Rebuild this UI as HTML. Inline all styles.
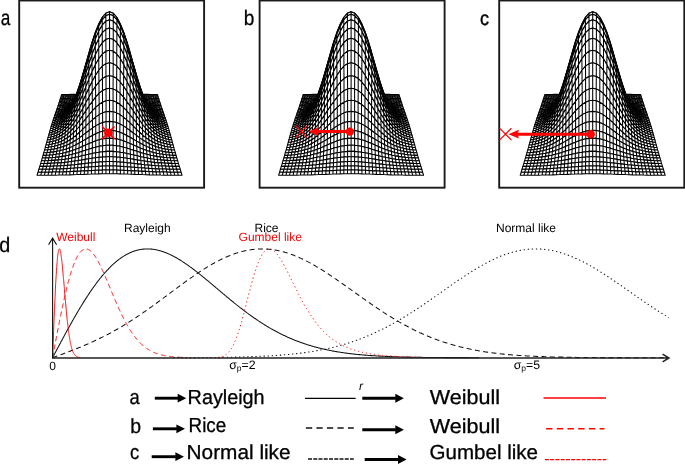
<!DOCTYPE html>
<html><head><meta charset="utf-8"><title>figure</title>
<style>html,body{margin:0;padding:0;background:#fff}svg{display:block;will-change:transform;opacity:0.999}text{font-family:"Liberation Sans",sans-serif;text-rendering:geometricPrecision}</style>
</head><body>
<svg width="685" height="464" viewBox="0 0 685 464">
<rect width="685" height="464" fill="#fff"/>
<defs><g id="m" fill="#fff" stroke="#000" stroke-width="1.05" stroke-linejoin="round">
<path stroke-width="1.3" d="M-12.1 -32.3L-9.7 -32.4L-9.6 -33.2L-12.0 -33.1ZM9.7 -32.4L12.1 -32.3L12.0 -33.1L9.6 -33.2ZM-9.7 -32.4L-7.3 -32.5L-7.2 -33.3L-9.6 -33.2ZM7.3 -32.5L9.7 -32.4L9.6 -33.2L7.2 -33.3ZM-7.3 -32.5L-4.8 -32.6L-4.8 -33.3L-7.2 -33.3ZM4.8 -32.6L7.3 -32.5L7.2 -33.3L4.8 -33.3ZM-4.8 -32.6L-2.4 -32.7L-2.4 -33.4L-4.8 -33.3ZM2.4 -32.7L4.8 -32.6L4.8 -33.3L2.4 -33.4ZM-2.4 -32.7L0.0 -32.7L0.0 -33.4L-2.4 -33.4ZM0.0 -32.7L2.4 -32.7L2.4 -33.4L0.0 -33.4Z"/>
<path d="M-48.3 -30.8L-45.9 -30.9L-45.5 -32.2L-47.9 -32.2ZM45.9 -30.9L48.3 -30.8L47.9 -32.2L45.5 -32.2ZM-45.9 -30.9L-43.5 -30.9L-43.1 -32.2L-45.5 -32.2ZM43.5 -30.9L45.9 -30.9L45.5 -32.2L43.1 -32.2ZM-43.5 -30.9L-41.1 -30.9L-40.7 -32.2L-43.1 -32.2ZM41.1 -30.9L43.5 -30.9L43.1 -32.2L40.7 -32.2ZM-41.1 -30.9L-38.7 -31.0L-38.3 -32.3L-40.7 -32.2ZM38.7 -31.0L41.1 -30.9L40.7 -32.2L38.3 -32.3ZM-38.7 -31.0L-36.2 -31.0L-35.9 -32.3L-38.3 -32.3ZM36.2 -31.0L38.7 -31.0L38.3 -32.3L35.9 -32.3ZM-36.2 -31.0L-33.8 -31.1L-33.5 -32.3L-35.9 -32.3ZM33.8 -31.1L36.2 -31.0L35.9 -32.3L33.5 -32.3ZM-33.8 -31.1L-31.4 -31.2L-31.2 -32.4L-33.5 -32.3ZM31.4 -31.2L33.8 -31.1L33.5 -32.3L31.2 -32.4ZM-31.4 -31.2L-29.0 -31.3L-28.8 -32.5L-31.2 -32.4ZM29.0 -31.3L31.4 -31.2L31.2 -32.4L28.8 -32.5ZM-29.0 -31.3L-26.6 -31.4L-26.4 -32.5L-28.8 -32.5ZM26.6 -31.4L29.0 -31.3L28.8 -32.5L26.4 -32.5ZM-26.6 -31.4L-24.2 -31.5L-24.0 -32.6L-26.4 -32.5ZM24.2 -31.5L26.6 -31.4L26.4 -32.5L24.0 -32.6ZM-24.2 -31.5L-21.8 -31.7L-21.6 -32.7L-24.0 -32.6ZM21.8 -31.7L24.2 -31.5L24.0 -32.6L21.6 -32.7ZM-21.8 -31.7L-19.4 -31.8L-19.2 -32.8L-21.6 -32.7ZM19.4 -31.8L21.8 -31.7L21.6 -32.7L19.2 -32.8ZM-19.4 -31.8L-16.9 -32.0L-16.8 -32.9L-19.2 -32.8ZM16.9 -32.0L19.4 -31.8L19.2 -32.8L16.8 -32.9ZM-16.9 -32.0L-14.5 -32.1L-14.4 -33.0L-16.8 -32.9ZM14.5 -32.1L16.9 -32.0L16.8 -32.9L14.4 -33.0ZM-14.5 -32.1L-12.1 -32.3L-12.0 -33.1L-14.4 -33.0ZM12.1 -32.3L14.5 -32.1L14.4 -33.0L12.0 -33.1Z"/>
<path stroke-width="1.3" d="M-17.1 -31.2L-14.7 -31.4L-14.5 -32.1L-16.9 -32.0ZM14.7 -31.4L17.1 -31.2L16.9 -32.0L14.5 -32.1ZM-14.7 -31.4L-12.2 -31.6L-12.1 -32.3L-14.5 -32.1ZM12.2 -31.6L14.7 -31.4L14.5 -32.1L12.1 -32.3ZM-12.2 -31.6L-9.8 -31.8L-9.7 -32.4L-12.1 -32.3ZM9.8 -31.8L12.2 -31.6L12.1 -32.3L9.7 -32.4ZM-9.8 -31.8L-7.3 -32.0L-7.3 -32.5L-9.7 -32.4ZM7.3 -32.0L9.8 -31.8L9.7 -32.4L7.3 -32.5ZM-7.3 -32.0L-4.9 -32.1L-4.8 -32.6L-7.3 -32.5ZM4.9 -32.1L7.3 -32.0L7.3 -32.5L4.8 -32.6ZM-4.9 -32.1L-2.5 -32.2L-2.4 -32.7L-4.8 -32.6ZM2.5 -32.2L4.9 -32.1L4.8 -32.6L2.4 -32.7ZM-2.5 -32.2L0.0 -32.2L0.0 -32.7L-2.4 -32.7ZM0.0 -32.2L2.5 -32.2L2.4 -32.7L0.0 -32.7Z"/>
<path d="M-48.7 -29.5L-46.3 -29.5L-45.9 -30.9L-48.3 -30.8ZM46.3 -29.5L48.7 -29.5L48.3 -30.8L45.9 -30.9ZM-46.3 -29.5L-43.9 -29.6L-43.5 -30.9L-45.9 -30.9ZM43.9 -29.6L46.3 -29.5L45.9 -30.9L43.5 -30.9ZM-43.9 -29.6L-41.4 -29.6L-41.1 -30.9L-43.5 -30.9ZM41.4 -29.6L43.9 -29.6L43.5 -30.9L41.1 -30.9ZM-41.4 -29.6L-39.0 -29.7L-38.7 -31.0L-41.1 -30.9ZM39.0 -29.7L41.4 -29.6L41.1 -30.9L38.7 -31.0ZM-39.0 -29.7L-36.6 -29.8L-36.2 -31.0L-38.7 -31.0ZM36.6 -29.8L39.0 -29.7L38.7 -31.0L36.2 -31.0ZM-36.6 -29.8L-34.1 -29.9L-33.8 -31.1L-36.2 -31.0ZM34.1 -29.9L36.6 -29.8L36.2 -31.0L33.8 -31.1ZM-34.1 -29.9L-31.7 -30.0L-31.4 -31.2L-33.8 -31.1ZM31.7 -30.0L34.1 -29.9L33.8 -31.1L31.4 -31.2ZM-31.7 -30.0L-29.3 -30.1L-29.0 -31.3L-31.4 -31.2ZM29.3 -30.1L31.7 -30.0L31.4 -31.2L29.0 -31.3ZM-29.3 -30.1L-26.8 -30.3L-26.6 -31.4L-29.0 -31.3ZM26.8 -30.3L29.3 -30.1L29.0 -31.3L26.6 -31.4ZM-26.8 -30.3L-24.4 -30.5L-24.2 -31.5L-26.6 -31.4ZM24.4 -30.5L26.8 -30.3L26.6 -31.4L24.2 -31.5ZM-24.4 -30.5L-22.0 -30.7L-21.8 -31.7L-24.2 -31.5ZM22.0 -30.7L24.4 -30.5L24.2 -31.5L21.8 -31.7ZM-22.0 -30.7L-19.6 -30.9L-19.4 -31.8L-21.8 -31.7ZM19.6 -30.9L22.0 -30.7L21.8 -31.7L19.4 -31.8ZM-19.6 -30.9L-17.1 -31.2L-16.9 -32.0L-19.4 -31.8ZM17.1 -31.2L19.6 -30.9L19.4 -31.8L16.9 -32.0Z"/>
<path stroke-width="1.3" d="M-22.2 -29.9L-19.7 -30.2L-19.6 -30.9L-22.0 -30.7ZM19.7 -30.2L22.2 -29.9L22.0 -30.7L19.6 -30.9ZM-19.7 -30.2L-17.3 -30.5L-17.1 -31.2L-19.6 -30.9ZM17.3 -30.5L19.7 -30.2L19.6 -30.9L17.1 -31.2ZM-17.3 -30.5L-14.8 -30.9L-14.7 -31.4L-17.1 -31.2ZM14.8 -30.9L17.3 -30.5L17.1 -31.2L14.7 -31.4ZM-14.8 -30.9L-12.4 -31.2L-12.2 -31.6L-14.7 -31.4ZM12.4 -31.2L14.8 -30.9L14.7 -31.4L12.2 -31.6ZM-12.4 -31.2L-9.9 -31.5L-9.8 -31.8L-12.2 -31.6ZM9.9 -31.5L12.4 -31.2L12.2 -31.6L9.8 -31.8ZM-9.9 -31.5L-7.4 -31.7L-7.3 -32.0L-9.8 -31.8ZM7.4 -31.7L9.9 -31.5L9.8 -31.8L7.3 -32.0ZM-7.4 -31.7L-5.0 -31.9L-4.9 -32.1L-7.3 -32.0ZM5.0 -31.9L7.4 -31.7L7.3 -32.0L4.9 -32.1ZM-5.0 -31.9L-2.5 -32.1L-2.5 -32.2L-4.9 -32.1ZM2.5 -32.1L5.0 -31.9L4.9 -32.1L2.5 -32.2ZM-2.5 -32.1L0.0 -32.1L0.0 -32.2L-2.5 -32.2ZM0.0 -32.1L2.5 -32.1L2.5 -32.2L0.0 -32.2Z"/>
<path d="M-49.2 -28.1L-46.7 -28.2L-46.3 -29.5L-48.7 -29.5ZM46.7 -28.2L49.2 -28.1L48.7 -29.5L46.3 -29.5ZM-46.7 -28.2L-44.3 -28.2L-43.9 -29.6L-46.3 -29.5ZM44.3 -28.2L46.7 -28.2L46.3 -29.5L43.9 -29.6ZM-44.3 -28.2L-41.8 -28.3L-41.4 -29.6L-43.9 -29.6ZM41.8 -28.3L44.3 -28.2L43.9 -29.6L41.4 -29.6ZM-41.8 -28.3L-39.3 -28.4L-39.0 -29.7L-41.4 -29.6ZM39.3 -28.4L41.8 -28.3L41.4 -29.6L39.0 -29.7ZM-39.3 -28.4L-36.9 -28.5L-36.6 -29.8L-39.0 -29.7ZM36.9 -28.5L39.3 -28.4L39.0 -29.7L36.6 -29.8ZM-36.9 -28.5L-34.4 -28.6L-34.1 -29.9L-36.6 -29.8ZM34.4 -28.6L36.9 -28.5L36.6 -29.8L34.1 -29.9ZM-34.4 -28.6L-32.0 -28.8L-31.7 -30.0L-34.1 -29.9ZM32.0 -28.8L34.4 -28.6L34.1 -29.9L31.7 -30.0ZM-32.0 -28.8L-29.6 -29.0L-29.3 -30.1L-31.7 -30.0ZM29.6 -29.0L32.0 -28.8L31.7 -30.0L29.3 -30.1ZM-29.6 -29.0L-27.1 -29.3L-26.8 -30.3L-29.3 -30.1ZM27.1 -29.3L29.6 -29.0L29.3 -30.1L26.8 -30.3ZM-27.1 -29.3L-24.7 -29.6L-24.4 -30.5L-26.8 -30.3ZM24.7 -29.6L27.1 -29.3L26.8 -30.3L24.4 -30.5ZM-24.7 -29.6L-22.2 -29.9L-22.0 -30.7L-24.4 -30.5ZM22.2 -29.9L24.7 -29.6L24.4 -30.5L22.0 -30.7Z"/>
<path stroke-width="1.3" d="M-27.4 -28.4L-24.9 -28.8L-24.7 -29.6L-27.1 -29.3ZM24.9 -28.8L27.4 -28.4L27.1 -29.3L24.7 -29.6ZM-24.9 -28.8L-22.4 -29.2L-22.2 -29.9L-24.7 -29.6ZM22.4 -29.2L24.9 -28.8L24.7 -29.6L22.2 -29.9ZM-22.4 -29.2L-20.0 -29.7L-19.7 -30.2L-22.2 -29.9ZM20.0 -29.7L22.4 -29.2L22.2 -29.9L19.7 -30.2ZM-20.0 -29.7L-17.5 -30.2L-17.3 -30.5L-19.7 -30.2ZM17.5 -30.2L20.0 -29.7L19.7 -30.2L17.3 -30.5ZM-17.5 -30.2L-15.0 -30.7L-14.8 -30.9L-17.3 -30.5ZM15.0 -30.7L17.5 -30.2L17.3 -30.5L14.8 -30.9ZM-15.0 -30.7L-12.5 -31.1L-12.4 -31.2L-14.8 -30.9ZM12.5 -31.1L15.0 -30.7L14.8 -30.9L12.4 -31.2ZM-12.5 -31.1L-10.0 -31.6L-9.9 -31.5L-12.4 -31.2ZM10.0 -31.6L12.5 -31.1L12.4 -31.2L9.9 -31.5ZM-10.0 -31.6L-7.5 -31.9L-7.4 -31.7L-9.9 -31.5ZM7.5 -31.9L10.0 -31.6L9.9 -31.5L7.4 -31.7ZM-7.5 -31.9L-5.0 -32.2L-5.0 -31.9L-7.4 -31.7ZM5.0 -32.2L7.5 -31.9L7.4 -31.7L5.0 -31.9ZM-5.0 -32.2L-2.5 -32.3L-2.5 -32.1L-5.0 -31.9ZM2.5 -32.3L5.0 -32.2L5.0 -31.9L2.5 -32.1ZM-2.5 -32.3L0.0 -32.4L0.0 -32.1L-2.5 -32.1ZM0.0 -32.4L2.5 -32.3L2.5 -32.1L0.0 -32.1Z"/>
<path d="M-49.6 -26.7L-47.1 -26.8L-46.7 -28.2L-49.2 -28.1ZM47.1 -26.8L49.6 -26.7L49.2 -28.1L46.7 -28.2ZM-47.1 -26.8L-44.6 -26.9L-44.3 -28.2L-46.7 -28.2ZM44.6 -26.9L47.1 -26.8L46.7 -28.2L44.3 -28.2ZM-44.6 -26.9L-42.2 -27.0L-41.8 -28.3L-44.3 -28.2ZM42.2 -27.0L44.6 -26.9L44.3 -28.2L41.8 -28.3ZM-42.2 -27.0L-39.7 -27.1L-39.3 -28.4L-41.8 -28.3ZM39.7 -27.1L42.2 -27.0L41.8 -28.3L39.3 -28.4ZM-39.7 -27.1L-37.2 -27.3L-36.9 -28.5L-39.3 -28.4ZM37.2 -27.3L39.7 -27.1L39.3 -28.4L36.9 -28.5ZM-37.2 -27.3L-34.8 -27.5L-34.4 -28.6L-36.9 -28.5ZM34.8 -27.5L37.2 -27.3L36.9 -28.5L34.4 -28.6ZM-34.8 -27.5L-32.3 -27.7L-32.0 -28.8L-34.4 -28.6ZM32.3 -27.7L34.8 -27.5L34.4 -28.6L32.0 -28.8ZM-32.3 -27.7L-29.8 -28.0L-29.6 -29.0L-32.0 -28.8ZM29.8 -28.0L32.3 -27.7L32.0 -28.8L29.6 -29.0ZM-29.8 -28.0L-27.4 -28.4L-27.1 -29.3L-29.6 -29.0ZM27.4 -28.4L29.8 -28.0L29.6 -29.0L27.1 -29.3Z"/>
<path stroke-width="1.3" d="M-30.1 -27.1L-27.7 -27.6L-27.4 -28.4L-29.8 -28.0ZM27.7 -27.6L30.1 -27.1L29.8 -28.0L27.4 -28.4ZM-27.7 -27.6L-25.2 -28.2L-24.9 -28.8L-27.4 -28.4ZM25.2 -28.2L27.7 -27.6L27.4 -28.4L24.9 -28.8ZM-25.2 -28.2L-22.7 -28.8L-22.4 -29.2L-24.9 -28.8ZM22.7 -28.8L25.2 -28.2L24.9 -28.8L22.4 -29.2ZM-22.7 -28.8L-20.2 -29.5L-20.0 -29.7L-22.4 -29.2ZM20.2 -29.5L22.7 -28.8L22.4 -29.2L20.0 -29.7ZM-20.2 -29.5L-17.7 -30.2L-17.5 -30.2L-20.0 -29.7ZM17.7 -30.2L20.2 -29.5L20.0 -29.7L17.5 -30.2ZM-17.7 -30.2L-15.2 -30.8L-15.0 -30.7L-17.5 -30.2ZM15.2 -30.8L17.7 -30.2L17.5 -30.2L15.0 -30.7ZM-15.2 -30.8L-12.7 -31.5L-12.5 -31.1L-15.0 -30.7ZM12.7 -31.5L15.2 -30.8L15.0 -30.7L12.5 -31.1ZM-12.7 -31.5L-10.1 -32.1L-10.0 -31.6L-12.5 -31.1ZM10.1 -32.1L12.7 -31.5L12.5 -31.1L10.0 -31.6ZM-10.1 -32.1L-7.6 -32.6L-7.5 -31.9L-10.0 -31.6ZM7.6 -32.6L10.1 -32.1L10.0 -31.6L7.5 -31.9ZM-7.6 -32.6L-5.1 -32.9L-5.0 -32.2L-7.5 -31.9ZM5.1 -32.9L7.6 -32.6L7.5 -31.9L5.0 -32.2Z"/>
<path d="M-50.0 -25.3L-47.5 -25.4L-47.1 -26.8L-49.6 -26.7ZM47.5 -25.4L50.0 -25.3L49.6 -26.7L47.1 -26.8ZM-47.5 -25.4L-45.0 -25.5L-44.6 -26.9L-47.1 -26.8ZM45.0 -25.5L47.5 -25.4L47.1 -26.8L44.6 -26.9ZM-45.0 -25.5L-42.6 -25.7L-42.2 -27.0L-44.6 -26.9ZM42.6 -25.7L45.0 -25.5L44.6 -26.9L42.2 -27.0ZM-42.6 -25.7L-40.1 -25.8L-39.7 -27.1L-42.2 -27.0ZM40.1 -25.8L42.6 -25.7L42.2 -27.0L39.7 -27.1ZM-40.1 -25.8L-37.6 -26.1L-37.2 -27.3L-39.7 -27.1ZM37.6 -26.1L40.1 -25.8L39.7 -27.1L37.2 -27.3ZM-37.6 -26.1L-35.1 -26.4L-34.8 -27.5L-37.2 -27.3ZM35.1 -26.4L37.6 -26.1L37.2 -27.3L34.8 -27.5ZM-35.1 -26.4L-32.6 -26.7L-32.3 -27.7L-34.8 -27.5ZM32.6 -26.7L35.1 -26.4L34.8 -27.5L32.3 -27.7ZM-32.6 -26.7L-30.1 -27.1L-29.8 -28.0L-32.3 -27.7ZM30.1 -27.1L32.6 -26.7L32.3 -27.7L29.8 -28.0ZM-5.1 -32.9L-2.5 -33.2L-2.5 -32.3L-5.0 -32.2ZM2.5 -33.2L5.1 -32.9L5.0 -32.2L2.5 -32.3ZM-2.5 -33.2L0.0 -33.2L0.0 -32.4L-2.5 -32.3ZM0.0 -33.2L2.5 -33.2L2.5 -32.3L0.0 -32.4Z"/>
<path stroke-width="1.3" d="M-32.9 -25.8L-30.5 -26.4L-30.1 -27.1L-32.6 -26.7ZM30.5 -26.4L32.9 -25.8L32.6 -26.7L30.1 -27.1ZM-30.5 -26.4L-28.0 -27.1L-27.7 -27.6L-30.1 -27.1ZM28.0 -27.1L30.5 -26.4L30.1 -27.1L27.7 -27.6ZM-28.0 -27.1L-25.5 -27.8L-25.2 -28.2L-27.7 -27.6ZM25.5 -27.8L28.0 -27.1L27.7 -27.6L25.2 -28.2ZM-25.5 -27.8L-22.9 -28.7L-22.7 -28.8L-25.2 -28.2ZM22.9 -28.7L25.5 -27.8L25.2 -28.2L22.7 -28.8ZM-22.9 -28.7L-20.4 -29.6L-20.2 -29.5L-22.7 -28.8ZM20.4 -29.6L22.9 -28.7L22.7 -28.8L20.2 -29.5ZM-20.4 -29.6L-17.9 -30.5L-17.7 -30.2L-20.2 -29.5ZM17.9 -30.5L20.4 -29.6L20.2 -29.5L17.7 -30.2ZM-17.9 -30.5L-15.4 -31.4L-15.2 -30.8L-17.7 -30.2ZM15.4 -31.4L17.9 -30.5L17.7 -30.2L15.2 -30.8Z"/>
<path d="M-50.5 -23.9L-48.0 -24.0L-47.5 -25.4L-50.0 -25.3ZM48.0 -24.0L50.5 -23.9L50.0 -25.3L47.5 -25.4ZM-48.0 -24.0L-45.5 -24.2L-45.0 -25.5L-47.5 -25.4ZM45.5 -24.2L48.0 -24.0L47.5 -25.4L45.0 -25.5ZM-45.5 -24.2L-43.0 -24.4L-42.6 -25.7L-45.0 -25.5ZM43.0 -24.4L45.5 -24.2L45.0 -25.5L42.6 -25.7ZM-43.0 -24.4L-40.4 -24.6L-40.1 -25.8L-42.6 -25.7ZM40.4 -24.6L43.0 -24.4L42.6 -25.7L40.1 -25.8ZM-40.4 -24.6L-37.9 -24.9L-37.6 -26.1L-40.1 -25.8ZM37.9 -24.9L40.4 -24.6L40.1 -25.8L37.6 -26.1ZM-37.9 -24.9L-35.4 -25.3L-35.1 -26.4L-37.6 -26.1ZM35.4 -25.3L37.9 -24.9L37.6 -26.1L35.1 -26.4ZM-35.4 -25.3L-32.9 -25.8L-32.6 -26.7L-35.1 -26.4ZM32.9 -25.8L35.4 -25.3L35.1 -26.4L32.6 -26.7ZM-15.4 -31.4L-12.8 -32.3L-12.7 -31.5L-15.2 -30.8ZM12.8 -32.3L15.4 -31.4L15.2 -30.8L12.7 -31.5ZM-12.8 -32.3L-10.3 -33.1L-10.1 -32.1L-12.7 -31.5ZM10.3 -33.1L12.8 -32.3L12.7 -31.5L10.1 -32.1ZM-10.3 -33.1L-7.7 -33.8L-7.6 -32.6L-10.1 -32.1ZM7.7 -33.8L10.3 -33.1L10.1 -32.1L7.6 -32.6ZM-7.7 -33.8L-5.2 -34.3L-5.1 -32.9L-7.6 -32.6ZM5.2 -34.3L7.7 -33.8L7.6 -32.6L5.1 -32.9ZM-5.2 -34.3L-2.6 -34.7L-2.5 -33.2L-5.1 -32.9ZM2.6 -34.7L5.2 -34.3L5.1 -32.9L2.5 -33.2ZM-2.6 -34.7L0.0 -34.8L0.0 -33.2L-2.5 -33.2ZM0.0 -34.8L2.6 -34.7L2.5 -33.2L0.0 -33.2Z"/>
<path stroke-width="1.3" d="M-35.8 -24.4L-33.3 -25.0L-32.9 -25.8L-35.4 -25.3ZM33.3 -25.0L35.8 -24.4L35.4 -25.3L32.9 -25.8ZM-33.3 -25.0L-30.8 -25.8L-30.5 -26.4L-32.9 -25.8ZM30.8 -25.8L33.3 -25.0L32.9 -25.8L30.5 -26.4ZM-30.8 -25.8L-28.3 -26.7L-28.0 -27.1L-30.5 -26.4ZM28.3 -26.7L30.8 -25.8L30.5 -26.4L28.0 -27.1ZM-28.3 -26.7L-25.8 -27.7L-25.5 -27.8L-28.0 -27.1ZM25.8 -27.7L28.3 -26.7L28.0 -27.1L25.5 -27.8ZM-25.8 -27.7L-23.2 -28.9L-22.9 -28.7L-25.5 -27.8ZM23.2 -28.9L25.8 -27.7L25.5 -27.8L22.9 -28.7ZM-23.2 -28.9L-20.7 -30.1L-20.4 -29.6L-22.9 -28.7ZM20.7 -30.1L23.2 -28.9L22.9 -28.7L20.4 -29.6ZM-20.7 -30.1L-18.2 -31.3L-17.9 -30.5L-20.4 -29.6ZM18.2 -31.3L20.7 -30.1L20.4 -29.6L17.9 -30.5Z"/>
<path d="M-51.0 -22.5L-48.4 -22.6L-48.0 -24.0L-50.5 -23.9ZM48.4 -22.6L51.0 -22.5L50.5 -23.9L48.0 -24.0ZM-48.4 -22.6L-45.9 -22.8L-45.5 -24.2L-48.0 -24.0ZM45.9 -22.8L48.4 -22.6L48.0 -24.0L45.5 -24.2ZM-45.9 -22.8L-43.4 -23.1L-43.0 -24.4L-45.5 -24.2ZM43.4 -23.1L45.9 -22.8L45.5 -24.2L43.0 -24.4ZM-43.4 -23.1L-40.8 -23.4L-40.4 -24.6L-43.0 -24.4ZM40.8 -23.4L43.4 -23.1L43.0 -24.4L40.4 -24.6ZM-40.8 -23.4L-38.3 -23.8L-37.9 -24.9L-40.4 -24.6ZM38.3 -23.8L40.8 -23.4L40.4 -24.6L37.9 -24.9ZM-38.3 -23.8L-35.8 -24.4L-35.4 -25.3L-37.9 -24.9ZM35.8 -24.4L38.3 -23.8L37.9 -24.9L35.4 -25.3ZM-18.2 -31.3L-15.6 -32.6L-15.4 -31.4L-17.9 -30.5ZM15.6 -32.6L18.2 -31.3L17.9 -30.5L15.4 -31.4ZM-15.6 -32.6L-13.0 -33.8L-12.8 -32.3L-15.4 -31.4ZM13.0 -33.8L15.6 -32.6L15.4 -31.4L12.8 -32.3ZM-13.0 -33.8L-10.5 -34.9L-10.3 -33.1L-12.8 -32.3ZM10.5 -34.9L13.0 -33.8L12.8 -32.3L10.3 -33.1ZM-10.5 -34.9L-7.9 -35.8L-7.7 -33.8L-10.3 -33.1ZM7.9 -35.8L10.5 -34.9L10.3 -33.1L7.7 -33.8ZM-7.9 -35.8L-5.2 -36.5L-5.2 -34.3L-7.7 -33.8ZM5.2 -36.5L7.9 -35.8L7.7 -33.8L5.2 -34.3ZM-5.2 -36.5L-2.6 -36.9L-2.6 -34.7L-5.2 -34.3ZM2.6 -36.9L5.2 -36.5L5.2 -34.3L2.6 -34.7ZM-2.6 -36.9L0.0 -37.1L0.0 -34.8L-2.6 -34.7ZM0.0 -37.1L2.6 -36.9L2.6 -34.7L0.0 -34.8Z"/>
<path stroke-width="1.3" d="M-36.2 -23.5L-33.7 -24.4L-33.3 -25.0L-35.8 -24.4ZM33.7 -24.4L36.2 -23.5L35.8 -24.4L33.3 -25.0ZM-33.7 -24.4L-31.1 -25.4L-30.8 -25.8L-33.3 -25.0ZM31.1 -25.4L33.7 -24.4L33.3 -25.0L30.8 -25.8ZM-31.1 -25.4L-28.6 -26.6L-28.3 -26.7L-30.8 -25.8ZM28.6 -26.6L31.1 -25.4L30.8 -25.8L28.3 -26.7ZM-28.6 -26.6L-26.1 -27.9L-25.8 -27.7L-28.3 -26.7ZM26.1 -27.9L28.6 -26.6L28.3 -26.7L25.8 -27.7ZM-26.1 -27.9L-23.6 -29.4L-23.2 -28.9L-25.8 -27.7ZM23.6 -29.4L26.1 -27.9L25.8 -27.7L23.2 -28.9Z"/>
<path d="M-51.4 -21.1L-48.9 -21.3L-48.4 -22.6L-51.0 -22.5ZM48.9 -21.3L51.4 -21.1L51.0 -22.5L48.4 -22.6ZM-48.9 -21.3L-46.3 -21.5L-45.9 -22.8L-48.4 -22.6ZM46.3 -21.5L48.9 -21.3L48.4 -22.6L45.9 -22.8ZM-46.3 -21.5L-43.8 -21.8L-43.4 -23.1L-45.9 -22.8ZM43.8 -21.8L46.3 -21.5L45.9 -22.8L43.4 -23.1ZM-43.8 -21.8L-41.2 -22.3L-40.8 -23.4L-43.4 -23.1ZM41.2 -22.3L43.8 -21.8L43.4 -23.1L40.8 -23.4ZM-41.2 -22.3L-38.7 -22.8L-38.3 -23.8L-40.8 -23.4ZM38.7 -22.8L41.2 -22.3L40.8 -23.4L38.3 -23.8ZM-38.7 -22.8L-36.2 -23.5L-35.8 -24.4L-38.3 -23.8ZM36.2 -23.5L38.7 -22.8L38.3 -23.8L35.8 -24.4ZM-23.6 -29.4L-21.0 -31.0L-20.7 -30.1L-23.2 -28.9ZM21.0 -31.0L23.6 -29.4L23.2 -28.9L20.7 -30.1ZM-21.0 -31.0L-18.4 -32.7L-18.2 -31.3L-20.7 -30.1ZM18.4 -32.7L21.0 -31.0L20.7 -30.1L18.2 -31.3ZM-18.4 -32.7L-15.9 -34.3L-15.6 -32.6L-18.2 -31.3ZM15.9 -34.3L18.4 -32.7L18.2 -31.3L15.6 -32.6ZM-15.9 -34.3L-13.3 -35.9L-13.0 -33.8L-15.6 -32.6ZM13.3 -35.9L15.9 -34.3L15.6 -32.6L13.0 -33.8ZM-13.3 -35.9L-10.6 -37.4L-10.5 -34.9L-13.0 -33.8ZM10.6 -37.4L13.3 -35.9L13.0 -33.8L10.5 -34.9ZM-10.6 -37.4L-8.0 -38.6L-7.9 -35.8L-10.5 -34.9ZM8.0 -38.6L10.6 -37.4L10.5 -34.9L7.9 -35.8ZM-8.0 -38.6L-5.3 -39.5L-5.2 -36.5L-7.9 -35.8ZM5.3 -39.5L8.0 -38.6L7.9 -35.8L5.2 -36.5ZM-5.3 -39.5L-2.7 -40.1L-2.6 -36.9L-5.2 -36.5ZM2.7 -40.1L5.3 -39.5L5.2 -36.5L2.6 -36.9ZM-2.7 -40.1L0.0 -40.3L0.0 -37.1L-2.6 -36.9ZM0.0 -40.3L2.7 -40.1L2.6 -36.9L0.0 -37.1Z"/>
<path stroke-width="1.3" d="M-39.1 -21.9L-36.6 -22.7L-36.2 -23.5L-38.7 -22.8ZM36.6 -22.7L39.1 -21.9L38.7 -22.8L36.2 -23.5ZM-36.6 -22.7L-34.0 -23.8L-33.7 -24.4L-36.2 -23.5ZM34.0 -23.8L36.6 -22.7L36.2 -23.5L33.7 -24.4ZM-34.0 -23.8L-31.5 -25.1L-31.1 -25.4L-33.7 -24.4ZM31.5 -25.1L34.0 -23.8L33.7 -24.4L31.1 -25.4ZM-31.5 -25.1L-29.0 -26.7L-28.6 -26.6L-31.1 -25.4ZM29.0 -26.7L31.5 -25.1L31.1 -25.4L28.6 -26.6ZM-29.0 -26.7L-26.4 -28.4L-26.1 -27.9L-28.6 -26.6ZM26.4 -28.4L29.0 -26.7L28.6 -26.6L26.1 -27.9Z"/>
<path d="M-51.9 -19.6L-49.3 -19.9L-48.9 -21.3L-51.4 -21.1ZM49.3 -19.9L51.9 -19.6L51.4 -21.1L48.9 -21.3ZM-49.3 -19.9L-46.8 -20.2L-46.3 -21.5L-48.9 -21.3ZM46.8 -20.2L49.3 -19.9L48.9 -21.3L46.3 -21.5ZM-46.8 -20.2L-44.2 -20.6L-43.8 -21.8L-46.3 -21.5ZM44.2 -20.6L46.8 -20.2L46.3 -21.5L43.8 -21.8ZM-44.2 -20.6L-41.7 -21.1L-41.2 -22.3L-43.8 -21.8ZM41.7 -21.1L44.2 -20.6L43.8 -21.8L41.2 -22.3ZM-41.7 -21.1L-39.1 -21.9L-38.7 -22.8L-41.2 -22.3ZM39.1 -21.9L41.7 -21.1L41.2 -22.3L38.7 -22.8ZM-26.4 -28.4L-23.9 -30.4L-23.6 -29.4L-26.1 -27.9ZM23.9 -30.4L26.4 -28.4L26.1 -27.9L23.6 -29.4ZM-23.9 -30.4L-21.3 -32.4L-21.0 -31.0L-23.6 -29.4ZM21.3 -32.4L23.9 -30.4L23.6 -29.4L21.0 -31.0ZM-21.3 -32.4L-18.8 -34.6L-18.4 -32.7L-21.0 -31.0ZM18.8 -34.6L21.3 -32.4L21.0 -31.0L18.4 -32.7ZM-18.8 -34.6L-16.1 -36.8L-15.9 -34.3L-18.4 -32.7ZM16.1 -36.8L18.8 -34.6L18.4 -32.7L15.9 -34.3ZM-16.1 -36.8L-13.5 -38.8L-13.3 -35.9L-15.9 -34.3ZM13.5 -38.8L16.1 -36.8L15.9 -34.3L13.3 -35.9ZM-13.5 -38.8L-10.9 -40.7L-10.6 -37.4L-13.3 -35.9ZM10.9 -40.7L13.5 -38.8L13.3 -35.9L10.6 -37.4ZM-10.9 -40.7L-8.2 -42.3L-8.0 -38.6L-10.6 -37.4ZM8.2 -42.3L10.9 -40.7L10.6 -37.4L8.0 -38.6ZM-8.2 -42.3L-5.5 -43.5L-5.3 -39.5L-8.0 -38.6ZM5.5 -43.5L8.2 -42.3L8.0 -38.6L5.3 -39.5ZM-5.5 -43.5L-2.7 -44.3L-2.7 -40.1L-5.3 -39.5ZM2.7 -44.3L5.5 -43.5L5.3 -39.5L2.7 -40.1ZM-2.7 -44.3L0.0 -44.6L0.0 -40.3L-2.7 -40.1ZM0.0 -44.6L2.7 -44.3L2.7 -40.1L0.0 -40.3Z"/>
<path stroke-width="1.3" d="M-39.5 -21.0L-37.0 -22.1L-36.6 -22.7L-39.1 -21.9ZM37.0 -22.1L39.5 -21.0L39.1 -21.9L36.6 -22.7ZM-37.0 -22.1L-34.4 -23.5L-34.0 -23.8L-36.6 -22.7ZM34.4 -23.5L37.0 -22.1L36.6 -22.7L34.0 -23.8ZM-34.4 -23.5L-31.9 -25.1L-31.5 -25.1L-34.0 -23.8ZM31.9 -25.1L34.4 -23.5L34.0 -23.8L31.5 -25.1ZM-31.9 -25.1L-29.4 -27.0L-29.0 -26.7L-31.5 -25.1ZM29.4 -27.0L31.9 -25.1L31.5 -25.1L29.0 -26.7Z"/>
<path d="M-52.4 -18.2L-49.8 -18.5L-49.3 -19.9L-51.9 -19.6ZM49.8 -18.5L52.4 -18.2L51.9 -19.6L49.3 -19.9ZM-49.8 -18.5L-47.2 -18.9L-46.8 -20.2L-49.3 -19.9ZM47.2 -18.9L49.8 -18.5L49.3 -19.9L46.8 -20.2ZM-47.2 -18.9L-44.7 -19.4L-44.2 -20.6L-46.8 -20.2ZM44.7 -19.4L47.2 -18.9L46.8 -20.2L44.2 -20.6ZM-44.7 -19.4L-42.1 -20.1L-41.7 -21.1L-44.2 -20.6ZM42.1 -20.1L44.7 -19.4L44.2 -20.6L41.7 -21.1ZM-42.1 -20.1L-39.5 -21.0L-39.1 -21.9L-41.7 -21.1ZM39.5 -21.0L42.1 -20.1L41.7 -21.1L39.1 -21.9ZM-29.4 -27.0L-26.8 -29.3L-26.4 -28.4L-29.0 -26.7ZM26.8 -29.3L29.4 -27.0L29.0 -26.7L26.4 -28.4ZM-26.8 -29.3L-24.3 -31.7L-23.9 -30.4L-26.4 -28.4ZM24.3 -31.7L26.8 -29.3L26.4 -28.4L23.9 -30.4ZM-24.3 -31.7L-21.7 -34.3L-21.3 -32.4L-23.9 -30.4ZM21.7 -34.3L24.3 -31.7L23.9 -30.4L21.3 -32.4ZM-21.7 -34.3L-19.1 -37.1L-18.8 -34.6L-21.3 -32.4ZM19.1 -37.1L21.7 -34.3L21.3 -32.4L18.8 -34.6ZM-19.1 -37.1L-16.5 -39.9L-16.1 -36.8L-18.8 -34.6ZM16.5 -39.9L19.1 -37.1L18.8 -34.6L16.1 -36.8ZM-16.5 -39.9L-13.8 -42.5L-13.5 -38.8L-16.1 -36.8ZM13.8 -42.5L16.5 -39.9L16.1 -36.8L13.5 -38.8ZM-13.8 -42.5L-11.1 -44.9L-10.9 -40.7L-13.5 -38.8ZM11.1 -44.9L13.8 -42.5L13.5 -38.8L10.9 -40.7ZM-11.1 -44.9L-8.3 -47.0L-8.2 -42.3L-10.9 -40.7ZM8.3 -47.0L11.1 -44.9L10.9 -40.7L8.2 -42.3ZM-8.3 -47.0L-5.6 -48.6L-5.5 -43.5L-8.2 -42.3ZM5.6 -48.6L8.3 -47.0L8.2 -42.3L5.5 -43.5ZM-5.6 -48.6L-2.8 -49.6L-2.7 -44.3L-5.5 -43.5ZM2.8 -49.6L5.6 -48.6L5.5 -43.5L2.7 -44.3ZM-2.8 -49.6L0.0 -49.9L0.0 -44.6L-2.7 -44.3ZM0.0 -49.9L2.8 -49.6L2.7 -44.3L0.0 -44.6Z"/>
<path stroke-width="1.3" d="M-42.5 -19.0L-40.0 -20.1L-39.5 -21.0L-42.1 -20.1ZM40.0 -20.1L42.5 -19.0L42.1 -20.1L39.5 -21.0ZM-40.0 -20.1L-37.4 -21.5L-37.0 -22.1L-39.5 -21.0ZM37.4 -21.5L40.0 -20.1L39.5 -21.0L37.0 -22.1ZM-37.4 -21.5L-34.9 -23.2L-34.4 -23.5L-37.0 -22.1ZM34.9 -23.2L37.4 -21.5L37.0 -22.1L34.4 -23.5ZM-34.9 -23.2L-32.3 -25.3L-31.9 -25.1L-34.4 -23.5ZM32.3 -25.3L34.9 -23.2L34.4 -23.5L31.9 -25.1ZM-32.3 -25.3L-29.8 -27.6L-29.4 -27.0L-31.9 -25.1ZM29.8 -27.6L32.3 -25.3L31.9 -25.1L29.4 -27.0Z"/>
<path d="M-52.9 -16.7L-50.3 -17.1L-49.8 -18.5L-52.4 -18.2ZM50.3 -17.1L52.9 -16.7L52.4 -18.2L49.8 -18.5ZM-50.3 -17.1L-47.7 -17.5L-47.2 -18.9L-49.8 -18.5ZM47.7 -17.5L50.3 -17.1L49.8 -18.5L47.2 -18.9ZM-47.7 -17.5L-45.1 -18.2L-44.7 -19.4L-47.2 -18.9ZM45.1 -18.2L47.7 -17.5L47.2 -18.9L44.7 -19.4ZM-45.1 -18.2L-42.5 -19.0L-42.1 -20.1L-44.7 -19.4ZM42.5 -19.0L45.1 -18.2L44.7 -19.4L42.1 -20.1ZM-29.8 -27.6L-27.2 -30.4L-26.8 -29.3L-29.4 -27.0ZM27.2 -30.4L29.8 -27.6L29.4 -27.0L26.8 -29.3ZM-27.2 -30.4L-24.7 -33.4L-24.3 -31.7L-26.8 -29.3ZM24.7 -33.4L27.2 -30.4L26.8 -29.3L24.3 -31.7ZM-24.7 -33.4L-22.1 -36.7L-21.7 -34.3L-24.3 -31.7ZM22.1 -36.7L24.7 -33.4L24.3 -31.7L21.7 -34.3ZM-22.1 -36.7L-19.5 -40.2L-19.1 -37.1L-21.7 -34.3ZM19.5 -40.2L22.1 -36.7L21.7 -34.3L19.1 -37.1ZM-19.5 -40.2L-16.8 -43.6L-16.5 -39.9L-19.1 -37.1ZM16.8 -43.6L19.5 -40.2L19.1 -37.1L16.5 -39.9ZM-16.8 -43.6L-14.1 -47.0L-13.8 -42.5L-16.5 -39.9ZM14.1 -47.0L16.8 -43.6L16.5 -39.9L13.8 -42.5ZM-14.1 -47.0L-11.3 -50.0L-11.1 -44.9L-13.8 -42.5ZM11.3 -50.0L14.1 -47.0L13.8 -42.5L11.1 -44.9ZM-11.3 -50.0L-8.6 -52.6L-8.3 -47.0L-11.1 -44.9ZM8.6 -52.6L11.3 -50.0L11.1 -44.9L8.3 -47.0ZM-8.6 -52.6L-5.7 -54.6L-5.6 -48.6L-8.3 -47.0ZM5.7 -54.6L8.6 -52.6L8.3 -47.0L5.6 -48.6ZM-5.7 -54.6L-2.9 -55.8L-2.8 -49.6L-5.6 -48.6ZM2.9 -55.8L5.7 -54.6L5.6 -48.6L2.8 -49.6ZM-2.9 -55.8L0.0 -56.3L0.0 -49.9L-2.8 -49.6ZM0.0 -56.3L2.9 -55.8L2.8 -49.6L0.0 -49.9Z"/>
<path stroke-width="1.3" d="M-43.0 -18.0L-40.4 -19.3L-40.0 -20.1L-42.5 -19.0ZM40.4 -19.3L43.0 -18.0L42.5 -19.0L40.0 -20.1ZM-40.4 -19.3L-37.9 -21.0L-37.4 -21.5L-40.0 -20.1ZM37.9 -21.0L40.4 -19.3L40.0 -20.1L37.4 -21.5ZM-37.9 -21.0L-35.3 -23.1L-34.9 -23.2L-37.4 -21.5ZM35.3 -23.1L37.9 -21.0L37.4 -21.5L34.9 -23.2ZM-35.3 -23.1L-32.8 -25.5L-32.3 -25.3L-34.9 -23.2ZM32.8 -25.5L35.3 -23.1L34.9 -23.2L32.3 -25.3Z"/>
<path d="M-53.4 -15.2L-50.8 -15.6L-50.3 -17.1L-52.9 -16.7ZM50.8 -15.6L53.4 -15.2L52.9 -16.7L50.3 -17.1ZM-50.8 -15.6L-48.2 -16.2L-47.7 -17.5L-50.3 -17.1ZM48.2 -16.2L50.8 -15.6L50.3 -17.1L47.7 -17.5ZM-48.2 -16.2L-45.6 -17.0L-45.1 -18.2L-47.7 -17.5ZM45.6 -17.0L48.2 -16.2L47.7 -17.5L45.1 -18.2ZM-45.6 -17.0L-43.0 -18.0L-42.5 -19.0L-45.1 -18.2ZM43.0 -18.0L45.6 -17.0L45.1 -18.2L42.5 -19.0ZM-32.8 -25.5L-30.2 -28.4L-29.8 -27.6L-32.3 -25.3ZM30.2 -28.4L32.8 -25.5L32.3 -25.3L29.8 -27.6ZM-30.2 -28.4L-27.7 -31.8L-27.2 -30.4L-29.8 -27.6ZM27.7 -31.8L30.2 -28.4L29.8 -27.6L27.2 -30.4ZM-27.7 -31.8L-25.1 -35.5L-24.7 -33.4L-27.2 -30.4ZM25.1 -35.5L27.7 -31.8L27.2 -30.4L24.7 -33.4ZM-25.1 -35.5L-22.5 -39.5L-22.1 -36.7L-24.7 -33.4ZM22.5 -39.5L25.1 -35.5L24.7 -33.4L22.1 -36.7ZM-22.5 -39.5L-19.9 -43.7L-19.5 -40.2L-22.1 -36.7ZM19.9 -43.7L22.5 -39.5L22.1 -36.7L19.5 -40.2ZM-19.9 -43.7L-17.2 -48.0L-16.8 -43.6L-19.5 -40.2ZM17.2 -48.0L19.9 -43.7L19.5 -40.2L16.8 -43.6ZM-17.2 -48.0L-14.4 -52.1L-14.1 -47.0L-16.8 -43.6ZM14.4 -52.1L17.2 -48.0L16.8 -43.6L14.1 -47.0ZM-14.4 -52.1L-11.6 -55.9L-11.3 -50.0L-14.1 -47.0ZM11.6 -55.9L14.4 -52.1L14.1 -47.0L11.3 -50.0ZM-11.6 -55.9L-8.8 -59.1L-8.6 -52.6L-11.3 -50.0ZM8.8 -59.1L11.6 -55.9L11.3 -50.0L8.6 -52.6ZM-8.8 -59.1L-5.9 -61.6L-5.7 -54.6L-8.6 -52.6ZM5.9 -61.6L8.8 -59.1L8.6 -52.6L5.7 -54.6ZM-5.9 -61.6L-2.9 -63.1L-2.9 -55.8L-5.7 -54.6ZM2.9 -63.1L5.9 -61.6L5.7 -54.6L2.9 -55.8ZM-2.9 -63.1L0.0 -63.7L0.0 -56.3L-2.9 -55.8ZM0.0 -63.7L2.9 -63.1L2.9 -55.8L0.0 -56.3Z"/>
<path stroke-width="1.3" d="M-43.5 -17.0L-40.9 -18.6L-40.4 -19.3L-43.0 -18.0ZM40.9 -18.6L43.5 -17.0L43.0 -18.0L40.4 -19.3ZM-40.9 -18.6L-38.3 -20.5L-37.9 -21.0L-40.4 -19.3ZM38.3 -20.5L40.9 -18.6L40.4 -19.3L37.9 -21.0ZM-38.3 -20.5L-35.8 -23.0L-35.3 -23.1L-37.9 -21.0ZM35.8 -23.0L38.3 -20.5L37.9 -21.0L35.3 -23.1ZM-35.8 -23.0L-33.2 -25.9L-32.8 -25.5L-35.3 -23.1ZM33.2 -25.9L35.8 -23.0L35.3 -23.1L32.8 -25.5Z"/>
<path d="M-54.0 -13.7L-51.3 -14.2L-50.8 -15.6L-53.4 -15.2ZM51.3 -14.2L54.0 -13.7L53.4 -15.2L50.8 -15.6ZM-51.3 -14.2L-48.7 -14.9L-48.2 -16.2L-50.8 -15.6ZM48.7 -14.9L51.3 -14.2L50.8 -15.6L48.2 -16.2ZM-48.7 -14.9L-46.1 -15.8L-45.6 -17.0L-48.2 -16.2ZM46.1 -15.8L48.7 -14.9L48.2 -16.2L45.6 -17.0ZM-46.1 -15.8L-43.5 -17.0L-43.0 -18.0L-45.6 -17.0ZM43.5 -17.0L46.1 -15.8L45.6 -17.0L43.0 -18.0ZM-33.2 -25.9L-30.7 -29.4L-30.2 -28.4L-32.8 -25.5ZM30.7 -29.4L33.2 -25.9L32.8 -25.5L30.2 -28.4ZM-30.7 -29.4L-28.1 -33.3L-27.7 -31.8L-30.2 -28.4ZM28.1 -33.3L30.7 -29.4L30.2 -28.4L27.7 -31.8ZM-28.1 -33.3L-25.5 -37.8L-25.1 -35.5L-27.7 -31.8ZM25.5 -37.8L28.1 -33.3L27.7 -31.8L25.1 -35.5ZM-25.5 -37.8L-22.9 -42.6L-22.5 -39.5L-25.1 -35.5ZM22.9 -42.6L25.5 -37.8L25.1 -35.5L22.5 -39.5ZM-22.9 -42.6L-20.3 -47.7L-19.9 -43.7L-22.5 -39.5ZM20.3 -47.7L22.9 -42.6L22.5 -39.5L19.9 -43.7ZM-20.3 -47.7L-17.6 -52.8L-17.2 -48.0L-19.9 -43.7ZM17.6 -52.8L20.3 -47.7L19.9 -43.7L17.2 -48.0ZM-17.6 -52.8L-14.8 -57.8L-14.4 -52.1L-17.2 -48.0ZM14.8 -57.8L17.6 -52.8L17.2 -48.0L14.4 -52.1ZM-14.8 -57.8L-11.9 -62.4L-11.6 -55.9L-14.4 -52.1ZM11.9 -62.4L14.8 -57.8L14.4 -52.1L11.6 -55.9ZM-11.9 -62.4L-9.0 -66.3L-8.8 -59.1L-11.6 -55.9ZM9.0 -66.3L11.9 -62.4L11.6 -55.9L8.8 -59.1ZM-9.0 -66.3L-6.0 -69.3L-5.9 -61.6L-8.8 -59.1ZM6.0 -69.3L9.0 -66.3L8.8 -59.1L5.9 -61.6ZM-6.0 -69.3L-3.0 -71.2L-2.9 -63.1L-5.9 -61.6ZM3.0 -71.2L6.0 -69.3L5.9 -61.6L2.9 -63.1ZM-3.0 -71.2L0.0 -71.9L0.0 -63.7L-2.9 -63.1ZM0.0 -71.9L3.0 -71.2L2.9 -63.1L0.0 -63.7Z"/>
<path stroke-width="1.3" d="M-44.0 -16.0L-41.4 -17.8L-40.9 -18.6L-43.5 -17.0ZM41.4 -17.8L44.0 -16.0L43.5 -17.0L40.9 -18.6ZM-41.4 -17.8L-38.8 -20.1L-38.3 -20.5L-40.9 -18.6ZM38.8 -20.1L41.4 -17.8L40.9 -18.6L38.3 -20.5ZM-38.8 -20.1L-36.2 -22.9L-35.8 -23.0L-38.3 -20.5ZM36.2 -22.9L38.8 -20.1L38.3 -20.5L35.8 -23.0ZM-36.2 -22.9L-33.7 -26.3L-33.2 -25.9L-35.8 -23.0ZM33.7 -26.3L36.2 -22.9L35.8 -23.0L33.2 -25.9Z"/>
<path d="M-54.5 -12.2L-51.8 -12.7L-51.3 -14.2L-54.0 -13.7ZM51.8 -12.7L54.5 -12.2L54.0 -13.7L51.3 -14.2ZM-51.8 -12.7L-49.2 -13.5L-48.7 -14.9L-51.3 -14.2ZM49.2 -13.5L51.8 -12.7L51.3 -14.2L48.7 -14.9ZM-49.2 -13.5L-46.6 -14.6L-46.1 -15.8L-48.7 -14.9ZM46.6 -14.6L49.2 -13.5L48.7 -14.9L46.1 -15.8ZM-46.6 -14.6L-44.0 -16.0L-43.5 -17.0L-46.1 -15.8ZM44.0 -16.0L46.6 -14.6L46.1 -15.8L43.5 -17.0ZM-33.7 -26.3L-31.2 -30.3L-30.7 -29.4L-33.2 -25.9ZM31.2 -30.3L33.7 -26.3L33.2 -25.9L30.7 -29.4ZM-31.2 -30.3L-28.6 -34.9L-28.1 -33.3L-30.7 -29.4ZM28.6 -34.9L31.2 -30.3L30.7 -29.4L28.1 -33.3ZM-28.6 -34.9L-26.0 -40.1L-25.5 -37.8L-28.1 -33.3ZM26.0 -40.1L28.6 -34.9L28.1 -33.3L25.5 -37.8ZM-26.0 -40.1L-23.4 -45.8L-22.9 -42.6L-25.5 -37.8ZM23.4 -45.8L26.0 -40.1L25.5 -37.8L22.9 -42.6ZM-23.4 -45.8L-20.7 -51.8L-20.3 -47.7L-22.9 -42.6ZM20.7 -51.8L23.4 -45.8L22.9 -42.6L20.3 -47.7ZM-20.7 -51.8L-18.0 -57.9L-17.6 -52.8L-20.3 -47.7ZM18.0 -57.9L20.7 -51.8L20.3 -47.7L17.6 -52.8ZM-18.0 -57.9L-15.2 -63.8L-14.8 -57.8L-17.6 -52.8ZM15.2 -63.8L18.0 -57.9L17.6 -52.8L14.8 -57.8ZM-15.2 -63.8L-12.3 -69.3L-11.9 -62.4L-14.8 -57.8ZM12.3 -69.3L15.2 -63.8L14.8 -57.8L11.9 -62.4ZM-12.3 -69.3L-9.3 -74.0L-9.0 -66.3L-11.9 -62.4ZM9.3 -74.0L12.3 -69.3L11.9 -62.4L9.0 -66.3ZM-9.3 -74.0L-6.2 -77.6L-6.0 -69.3L-9.0 -66.3ZM6.2 -77.6L9.3 -74.0L9.0 -66.3L6.0 -69.3ZM-6.2 -77.6L-3.1 -79.8L-3.0 -71.2L-6.0 -69.3ZM3.1 -79.8L6.2 -77.6L6.0 -69.3L3.0 -71.2ZM-3.1 -79.8L0.0 -80.6L0.0 -71.9L-3.0 -71.2ZM0.0 -80.6L3.1 -79.8L3.0 -71.2L0.0 -71.9Z"/>
<path stroke-width="1.3" d="M-44.4 -14.9L-41.9 -17.0L-41.4 -17.8L-44.0 -16.0ZM41.9 -17.0L44.4 -14.9L44.0 -16.0L41.4 -17.8ZM-41.9 -17.0L-39.3 -19.5L-38.8 -20.1L-41.4 -17.8ZM39.3 -19.5L41.9 -17.0L41.4 -17.8L38.8 -20.1ZM-39.3 -19.5L-36.7 -22.7L-36.2 -22.9L-38.8 -20.1ZM36.7 -22.7L39.3 -19.5L38.8 -20.1L36.2 -22.9ZM-36.7 -22.7L-34.2 -26.6L-33.7 -26.3L-36.2 -22.9ZM34.2 -26.6L36.7 -22.7L36.2 -22.9L33.7 -26.3Z"/>
<path d="M-55.0 -10.6L-52.4 -11.2L-51.8 -12.7L-54.5 -12.2ZM52.4 -11.2L55.0 -10.6L54.5 -12.2L51.8 -12.7ZM-52.4 -11.2L-49.7 -12.1L-49.2 -13.5L-51.8 -12.7ZM49.7 -12.1L52.4 -11.2L51.8 -12.7L49.2 -13.5ZM-49.7 -12.1L-47.1 -13.3L-46.6 -14.6L-49.2 -13.5ZM47.1 -13.3L49.7 -12.1L49.2 -13.5L46.6 -14.6ZM-47.1 -13.3L-44.4 -14.9L-44.0 -16.0L-46.6 -14.6ZM44.4 -14.9L47.1 -13.3L46.6 -14.6L44.0 -16.0ZM-34.2 -26.6L-31.6 -31.2L-31.2 -30.3L-33.7 -26.3ZM31.6 -31.2L34.2 -26.6L33.7 -26.3L31.2 -30.3ZM-31.6 -31.2L-29.1 -36.5L-28.6 -34.9L-31.2 -30.3ZM29.1 -36.5L31.6 -31.2L31.2 -30.3L28.6 -34.9ZM-29.1 -36.5L-26.5 -42.4L-26.0 -40.1L-28.6 -34.9ZM26.5 -42.4L29.1 -36.5L28.6 -34.9L26.0 -40.1ZM-26.5 -42.4L-23.9 -49.0L-23.4 -45.8L-26.0 -40.1ZM23.9 -49.0L26.5 -42.4L26.0 -40.1L23.4 -45.8ZM-23.9 -49.0L-21.2 -55.9L-20.7 -51.8L-23.4 -45.8ZM21.2 -55.9L23.9 -49.0L23.4 -45.8L20.7 -51.8ZM-21.2 -55.9L-18.4 -62.9L-18.0 -57.9L-20.7 -51.8ZM18.4 -62.9L21.2 -55.9L20.7 -51.8L18.0 -57.9ZM-18.4 -62.9L-15.5 -69.8L-15.2 -63.8L-18.0 -57.9ZM15.5 -69.8L18.4 -62.9L18.0 -57.9L15.2 -63.8ZM-15.5 -69.8L-12.6 -76.2L-12.3 -69.3L-15.2 -63.8ZM12.6 -76.2L15.5 -69.8L15.2 -63.8L12.3 -69.3ZM-12.6 -76.2L-9.5 -81.7L-9.3 -74.0L-12.3 -69.3ZM9.5 -81.7L12.6 -76.2L12.3 -69.3L9.3 -74.0ZM-9.5 -81.7L-6.4 -85.9L-6.2 -77.6L-9.3 -74.0ZM6.4 -85.9L9.5 -81.7L9.3 -74.0L6.2 -77.6ZM-6.4 -85.9L-3.2 -88.6L-3.1 -79.8L-6.2 -77.6ZM3.2 -88.6L6.4 -85.9L6.2 -77.6L3.1 -79.8ZM-3.2 -88.6L0.0 -89.5L0.0 -80.6L-3.1 -79.8ZM0.0 -89.5L3.2 -88.6L3.1 -79.8L0.0 -80.6Z"/>
<path stroke-width="1.3" d="M-44.9 -13.7L-42.3 -16.0L-41.9 -17.0L-44.4 -14.9ZM42.3 -16.0L44.9 -13.7L44.4 -14.9L41.9 -17.0ZM-42.3 -16.0L-39.8 -18.9L-39.3 -19.5L-41.9 -17.0ZM39.8 -18.9L42.3 -16.0L41.9 -17.0L39.3 -19.5ZM-39.8 -18.9L-37.2 -22.4L-36.7 -22.7L-39.3 -19.5ZM37.2 -22.4L39.8 -18.9L39.3 -19.5L36.7 -22.7ZM-37.2 -22.4L-34.7 -26.8L-34.2 -26.6L-36.7 -22.7ZM34.7 -26.8L37.2 -22.4L36.7 -22.7L34.2 -26.6Z"/>
<path d="M-55.6 -9.0L-52.9 -9.7L-52.4 -11.2L-55.0 -10.6ZM52.9 -9.7L55.6 -9.0L55.0 -10.6L52.4 -11.2ZM-52.9 -9.7L-50.2 -10.7L-49.7 -12.1L-52.4 -11.2ZM50.2 -10.7L52.9 -9.7L52.4 -11.2L49.7 -12.1ZM-50.2 -10.7L-47.6 -12.0L-47.1 -13.3L-49.7 -12.1ZM47.6 -12.0L50.2 -10.7L49.7 -12.1L47.1 -13.3ZM-47.6 -12.0L-44.9 -13.7L-44.4 -14.9L-47.1 -13.3ZM44.9 -13.7L47.6 -12.0L47.1 -13.3L44.4 -14.9ZM-34.7 -26.8L-32.1 -31.9L-31.6 -31.2L-34.2 -26.6ZM32.1 -31.9L34.7 -26.8L34.2 -26.6L31.6 -31.2ZM-32.1 -31.9L-29.6 -37.8L-29.1 -36.5L-31.6 -31.2ZM29.6 -37.8L32.1 -31.9L31.6 -31.2L29.1 -36.5ZM-29.6 -37.8L-27.0 -44.5L-26.5 -42.4L-29.1 -36.5ZM27.0 -44.5L29.6 -37.8L29.1 -36.5L26.5 -42.4ZM-27.0 -44.5L-24.3 -51.8L-23.9 -49.0L-26.5 -42.4ZM24.3 -51.8L27.0 -44.5L26.5 -42.4L23.9 -49.0ZM-24.3 -51.8L-21.6 -59.6L-21.2 -55.9L-23.9 -49.0ZM21.6 -59.6L24.3 -51.8L23.9 -49.0L21.2 -55.9ZM-21.6 -59.6L-18.8 -67.6L-18.4 -62.9L-21.2 -55.9ZM18.8 -67.6L21.6 -59.6L21.2 -55.9L18.4 -62.9ZM-18.8 -67.6L-15.9 -75.4L-15.5 -69.8L-18.4 -62.9ZM15.9 -75.4L18.8 -67.6L18.4 -62.9L15.5 -69.8ZM-15.9 -75.4L-12.9 -82.7L-12.6 -76.2L-15.5 -69.8ZM12.9 -82.7L15.9 -75.4L15.5 -69.8L12.6 -76.2ZM-12.9 -82.7L-9.8 -88.9L-9.5 -81.7L-12.6 -76.2ZM9.8 -88.9L12.9 -82.7L12.6 -76.2L9.5 -81.7ZM-9.8 -88.9L-6.6 -93.8L-6.4 -85.9L-9.5 -81.7ZM6.6 -93.8L9.8 -88.9L9.5 -81.7L6.4 -85.9ZM-6.6 -93.8L-3.3 -96.8L-3.2 -88.6L-6.4 -85.9ZM3.3 -96.8L6.6 -93.8L6.4 -85.9L3.2 -88.6ZM-3.3 -96.8L0.0 -97.9L0.0 -89.5L-3.2 -88.6ZM0.0 -97.9L3.3 -96.8L3.2 -88.6L0.0 -89.5Z"/>
<path stroke-width="1.3" d="M-45.4 -12.5L-42.8 -14.9L-42.3 -16.0L-44.9 -13.7ZM42.8 -14.9L45.4 -12.5L44.9 -13.7L42.3 -16.0ZM-42.8 -14.9L-40.2 -18.0L-39.8 -18.9L-42.3 -16.0ZM40.2 -18.0L42.8 -14.9L42.3 -16.0L39.8 -18.9ZM-40.2 -18.0L-37.7 -21.9L-37.2 -22.4L-39.8 -18.9ZM37.7 -21.9L40.2 -18.0L39.8 -18.9L37.2 -22.4ZM-37.7 -21.9L-35.1 -26.6L-34.7 -26.8L-37.2 -22.4ZM35.1 -26.6L37.7 -21.9L37.2 -22.4L34.7 -26.8Z"/>
<path d="M-56.2 -7.3L-53.4 -8.1L-52.9 -9.7L-55.6 -9.0ZM53.4 -8.1L56.2 -7.3L55.6 -9.0L52.9 -9.7ZM-53.4 -8.1L-50.8 -9.1L-50.2 -10.7L-52.9 -9.7ZM50.8 -9.1L53.4 -8.1L52.9 -9.7L50.2 -10.7ZM-50.8 -9.1L-48.1 -10.6L-47.6 -12.0L-50.2 -10.7ZM48.1 -10.6L50.8 -9.1L50.2 -10.7L47.6 -12.0ZM-48.1 -10.6L-45.4 -12.5L-44.9 -13.7L-47.6 -12.0ZM45.4 -12.5L48.1 -10.6L47.6 -12.0L44.9 -13.7ZM-35.1 -26.6L-32.6 -32.2L-32.1 -31.9L-34.7 -26.8ZM32.6 -32.2L35.1 -26.6L34.7 -26.8L32.1 -31.9ZM-32.6 -32.2L-30.0 -38.7L-29.6 -37.8L-32.1 -31.9ZM30.0 -38.7L32.6 -32.2L32.1 -31.9L29.6 -37.8ZM-30.0 -38.7L-27.4 -46.0L-27.0 -44.5L-29.6 -37.8ZM27.4 -46.0L30.0 -38.7L29.6 -37.8L27.0 -44.5ZM-27.4 -46.0L-24.8 -54.1L-24.3 -51.8L-27.0 -44.5ZM24.8 -54.1L27.4 -46.0L27.0 -44.5L24.3 -51.8ZM-24.8 -54.1L-22.1 -62.7L-21.6 -59.6L-24.3 -51.8ZM22.1 -62.7L24.8 -54.1L24.3 -51.8L21.6 -59.6ZM-22.1 -62.7L-19.2 -71.5L-18.8 -67.6L-21.6 -59.6ZM19.2 -71.5L22.1 -62.7L21.6 -59.6L18.8 -67.6ZM-19.2 -71.5L-16.3 -80.2L-15.9 -75.4L-18.8 -67.6ZM16.3 -80.2L19.2 -71.5L18.8 -67.6L15.9 -75.4ZM-16.3 -80.2L-13.2 -88.2L-12.9 -82.7L-15.9 -75.4ZM13.2 -88.2L16.3 -80.2L15.9 -75.4L12.9 -82.7ZM-13.2 -88.2L-10.1 -95.2L-9.8 -88.9L-12.9 -82.7ZM10.1 -95.2L13.2 -88.2L12.9 -82.7L9.8 -88.9ZM-10.1 -95.2L-6.8 -100.7L-6.6 -93.8L-9.8 -88.9ZM6.8 -100.7L10.1 -95.2L9.8 -88.9L6.6 -93.8ZM-6.8 -100.7L-3.4 -104.1L-3.3 -96.8L-6.6 -93.8ZM3.4 -104.1L6.8 -100.7L6.6 -93.8L3.3 -96.8ZM-3.4 -104.1L0.0 -105.3L0.0 -97.9L-3.3 -96.8ZM0.0 -105.3L3.4 -104.1L3.3 -96.8L0.0 -97.9Z"/>
<path stroke-width="1.3" d="M-43.3 -13.7L-40.7 -17.0L-40.2 -18.0L-42.8 -14.9ZM40.7 -17.0L43.3 -13.7L42.8 -14.9L40.2 -18.0ZM-40.7 -17.0L-38.2 -21.1L-37.7 -21.9L-40.2 -18.0ZM38.2 -21.1L40.7 -17.0L40.2 -18.0L37.7 -21.9ZM-38.2 -21.1L-35.6 -26.1L-35.1 -26.6L-37.7 -21.9ZM35.6 -26.1L38.2 -21.1L37.7 -21.9L35.1 -26.6ZM-35.6 -26.1L-33.0 -32.1L-32.6 -32.2L-35.1 -26.6ZM33.0 -32.1L35.6 -26.1L35.1 -26.6L32.6 -32.2Z"/>
<path d="M-56.7 -5.6L-54.0 -6.4L-53.4 -8.1L-56.2 -7.3ZM54.0 -6.4L56.7 -5.6L56.2 -7.3L53.4 -8.1ZM-54.0 -6.4L-51.3 -7.5L-50.8 -9.1L-53.4 -8.1ZM51.3 -7.5L54.0 -6.4L53.4 -8.1L50.8 -9.1ZM-51.3 -7.5L-48.6 -9.0L-48.1 -10.6L-50.8 -9.1ZM48.6 -9.0L51.3 -7.5L50.8 -9.1L48.1 -10.6ZM-48.6 -9.0L-45.9 -11.0L-45.4 -12.5L-48.1 -10.6ZM45.9 -11.0L48.6 -9.0L48.1 -10.6L45.4 -12.5ZM-45.9 -11.0L-43.3 -13.7L-42.8 -14.9L-45.4 -12.5ZM43.3 -13.7L45.9 -11.0L45.4 -12.5L42.8 -14.9ZM-33.0 -32.1L-30.5 -39.0L-30.0 -38.7L-32.6 -32.2ZM30.5 -39.0L33.0 -32.1L32.6 -32.2L30.0 -38.7ZM-30.5 -39.0L-27.9 -46.8L-27.4 -46.0L-30.0 -38.7ZM27.9 -46.8L30.5 -39.0L30.0 -38.7L27.4 -46.0ZM-27.9 -46.8L-25.2 -55.5L-24.8 -54.1L-27.4 -46.0ZM25.2 -55.5L27.9 -46.8L27.4 -46.0L24.8 -54.1ZM-25.2 -55.5L-22.5 -64.7L-22.1 -62.7L-24.8 -54.1ZM22.5 -64.7L25.2 -55.5L24.8 -54.1L22.1 -62.7ZM-22.5 -64.7L-19.6 -74.2L-19.2 -71.5L-22.1 -62.7ZM19.6 -74.2L22.5 -64.7L22.1 -62.7L19.2 -71.5ZM-19.6 -74.2L-16.6 -83.6L-16.3 -80.2L-19.2 -71.5ZM16.6 -83.6L19.6 -74.2L19.2 -71.5L16.3 -80.2ZM-16.6 -83.6L-13.5 -92.4L-13.2 -88.2L-16.3 -80.2ZM13.5 -92.4L16.6 -83.6L16.3 -80.2L13.2 -88.2ZM-13.5 -92.4L-10.3 -100.0L-10.1 -95.2L-13.2 -88.2ZM10.3 -100.0L13.5 -92.4L13.2 -88.2L10.1 -95.2ZM-10.3 -100.0L-6.9 -105.9L-6.8 -100.7L-10.1 -95.2ZM6.9 -105.9L10.3 -100.0L10.1 -95.2L6.8 -100.7ZM-6.9 -105.9L-3.5 -109.6L-3.4 -104.1L-6.8 -100.7ZM3.5 -109.6L6.9 -105.9L6.8 -100.7L3.4 -104.1ZM-3.5 -109.6L0.0 -110.9L0.0 -105.3L-3.4 -104.1ZM0.0 -110.9L3.5 -109.6L3.4 -104.1L0.0 -105.3Z"/>
<path stroke-width="1.3" d="M-41.2 -15.6L-38.6 -19.9L-38.2 -21.1L-40.7 -17.0ZM38.6 -19.9L41.2 -15.6L40.7 -17.0L38.2 -21.1ZM-38.6 -19.9L-36.0 -25.1L-35.6 -26.1L-38.2 -21.1ZM36.0 -25.1L38.6 -19.9L38.2 -21.1L35.6 -26.1ZM-36.0 -25.1L-33.5 -31.3L-33.0 -32.1L-35.6 -26.1ZM33.5 -31.3L36.0 -25.1L35.6 -26.1L33.0 -32.1ZM-33.5 -31.3L-30.9 -38.6L-30.5 -39.0L-33.0 -32.1ZM30.9 -38.6L33.5 -31.3L33.0 -32.1L30.5 -39.0Z"/>
<path d="M-57.3 -3.7L-54.6 -4.6L-54.0 -6.4L-56.7 -5.6ZM54.6 -4.6L57.3 -3.7L56.7 -5.6L54.0 -6.4ZM-54.6 -4.6L-51.8 -5.8L-51.3 -7.5L-54.0 -6.4ZM51.8 -5.8L54.6 -4.6L54.0 -6.4L51.3 -7.5ZM-51.8 -5.8L-49.1 -7.3L-48.6 -9.0L-51.3 -7.5ZM49.1 -7.3L51.8 -5.8L51.3 -7.5L48.6 -9.0ZM-49.1 -7.3L-46.4 -9.4L-45.9 -11.0L-48.6 -9.0ZM46.4 -9.4L49.1 -7.3L48.6 -9.0L45.9 -11.0ZM-46.4 -9.4L-43.8 -12.2L-43.3 -13.7L-45.9 -11.0ZM43.8 -12.2L46.4 -9.4L45.9 -11.0L43.3 -13.7ZM-43.8 -12.2L-41.2 -15.6L-40.7 -17.0L-43.3 -13.7ZM41.2 -15.6L43.8 -12.2L43.3 -13.7L40.7 -17.0ZM-30.9 -38.6L-28.3 -46.8L-27.9 -46.8L-30.5 -39.0ZM28.3 -46.8L30.9 -38.6L30.5 -39.0L27.9 -46.8ZM-28.3 -46.8L-25.6 -55.8L-25.2 -55.5L-27.9 -46.8ZM25.6 -55.8L28.3 -46.8L27.9 -46.8L25.2 -55.5ZM-25.6 -55.8L-22.8 -65.5L-22.5 -64.7L-25.2 -55.5ZM22.8 -65.5L25.6 -55.8L25.2 -55.5L22.5 -64.7ZM-22.8 -65.5L-19.9 -75.5L-19.6 -74.2L-22.5 -64.7ZM19.9 -75.5L22.8 -65.5L22.5 -64.7L19.6 -74.2ZM-19.9 -75.5L-16.9 -85.4L-16.6 -83.6L-19.6 -74.2ZM16.9 -85.4L19.9 -75.5L19.6 -74.2L16.6 -83.6ZM-16.9 -85.4L-13.8 -94.7L-13.5 -92.4L-16.6 -83.6ZM13.8 -94.7L16.9 -85.4L16.6 -83.6L13.5 -92.4ZM-13.8 -94.7L-10.5 -102.7L-10.3 -100.0L-13.5 -92.4ZM10.5 -102.7L13.8 -94.7L13.5 -92.4L10.3 -100.0ZM-10.5 -102.7L-7.1 -108.9L-6.9 -105.9L-10.3 -100.0ZM7.1 -108.9L10.5 -102.7L10.3 -100.0L6.9 -105.9ZM-7.1 -108.9L-3.6 -112.9L-3.5 -109.6L-6.9 -105.9ZM3.6 -112.9L7.1 -108.9L6.9 -105.9L3.5 -109.6ZM-3.6 -112.9L0.0 -114.2L0.0 -110.9L-3.5 -109.6ZM0.0 -114.2L3.6 -112.9L3.5 -109.6L0.0 -110.9Z"/>
<path stroke-width="1.3" d="M-39.0 -18.3L-36.4 -23.6L-36.0 -25.1L-38.6 -19.9ZM36.4 -23.6L39.0 -18.3L38.6 -19.9L36.0 -25.1ZM-36.4 -23.6L-33.9 -29.9L-33.5 -31.3L-36.0 -25.1ZM33.9 -29.9L36.4 -23.6L36.0 -25.1L33.5 -31.3ZM-33.9 -29.9L-31.2 -37.3L-30.9 -38.6L-33.5 -31.3ZM31.2 -37.3L33.9 -29.9L33.5 -31.3L30.9 -38.6ZM-31.2 -37.3L-28.6 -45.7L-28.3 -46.8L-30.9 -38.6ZM28.6 -45.7L31.2 -37.3L30.9 -38.6L28.3 -46.8ZM-28.6 -45.7L-25.9 -54.9L-25.6 -55.8L-28.3 -46.8ZM25.9 -54.9L28.6 -45.7L28.3 -46.8L25.6 -55.8ZM-25.9 -54.9L-23.1 -64.8L-22.8 -65.5L-25.6 -55.8ZM23.1 -64.8L25.9 -54.9L25.6 -55.8L22.8 -65.5ZM-23.1 -64.8L-20.2 -75.1L-19.9 -75.5L-22.8 -65.5ZM20.2 -75.1L23.1 -64.8L22.8 -65.5L19.9 -75.5ZM-20.2 -75.1L-17.2 -85.2L-16.9 -85.4L-19.9 -75.5ZM17.2 -85.2L20.2 -75.1L19.9 -75.5L16.9 -85.4ZM-17.2 -85.2L-14.0 -94.7L-13.8 -94.7L-16.9 -85.4ZM14.0 -94.7L17.2 -85.2L16.9 -85.4L13.8 -94.7ZM-14.0 -94.7L-10.6 -102.9L-10.5 -102.7L-13.8 -94.7ZM10.6 -102.9L14.0 -94.7L13.8 -94.7L10.5 -102.7ZM-10.6 -102.9L-7.2 -109.3L-7.1 -108.9L-10.5 -102.7ZM7.2 -109.3L10.6 -102.9L10.5 -102.7L7.1 -108.9ZM-7.2 -109.3L-3.6 -113.4L-3.6 -112.9L-7.1 -108.9ZM3.6 -113.4L7.2 -109.3L7.1 -108.9L3.6 -112.9ZM-3.6 -113.4L0.0 -114.8L0.0 -114.2L-3.6 -112.9ZM0.0 -114.8L3.6 -113.4L3.6 -112.9L0.0 -114.2Z"/>
<path d="M-57.9 -1.9L-55.1 -2.7L-54.6 -4.6L-57.3 -3.7ZM55.1 -2.7L57.9 -1.9L57.3 -3.7L54.6 -4.6ZM-55.1 -2.7L-52.4 -3.9L-51.8 -5.8L-54.6 -4.6ZM52.4 -3.9L55.1 -2.7L54.6 -4.6L51.8 -5.8ZM-52.4 -3.9L-49.6 -5.5L-49.1 -7.3L-51.8 -5.8ZM49.6 -5.5L52.4 -3.9L51.8 -5.8L49.1 -7.3ZM-49.6 -5.5L-46.9 -7.7L-46.4 -9.4L-49.1 -7.3ZM46.9 -7.7L49.6 -5.5L49.1 -7.3L46.4 -9.4ZM-46.9 -7.7L-44.3 -10.4L-43.8 -12.2L-46.4 -9.4ZM44.3 -10.4L46.9 -7.7L46.4 -9.4L43.8 -12.2ZM-44.3 -10.4L-41.6 -13.9L-41.2 -15.6L-43.8 -12.2ZM41.6 -13.9L44.3 -10.4L43.8 -12.2L41.2 -15.6ZM-41.6 -13.9L-39.0 -18.3L-38.6 -19.9L-41.2 -15.6ZM39.0 -18.3L41.6 -13.9L41.2 -15.6L38.6 -19.9Z"/>
<path d="M-58.5 0.1L-55.7 -0.8L-55.1 -2.7L-57.9 -1.9ZM55.7 -0.8L58.5 0.1L57.9 -1.9L55.1 -2.7ZM-55.7 -0.8L-52.9 -1.9L-52.4 -3.9L-55.1 -2.7ZM52.9 -1.9L55.7 -0.8L55.1 -2.7L52.4 -3.9ZM-52.9 -1.9L-50.1 -3.5L-49.6 -5.5L-52.4 -3.9ZM50.1 -3.5L52.9 -1.9L52.4 -3.9L49.6 -5.5ZM-50.1 -3.5L-47.4 -5.7L-46.9 -7.7L-49.6 -5.5ZM47.4 -5.7L50.1 -3.5L49.6 -5.5L46.9 -7.7ZM-47.4 -5.7L-44.7 -8.4L-44.3 -10.4L-46.9 -7.7ZM44.7 -8.4L47.4 -5.7L46.9 -7.7L44.3 -10.4ZM-44.7 -8.4L-42.1 -11.9L-41.6 -13.9L-44.3 -10.4ZM42.1 -11.9L44.7 -8.4L44.3 -10.4L41.6 -13.9ZM-42.1 -11.9L-39.4 -16.3L-39.0 -18.3L-41.6 -13.9ZM39.4 -16.3L42.1 -11.9L41.6 -13.9L39.0 -18.3ZM-39.4 -16.3L-36.8 -21.5L-36.4 -23.6L-39.0 -18.3ZM36.8 -21.5L39.4 -16.3L39.0 -18.3L36.4 -23.6ZM-36.8 -21.5L-34.2 -27.9L-33.9 -29.9L-36.4 -23.6ZM34.2 -27.9L36.8 -21.5L36.4 -23.6L33.9 -29.9ZM-34.2 -27.9L-31.6 -35.2L-31.2 -37.3L-33.9 -29.9ZM31.6 -35.2L34.2 -27.9L33.9 -29.9L31.2 -37.3ZM-31.6 -35.2L-28.9 -43.5L-28.6 -45.7L-31.2 -37.3ZM28.9 -43.5L31.6 -35.2L31.2 -37.3L28.6 -45.7ZM-28.9 -43.5L-26.2 -52.7L-25.9 -54.9L-28.6 -45.7ZM26.2 -52.7L28.9 -43.5L28.6 -45.7L25.9 -54.9ZM-26.2 -52.7L-23.4 -62.6L-23.1 -64.8L-25.9 -54.9ZM23.4 -62.6L26.2 -52.7L25.9 -54.9L23.1 -64.8ZM-23.4 -62.6L-20.4 -72.8L-20.2 -75.1L-23.1 -64.8ZM20.4 -72.8L23.4 -62.6L23.1 -64.8L20.2 -75.1ZM-20.4 -72.8L-17.4 -82.9L-17.2 -85.2L-20.2 -75.1ZM17.4 -82.9L20.4 -72.8L20.2 -75.1L17.2 -85.2ZM-17.4 -82.9L-14.1 -92.3L-14.0 -94.7L-17.2 -85.2ZM14.1 -92.3L17.4 -82.9L17.2 -85.2L14.0 -94.7ZM-14.1 -92.3L-10.8 -100.5L-10.6 -102.9L-14.0 -94.7ZM10.8 -100.5L14.1 -92.3L14.0 -94.7L10.6 -102.9ZM-10.8 -100.5L-7.3 -106.8L-7.2 -109.3L-10.6 -102.9ZM7.3 -106.8L10.8 -100.5L10.6 -102.9L7.2 -109.3ZM-7.3 -106.8L-3.7 -110.9L-3.6 -113.4L-7.2 -109.3ZM3.7 -110.9L7.3 -106.8L7.2 -109.3L3.6 -113.4ZM-3.7 -110.9L0.0 -112.3L0.0 -114.8L-3.6 -113.4ZM0.0 -112.3L3.7 -110.9L3.6 -113.4L0.0 -114.8Z"/>
<path d="M-59.1 2.2L-56.3 1.3L-55.7 -0.8L-58.5 0.1ZM56.3 1.3L59.1 2.2L58.5 0.1L55.7 -0.8ZM-56.3 1.3L-53.4 0.2L-52.9 -1.9L-55.7 -0.8ZM53.4 0.2L56.3 1.3L55.7 -0.8L52.9 -1.9ZM-53.4 0.2L-50.6 -1.4L-50.1 -3.5L-52.9 -1.9ZM50.6 -1.4L53.4 0.2L52.9 -1.9L50.1 -3.5ZM-50.6 -1.4L-47.9 -3.5L-47.4 -5.7L-50.1 -3.5ZM47.9 -3.5L50.6 -1.4L50.1 -3.5L47.4 -5.7ZM-47.9 -3.5L-45.2 -6.2L-44.7 -8.4L-47.4 -5.7ZM45.2 -6.2L47.9 -3.5L47.4 -5.7L44.7 -8.4ZM-45.2 -6.2L-42.5 -9.6L-42.1 -11.9L-44.7 -8.4ZM42.5 -9.6L45.2 -6.2L44.7 -8.4L42.1 -11.9ZM-42.5 -9.6L-39.8 -13.8L-39.4 -16.3L-42.1 -11.9ZM39.8 -13.8L42.5 -9.6L42.1 -11.9L39.4 -16.3ZM-39.8 -13.8L-37.2 -18.9L-36.8 -21.5L-39.4 -16.3ZM37.2 -18.9L39.8 -13.8L39.4 -16.3L36.8 -21.5ZM-37.2 -18.9L-34.5 -25.1L-34.2 -27.9L-36.8 -21.5ZM34.5 -25.1L37.2 -18.9L36.8 -21.5L34.2 -27.9ZM-34.5 -25.1L-31.8 -32.2L-31.6 -35.2L-34.2 -27.9ZM31.8 -32.2L34.5 -25.1L34.2 -27.9L31.6 -35.2ZM-31.8 -32.2L-29.1 -40.3L-28.9 -43.5L-31.6 -35.2ZM29.1 -40.3L31.8 -32.2L31.6 -35.2L28.9 -43.5ZM-29.1 -40.3L-26.4 -49.2L-26.2 -52.7L-28.9 -43.5ZM26.4 -49.2L29.1 -40.3L28.9 -43.5L26.2 -52.7ZM-26.4 -49.2L-23.5 -58.8L-23.4 -62.6L-26.2 -52.7ZM23.5 -58.8L26.4 -49.2L26.2 -52.7L23.4 -62.6ZM-23.5 -58.8L-20.6 -68.6L-20.4 -72.8L-23.4 -62.6ZM20.6 -68.6L23.5 -58.8L23.4 -62.6L20.4 -72.8ZM-20.6 -68.6L-17.5 -78.4L-17.4 -82.9L-20.4 -72.8ZM17.5 -78.4L20.6 -68.6L20.4 -72.8L17.4 -82.9ZM-17.5 -78.4L-14.2 -87.5L-14.1 -92.3L-17.4 -82.9ZM14.2 -87.5L17.5 -78.4L17.4 -82.9L14.1 -92.3ZM-14.2 -87.5L-10.8 -95.4L-10.8 -100.5L-14.1 -92.3ZM10.8 -95.4L14.2 -87.5L14.1 -92.3L10.8 -100.5ZM-10.8 -95.4L-7.3 -101.6L-7.3 -106.8L-10.8 -100.5ZM7.3 -101.6L10.8 -95.4L10.8 -100.5L7.3 -106.8ZM-7.3 -101.6L-3.7 -105.5L-3.7 -110.9L-7.3 -106.8ZM3.7 -105.5L7.3 -101.6L7.3 -106.8L3.7 -110.9ZM-3.7 -105.5L0.0 -106.8L0.0 -112.3L-3.7 -110.9ZM0.0 -106.8L3.7 -105.5L3.7 -110.9L0.0 -112.3Z"/>
<path d="M-59.7 4.3L-56.8 3.5L-56.3 1.3L-59.1 2.2ZM56.8 3.5L59.7 4.3L59.1 2.2L56.3 1.3ZM-56.8 3.5L-54.0 2.4L-53.4 0.2L-56.3 1.3ZM54.0 2.4L56.8 3.5L56.3 1.3L53.4 0.2ZM-54.0 2.4L-51.2 0.9L-50.6 -1.4L-53.4 0.2ZM51.2 0.9L54.0 2.4L53.4 0.2L50.6 -1.4ZM-51.2 0.9L-48.4 -1.1L-47.9 -3.5L-50.6 -1.4ZM48.4 -1.1L51.2 0.9L50.6 -1.4L47.9 -3.5ZM-48.4 -1.1L-45.6 -3.6L-45.2 -6.2L-47.9 -3.5ZM45.6 -3.6L48.4 -1.1L47.9 -3.5L45.2 -6.2ZM-45.6 -3.6L-42.9 -6.9L-42.5 -9.6L-45.2 -6.2ZM42.9 -6.9L45.6 -3.6L45.2 -6.2L42.5 -9.6ZM-42.9 -6.9L-40.2 -10.9L-39.8 -13.8L-42.5 -9.6ZM40.2 -10.9L42.9 -6.9L42.5 -9.6L39.8 -13.8ZM-40.2 -10.9L-37.5 -15.8L-37.2 -18.9L-39.8 -13.8ZM37.5 -15.8L40.2 -10.9L39.8 -13.8L37.2 -18.9ZM-37.5 -15.8L-34.8 -21.6L-34.5 -25.1L-37.2 -18.9ZM34.8 -21.6L37.5 -15.8L37.2 -18.9L34.5 -25.1ZM-34.8 -21.6L-32.1 -28.4L-31.8 -32.2L-34.5 -25.1ZM32.1 -28.4L34.8 -21.6L34.5 -25.1L31.8 -32.2ZM-32.1 -28.4L-29.3 -36.1L-29.1 -40.3L-31.8 -32.2ZM29.3 -36.1L32.1 -28.4L31.8 -32.2L29.1 -40.3ZM-29.3 -36.1L-26.5 -44.5L-26.4 -49.2L-29.1 -40.3ZM26.5 -44.5L29.3 -36.1L29.1 -40.3L26.4 -49.2ZM-26.5 -44.5L-23.6 -53.5L-23.5 -58.8L-26.4 -49.2ZM23.6 -53.5L26.5 -44.5L26.4 -49.2L23.5 -58.8ZM-23.6 -53.5L-20.6 -62.8L-20.6 -68.6L-23.5 -58.8ZM20.6 -62.8L23.6 -53.5L23.5 -58.8L20.6 -68.6ZM-20.6 -62.8L-17.5 -72.0L-17.5 -78.4L-20.6 -68.6ZM17.5 -72.0L20.6 -62.8L20.6 -68.6L17.5 -78.4ZM-17.5 -72.0L-14.2 -80.6L-14.2 -87.5L-17.5 -78.4ZM14.2 -80.6L17.5 -72.0L17.5 -78.4L14.2 -87.5ZM-14.2 -80.6L-10.8 -88.0L-10.8 -95.4L-14.2 -87.5ZM10.8 -88.0L14.2 -80.6L14.2 -87.5L10.8 -95.4ZM-10.8 -88.0L-7.3 -93.8L-7.3 -101.6L-10.8 -95.4ZM7.3 -93.8L10.8 -88.0L10.8 -95.4L7.3 -101.6ZM-7.3 -93.8L-3.7 -97.4L-3.7 -105.5L-7.3 -101.6ZM3.7 -97.4L7.3 -93.8L7.3 -101.6L3.7 -105.5ZM-3.7 -97.4L0.0 -98.7L0.0 -106.8L-3.7 -105.5ZM0.0 -98.7L3.7 -97.4L3.7 -105.5L0.0 -106.8Z"/>
<path d="M-60.3 6.5L-57.4 5.7L-56.8 3.5L-59.7 4.3ZM57.4 5.7L60.3 6.5L59.7 4.3L56.8 3.5ZM-57.4 5.7L-54.5 4.7L-54.0 2.4L-56.8 3.5ZM54.5 4.7L57.4 5.7L56.8 3.5L54.0 2.4ZM-54.5 4.7L-51.7 3.3L-51.2 0.9L-54.0 2.4ZM51.7 3.3L54.5 4.7L54.0 2.4L51.2 0.9ZM-51.7 3.3L-48.8 1.5L-48.4 -1.1L-51.2 0.9ZM48.8 1.5L51.7 3.3L51.2 0.9L48.4 -1.1ZM-48.8 1.5L-46.0 -0.9L-45.6 -3.6L-48.4 -1.1ZM46.0 -0.9L48.8 1.5L48.4 -1.1L45.6 -3.6ZM-46.0 -0.9L-43.2 -3.9L-42.9 -6.9L-45.6 -3.6ZM43.2 -3.9L46.0 -0.9L45.6 -3.6L42.9 -6.9ZM-43.2 -3.9L-40.5 -7.7L-40.2 -10.9L-42.9 -6.9ZM40.5 -7.7L43.2 -3.9L42.9 -6.9L40.2 -10.9ZM-40.5 -7.7L-37.7 -12.2L-37.5 -15.8L-40.2 -10.9ZM37.7 -12.2L40.5 -7.7L40.2 -10.9L37.5 -15.8ZM-37.7 -12.2L-35.0 -17.6L-34.8 -21.6L-37.5 -15.8ZM35.0 -17.6L37.7 -12.2L37.5 -15.8L34.8 -21.6ZM-35.0 -17.6L-32.3 -23.9L-32.1 -28.4L-34.8 -21.6ZM32.3 -23.9L35.0 -17.6L34.8 -21.6L32.1 -28.4ZM-32.3 -23.9L-29.5 -31.0L-29.3 -36.1L-32.1 -28.4ZM29.5 -31.0L32.3 -23.9L32.1 -28.4L29.3 -36.1ZM-29.5 -31.0L-26.6 -38.8L-26.5 -44.5L-29.3 -36.1ZM26.6 -38.8L29.5 -31.0L29.3 -36.1L26.5 -44.5ZM-26.6 -38.8L-23.7 -47.1L-23.6 -53.5L-26.5 -44.5ZM23.7 -47.1L26.6 -38.8L26.5 -44.5L23.6 -53.5ZM-23.7 -47.1L-20.7 -55.7L-20.6 -62.8L-23.6 -53.5ZM20.7 -55.7L23.7 -47.1L23.6 -53.5L20.6 -62.8ZM-20.7 -55.7L-17.5 -64.1L-17.5 -72.0L-20.6 -62.8ZM17.5 -64.1L20.7 -55.7L20.6 -62.8L17.5 -72.0ZM-17.5 -64.1L-14.2 -71.9L-14.2 -80.6L-17.5 -72.0ZM14.2 -71.9L17.5 -64.1L17.5 -72.0L14.2 -80.6ZM-14.2 -71.9L-10.8 -78.7L-10.8 -88.0L-14.2 -80.6ZM10.8 -78.7L14.2 -71.9L14.2 -80.6L10.8 -88.0ZM-10.8 -78.7L-7.3 -83.9L-7.3 -93.8L-10.8 -88.0ZM7.3 -83.9L10.8 -78.7L10.8 -88.0L7.3 -93.8ZM-7.3 -83.9L-3.7 -87.2L-3.7 -97.4L-7.3 -93.8ZM3.7 -87.2L7.3 -83.9L7.3 -93.8L3.7 -97.4ZM-3.7 -87.2L0.0 -88.4L0.0 -98.7L-3.7 -97.4ZM0.0 -88.4L3.7 -87.2L3.7 -97.4L0.0 -98.7Z"/>
<path d="M-61.0 8.7L-58.0 8.0L-57.4 5.7L-60.3 6.5ZM58.0 8.0L61.0 8.7L60.3 6.5L57.4 5.7ZM-58.0 8.0L-55.1 7.1L-54.5 4.7L-57.4 5.7ZM55.1 7.1L58.0 8.0L57.4 5.7L54.5 4.7ZM-55.1 7.1L-52.2 5.8L-51.7 3.3L-54.5 4.7ZM52.2 5.8L55.1 7.1L54.5 4.7L51.7 3.3ZM-52.2 5.8L-49.3 4.2L-48.8 1.5L-51.7 3.3ZM49.3 4.2L52.2 5.8L51.7 3.3L48.8 1.5ZM-49.3 4.2L-46.4 2.0L-46.0 -0.9L-48.8 1.5ZM46.4 2.0L49.3 4.2L48.8 1.5L46.0 -0.9ZM-46.4 2.0L-43.6 -0.8L-43.2 -3.9L-46.0 -0.9ZM43.6 -0.8L46.4 2.0L46.0 -0.9L43.2 -3.9ZM-43.6 -0.8L-40.8 -4.2L-40.5 -7.7L-43.2 -3.9ZM40.8 -4.2L43.6 -0.8L43.2 -3.9L40.5 -7.7ZM-40.8 -4.2L-38.0 -8.3L-37.7 -12.2L-40.5 -7.7ZM38.0 -8.3L40.8 -4.2L40.5 -7.7L37.7 -12.2ZM-38.0 -8.3L-35.2 -13.2L-35.0 -17.6L-37.7 -12.2ZM35.2 -13.2L38.0 -8.3L37.7 -12.2L35.0 -17.6ZM-35.2 -13.2L-32.4 -18.9L-32.3 -23.9L-35.0 -17.6ZM32.4 -18.9L35.2 -13.2L35.0 -17.6L32.3 -23.9ZM-32.4 -18.9L-29.6 -25.3L-29.5 -31.0L-32.3 -23.9ZM29.6 -25.3L32.4 -18.9L32.3 -23.9L29.5 -31.0ZM-29.6 -25.3L-26.7 -32.3L-26.6 -38.8L-29.5 -31.0ZM26.7 -32.3L29.6 -25.3L29.5 -31.0L26.6 -38.8ZM-26.7 -32.3L-23.7 -39.8L-23.7 -47.1L-26.6 -38.8ZM23.7 -39.8L26.7 -32.3L26.6 -38.8L23.7 -47.1ZM-23.7 -39.8L-20.6 -47.5L-20.7 -55.7L-23.7 -47.1ZM20.6 -47.5L23.7 -39.8L23.7 -47.1L20.7 -55.7ZM-20.6 -47.5L-17.5 -55.0L-17.5 -64.1L-20.7 -55.7ZM17.5 -55.0L20.6 -47.5L20.7 -55.7L17.5 -64.1ZM-17.5 -55.0L-14.2 -61.9L-14.2 -71.9L-17.5 -64.1ZM14.2 -61.9L17.5 -55.0L17.5 -64.1L14.2 -71.9ZM-14.2 -61.9L-10.8 -67.9L-10.8 -78.7L-14.2 -71.9ZM10.8 -67.9L14.2 -61.9L14.2 -71.9L10.8 -78.7ZM-10.8 -67.9L-7.2 -72.6L-7.3 -83.9L-10.8 -78.7ZM7.2 -72.6L10.8 -67.9L10.8 -78.7L7.3 -83.9ZM-7.2 -72.6L-3.6 -75.5L-3.7 -87.2L-7.3 -83.9ZM3.6 -75.5L7.2 -72.6L7.3 -83.9L3.7 -87.2ZM-3.6 -75.5L0.0 -76.5L0.0 -88.4L-3.7 -87.2ZM0.0 -76.5L3.6 -75.5L3.7 -87.2L0.0 -88.4Z"/>
<path d="M-61.6 11.1L-58.6 10.4L-58.0 8.0L-61.0 8.7ZM58.6 10.4L61.6 11.1L61.0 8.7L58.0 8.0ZM-58.6 10.4L-55.6 9.6L-55.1 7.1L-58.0 8.0ZM55.6 9.6L58.6 10.4L58.0 8.0L55.1 7.1ZM-55.6 9.6L-52.7 8.5L-52.2 5.8L-55.1 7.1ZM52.7 8.5L55.6 9.6L55.1 7.1L52.2 5.8ZM-52.7 8.5L-49.8 7.0L-49.3 4.2L-52.2 5.8ZM49.8 7.0L52.7 8.5L52.2 5.8L49.3 4.2ZM-49.8 7.0L-46.9 5.0L-46.4 2.0L-49.3 4.2ZM46.9 5.0L49.8 7.0L49.3 4.2L46.4 2.0ZM-46.9 5.0L-44.0 2.6L-43.6 -0.8L-46.4 2.0ZM44.0 2.6L46.9 5.0L46.4 2.0L43.6 -0.8ZM-44.0 2.6L-41.1 -0.5L-40.8 -4.2L-43.6 -0.8ZM41.1 -0.5L44.0 2.6L43.6 -0.8L40.8 -4.2ZM-41.1 -0.5L-38.3 -4.2L-38.0 -8.3L-40.8 -4.2ZM38.3 -4.2L41.1 -0.5L40.8 -4.2L38.0 -8.3ZM-38.3 -4.2L-35.4 -8.5L-35.2 -13.2L-38.0 -8.3ZM35.4 -8.5L38.3 -4.2L38.0 -8.3L35.2 -13.2ZM-35.4 -8.5L-32.6 -13.6L-32.4 -18.9L-35.2 -13.2ZM32.6 -13.6L35.4 -8.5L35.2 -13.2L32.4 -18.9ZM-32.6 -13.6L-29.7 -19.2L-29.6 -25.3L-32.4 -18.9ZM29.7 -19.2L32.6 -13.6L32.4 -18.9L29.6 -25.3ZM-29.7 -19.2L-26.7 -25.4L-26.7 -32.3L-29.6 -25.3ZM26.7 -25.4L29.7 -19.2L29.6 -25.3L26.7 -32.3ZM-26.7 -25.4L-23.7 -32.0L-23.7 -39.8L-26.7 -32.3ZM23.7 -32.0L26.7 -25.4L26.7 -32.3L23.7 -39.8ZM-23.7 -32.0L-20.6 -38.6L-20.6 -47.5L-23.7 -39.8ZM20.6 -38.6L23.7 -32.0L23.7 -39.8L20.6 -47.5ZM-20.6 -38.6L-17.4 -45.2L-17.5 -55.0L-20.6 -47.5ZM17.4 -45.2L20.6 -38.6L20.6 -47.5L17.5 -55.0ZM-17.4 -45.2L-14.1 -51.2L-14.2 -61.9L-17.5 -55.0ZM14.1 -51.2L17.4 -45.2L17.5 -55.0L14.2 -61.9ZM-14.1 -51.2L-10.7 -56.4L-10.8 -67.9L-14.2 -61.9ZM10.7 -56.4L14.1 -51.2L14.2 -61.9L10.8 -67.9ZM-10.7 -56.4L-7.2 -60.5L-7.2 -72.6L-10.8 -67.9ZM7.2 -60.5L10.7 -56.4L10.8 -67.9L7.2 -72.6ZM-7.2 -60.5L-3.6 -63.0L-3.6 -75.5L-7.2 -72.6ZM3.6 -63.0L7.2 -60.5L7.2 -72.6L3.6 -75.5ZM-3.6 -63.0L0.0 -63.9L0.0 -76.5L-3.6 -75.5ZM0.0 -63.9L3.6 -63.0L3.6 -75.5L0.0 -76.5Z"/>
<path d="M-62.3 13.4L-59.2 12.9L-58.6 10.4L-61.6 11.1ZM59.2 12.9L62.3 13.4L61.6 11.1L58.6 10.4ZM-59.2 12.9L-56.2 12.2L-55.6 9.6L-58.6 10.4ZM56.2 12.2L59.2 12.9L58.6 10.4L55.6 9.6ZM-56.2 12.2L-53.2 11.2L-52.7 8.5L-55.6 9.6ZM53.2 11.2L56.2 12.2L55.6 9.6L52.7 8.5ZM-53.2 11.2L-50.2 9.8L-49.8 7.0L-52.7 8.5ZM50.2 9.8L53.2 11.2L52.7 8.5L49.8 7.0ZM-50.2 9.8L-47.3 8.1L-46.9 5.0L-49.8 7.0ZM47.3 8.1L50.2 9.8L49.8 7.0L46.9 5.0ZM-47.3 8.1L-44.3 6.0L-44.0 2.6L-46.9 5.0ZM44.3 6.0L47.3 8.1L46.9 5.0L44.0 2.6ZM-44.3 6.0L-41.4 3.3L-41.1 -0.5L-44.0 2.6ZM41.4 3.3L44.3 6.0L44.0 2.6L41.1 -0.5ZM-41.4 3.3L-38.5 0.1L-38.3 -4.2L-41.1 -0.5ZM38.5 0.1L41.4 3.3L41.1 -0.5L38.3 -4.2ZM-38.5 0.1L-35.6 -3.6L-35.4 -8.5L-38.3 -4.2ZM35.6 -3.6L38.5 0.1L38.3 -4.2L35.4 -8.5ZM-35.6 -3.6L-32.7 -8.0L-32.6 -13.6L-35.4 -8.5ZM32.7 -8.0L35.6 -3.6L35.4 -8.5L32.6 -13.6ZM-32.7 -8.0L-29.7 -12.9L-29.7 -19.2L-32.6 -13.6ZM29.7 -12.9L32.7 -8.0L32.6 -13.6L29.7 -19.2ZM-29.7 -12.9L-26.7 -18.2L-26.7 -25.4L-29.7 -19.2ZM26.7 -18.2L29.7 -12.9L29.7 -19.2L26.7 -25.4ZM-26.7 -18.2L-23.7 -23.9L-23.7 -32.0L-26.7 -25.4ZM23.7 -23.9L26.7 -18.2L26.7 -25.4L23.7 -32.0ZM-23.7 -23.9L-20.5 -29.6L-20.6 -38.6L-23.7 -32.0ZM20.5 -29.6L23.7 -23.9L23.7 -32.0L20.6 -38.6ZM-20.5 -29.6L-17.3 -35.2L-17.4 -45.2L-20.6 -38.6ZM17.3 -35.2L20.5 -29.6L20.6 -38.6L17.4 -45.2ZM-17.3 -35.2L-14.0 -40.3L-14.1 -51.2L-17.4 -45.2ZM14.0 -40.3L17.3 -35.2L17.4 -45.2L14.1 -51.2ZM-14.0 -40.3L-10.6 -44.7L-10.7 -56.4L-14.1 -51.2ZM10.6 -44.7L14.0 -40.3L14.1 -51.2L10.7 -56.4ZM-10.6 -44.7L-7.1 -48.1L-7.2 -60.5L-10.7 -56.4ZM7.1 -48.1L10.6 -44.7L10.7 -56.4L7.2 -60.5ZM-7.1 -48.1L-3.6 -50.2L-3.6 -63.0L-7.2 -60.5ZM3.6 -50.2L7.1 -48.1L7.2 -60.5L3.6 -63.0ZM-3.6 -50.2L0.0 -51.0L0.0 -63.9L-3.6 -63.0ZM0.0 -51.0L3.6 -50.2L3.6 -63.0L0.0 -63.9Z"/>
<path d="M-62.9 15.9L-59.9 15.4L-59.2 12.9L-62.3 13.4ZM59.9 15.4L62.9 15.9L62.3 13.4L59.2 12.9ZM-59.9 15.4L-56.8 14.8L-56.2 12.2L-59.2 12.9ZM56.8 14.8L59.9 15.4L59.2 12.9L56.2 12.2ZM-56.8 14.8L-53.7 13.9L-53.2 11.2L-56.2 12.2ZM53.7 13.9L56.8 14.8L56.2 12.2L53.2 11.2ZM-53.7 13.9L-50.7 12.8L-50.2 9.8L-53.2 11.2ZM50.7 12.8L53.7 13.9L53.2 11.2L50.2 9.8ZM-50.7 12.8L-47.7 11.3L-47.3 8.1L-50.2 9.8ZM47.7 11.3L50.7 12.8L50.2 9.8L47.3 8.1ZM-47.7 11.3L-44.7 9.5L-44.3 6.0L-47.3 8.1ZM44.7 9.5L47.7 11.3L47.3 8.1L44.3 6.0ZM-44.7 9.5L-41.7 7.2L-41.4 3.3L-44.3 6.0ZM41.7 7.2L44.7 9.5L44.3 6.0L41.4 3.3ZM-41.7 7.2L-38.8 4.5L-38.5 0.1L-41.4 3.3ZM38.8 4.5L41.7 7.2L41.4 3.3L38.5 0.1ZM-38.8 4.5L-35.8 1.3L-35.6 -3.6L-38.5 0.1ZM35.8 1.3L38.8 4.5L38.5 0.1L35.6 -3.6ZM-35.8 1.3L-32.8 -2.4L-32.7 -8.0L-35.6 -3.6ZM32.8 -2.4L35.8 1.3L35.6 -3.6L32.7 -8.0ZM-32.8 -2.4L-29.8 -6.6L-29.7 -12.9L-32.7 -8.0ZM29.8 -6.6L32.8 -2.4L32.7 -8.0L29.7 -12.9ZM-29.8 -6.6L-26.8 -11.1L-26.7 -18.2L-29.7 -12.9ZM26.8 -11.1L29.8 -6.6L29.7 -12.9L26.7 -18.2ZM-26.8 -11.1L-23.7 -15.8L-23.7 -23.9L-26.7 -18.2ZM23.7 -15.8L26.8 -11.1L26.7 -18.2L23.7 -23.9ZM-23.7 -15.8L-20.5 -20.6L-20.5 -29.6L-23.7 -23.9ZM20.5 -20.6L23.7 -15.8L23.7 -23.9L20.5 -29.6ZM-20.5 -20.6L-17.2 -25.2L-17.3 -35.2L-20.5 -29.6ZM17.2 -25.2L20.5 -20.6L20.5 -29.6L17.3 -35.2ZM-17.2 -25.2L-13.9 -29.5L-14.0 -40.3L-17.3 -35.2ZM13.9 -29.5L17.2 -25.2L17.3 -35.2L14.0 -40.3ZM-13.9 -29.5L-10.5 -33.2L-10.6 -44.7L-14.0 -40.3ZM10.5 -33.2L13.9 -29.5L14.0 -40.3L10.6 -44.7ZM-10.5 -33.2L-7.1 -36.0L-7.1 -48.1L-10.6 -44.7ZM7.1 -36.0L10.5 -33.2L10.6 -44.7L7.1 -48.1ZM-7.1 -36.0L-3.5 -37.8L-3.6 -50.2L-7.1 -48.1ZM3.5 -37.8L7.1 -36.0L7.1 -48.1L3.6 -50.2ZM-3.5 -37.8L0.0 -38.4L0.0 -51.0L-3.6 -50.2ZM0.0 -38.4L3.5 -37.8L3.6 -50.2L0.0 -51.0Z"/>
<path d="M-63.6 18.3L-60.5 18.0L-59.9 15.4L-62.9 15.9ZM60.5 18.0L63.6 18.3L62.9 15.9L59.9 15.4ZM-60.5 18.0L-57.4 17.4L-56.8 14.8L-59.9 15.4ZM57.4 17.4L60.5 18.0L59.9 15.4L56.8 14.8ZM-57.4 17.4L-54.3 16.7L-53.7 13.9L-56.8 14.8ZM54.3 16.7L57.4 17.4L56.8 14.8L53.7 13.9ZM-54.3 16.7L-51.2 15.8L-50.7 12.8L-53.7 13.9ZM51.2 15.8L54.3 16.7L53.7 13.9L50.7 12.8ZM-51.2 15.8L-48.1 14.5L-47.7 11.3L-50.7 12.8ZM48.1 14.5L51.2 15.8L50.7 12.8L47.7 11.3ZM-48.1 14.5L-45.1 13.0L-44.7 9.5L-47.7 11.3ZM45.1 13.0L48.1 14.5L47.7 11.3L44.7 9.5ZM-45.1 13.0L-42.1 11.1L-41.7 7.2L-44.7 9.5ZM42.1 11.1L45.1 13.0L44.7 9.5L41.7 7.2ZM-42.1 11.1L-39.0 8.8L-38.8 4.5L-41.7 7.2ZM39.0 8.8L42.1 11.1L41.7 7.2L38.8 4.5ZM-39.0 8.8L-36.0 6.1L-35.8 1.3L-38.8 4.5ZM36.0 6.1L39.0 8.8L38.8 4.5L35.8 1.3ZM-36.0 6.1L-33.0 3.1L-32.8 -2.4L-35.8 1.3ZM33.0 3.1L36.0 6.1L35.8 1.3L32.8 -2.4ZM-33.0 3.1L-29.9 -0.4L-29.8 -6.6L-32.8 -2.4ZM29.9 -0.4L33.0 3.1L32.8 -2.4L29.8 -6.6ZM-29.9 -0.4L-26.8 -4.1L-26.8 -11.1L-29.8 -6.6ZM26.8 -4.1L29.9 -0.4L29.8 -6.6L26.8 -11.1ZM-26.8 -4.1L-23.6 -8.0L-23.7 -15.8L-26.8 -11.1ZM23.6 -8.0L26.8 -4.1L26.8 -11.1L23.7 -15.8ZM-23.6 -8.0L-20.4 -11.9L-20.5 -20.6L-23.7 -15.8ZM20.4 -11.9L23.6 -8.0L23.7 -15.8L20.5 -20.6ZM-20.4 -11.9L-17.2 -15.7L-17.2 -25.2L-20.5 -20.6ZM17.2 -15.7L20.4 -11.9L20.5 -20.6L17.2 -25.2ZM-17.2 -15.7L-13.8 -19.2L-13.9 -29.5L-17.2 -25.2ZM13.8 -19.2L17.2 -15.7L17.2 -25.2L13.9 -29.5ZM-13.8 -19.2L-10.4 -22.2L-10.5 -33.2L-13.9 -29.5ZM10.4 -22.2L13.8 -19.2L13.9 -29.5L10.5 -33.2ZM-10.4 -22.2L-7.0 -24.5L-7.1 -36.0L-10.5 -33.2ZM7.0 -24.5L10.4 -22.2L10.5 -33.2L7.1 -36.0ZM-7.0 -24.5L-3.5 -25.9L-3.5 -37.8L-7.1 -36.0ZM3.5 -25.9L7.0 -24.5L7.1 -36.0L3.5 -37.8ZM-3.5 -25.9L0.0 -26.4L0.0 -38.4L-3.5 -37.8ZM0.0 -26.4L3.5 -25.9L3.5 -37.8L0.0 -38.4Z"/>
<path d="M-64.3 20.9L-61.2 20.6L-60.5 18.0L-63.6 18.3ZM61.2 20.6L64.3 20.9L63.6 18.3L60.5 18.0ZM-61.2 20.6L-58.0 20.1L-57.4 17.4L-60.5 18.0ZM58.0 20.1L61.2 20.6L60.5 18.0L57.4 17.4ZM-58.0 20.1L-54.9 19.5L-54.3 16.7L-57.4 17.4ZM54.9 19.5L58.0 20.1L57.4 17.4L54.3 16.7ZM-54.9 19.5L-51.7 18.7L-51.2 15.8L-54.3 16.7ZM51.7 18.7L54.9 19.5L54.3 16.7L51.2 15.8ZM-51.7 18.7L-48.6 17.7L-48.1 14.5L-51.2 15.8ZM48.6 17.7L51.7 18.7L51.2 15.8L48.1 14.5ZM-48.6 17.7L-45.5 16.5L-45.1 13.0L-48.1 14.5ZM45.5 16.5L48.6 17.7L48.1 14.5L45.1 13.0ZM-45.5 16.5L-42.4 14.9L-42.1 11.1L-45.1 13.0ZM42.4 14.9L45.5 16.5L45.1 13.0L42.1 11.1ZM-42.4 14.9L-39.3 13.1L-39.0 8.8L-42.1 11.1ZM39.3 13.1L42.4 14.9L42.1 11.1L39.0 8.8ZM-39.3 13.1L-36.2 10.9L-36.0 6.1L-39.0 8.8ZM36.2 10.9L39.3 13.1L39.0 8.8L36.0 6.1ZM-36.2 10.9L-33.1 8.4L-33.0 3.1L-36.0 6.1ZM33.1 8.4L36.2 10.9L36.0 6.1L33.0 3.1ZM-33.1 8.4L-30.0 5.6L-29.9 -0.4L-33.0 3.1ZM30.0 5.6L33.1 8.4L33.0 3.1L29.9 -0.4ZM-30.0 5.6L-26.8 2.6L-26.8 -4.1L-29.9 -0.4ZM26.8 2.6L30.0 5.6L29.9 -0.4L26.8 -4.1ZM-26.8 2.6L-23.7 -0.6L-23.6 -8.0L-26.8 -4.1ZM23.7 -0.6L26.8 2.6L26.8 -4.1L23.6 -8.0ZM-23.7 -0.6L-20.4 -3.8L-20.4 -11.9L-23.6 -8.0ZM20.4 -3.8L23.7 -0.6L23.6 -8.0L20.4 -11.9ZM-20.4 -3.8L-17.1 -6.8L-17.2 -15.7L-20.4 -11.9ZM17.1 -6.8L20.4 -3.8L20.4 -11.9L17.2 -15.7ZM-17.1 -6.8L-13.8 -9.6L-13.8 -19.2L-17.2 -15.7ZM13.8 -9.6L17.1 -6.8L17.2 -15.7L13.8 -19.2ZM-13.8 -9.6L-10.4 -12.0L-10.4 -22.2L-13.8 -19.2ZM10.4 -12.0L13.8 -9.6L13.8 -19.2L10.4 -22.2ZM-10.4 -12.0L-7.0 -13.8L-7.0 -24.5L-10.4 -22.2ZM7.0 -13.8L10.4 -12.0L10.4 -22.2L7.0 -24.5ZM-7.0 -13.8L-3.5 -14.9L-3.5 -25.9L-7.0 -24.5ZM3.5 -14.9L7.0 -13.8L7.0 -24.5L3.5 -25.9ZM-3.5 -14.9L0.0 -15.3L0.0 -26.4L-3.5 -25.9ZM0.0 -15.3L3.5 -14.9L3.5 -25.9L0.0 -26.4Z"/>
<path d="M-65.0 23.4L-61.8 23.2L-61.2 20.6L-64.3 20.9ZM61.8 23.2L65.0 23.4L64.3 20.9L61.2 20.6ZM-61.8 23.2L-58.6 22.8L-58.0 20.1L-61.2 20.6ZM58.6 22.8L61.8 23.2L61.2 20.6L58.0 20.1ZM-58.6 22.8L-55.4 22.3L-54.9 19.5L-58.0 20.1ZM55.4 22.3L58.6 22.8L58.0 20.1L54.9 19.5ZM-55.4 22.3L-52.2 21.7L-51.7 18.7L-54.9 19.5ZM52.2 21.7L55.4 22.3L54.9 19.5L51.7 18.7ZM-52.2 21.7L-49.1 20.9L-48.6 17.7L-51.7 18.7ZM49.1 20.9L52.2 21.7L51.7 18.7L48.6 17.7ZM-49.1 20.9L-45.9 19.9L-45.5 16.5L-48.6 17.7ZM45.9 19.9L49.1 20.9L48.6 17.7L45.5 16.5ZM-45.9 19.9L-42.8 18.6L-42.4 14.9L-45.5 16.5ZM42.8 18.6L45.9 19.9L45.5 16.5L42.4 14.9ZM-42.8 18.6L-39.6 17.1L-39.3 13.1L-42.4 14.9ZM39.6 17.1L42.8 18.6L42.4 14.9L39.3 13.1ZM-39.6 17.1L-36.5 15.4L-36.2 10.9L-39.3 13.1ZM36.5 15.4L39.6 17.1L39.3 13.1L36.2 10.9ZM-36.5 15.4L-33.3 13.4L-33.1 8.4L-36.2 10.9ZM33.3 13.4L36.5 15.4L36.2 10.9L33.1 8.4ZM-33.3 13.4L-30.1 11.2L-30.0 5.6L-33.1 8.4ZM30.1 11.2L33.3 13.4L33.1 8.4L30.0 5.6ZM-30.1 11.2L-26.9 8.8L-26.8 2.6L-30.0 5.6ZM26.9 8.8L30.1 11.2L30.0 5.6L26.8 2.6ZM-26.9 8.8L-23.7 6.3L-23.7 -0.6L-26.8 2.6ZM23.7 6.3L26.9 8.8L26.8 2.6L23.7 -0.6ZM-23.7 6.3L-20.4 3.8L-20.4 -3.8L-23.7 -0.6ZM20.4 3.8L23.7 6.3L23.7 -0.6L20.4 -3.8ZM-20.4 3.8L-17.1 1.4L-17.1 -6.8L-20.4 -3.8ZM17.1 1.4L20.4 3.8L20.4 -3.8L17.1 -6.8ZM-17.1 1.4L-13.8 -0.8L-13.8 -9.6L-17.1 -6.8ZM13.8 -0.8L17.1 1.4L17.1 -6.8L13.8 -9.6ZM-13.8 -0.8L-10.4 -2.7L-10.4 -12.0L-13.8 -9.6ZM10.4 -2.7L13.8 -0.8L13.8 -9.6L10.4 -12.0ZM-10.4 -2.7L-6.9 -4.1L-7.0 -13.8L-10.4 -12.0ZM6.9 -4.1L10.4 -2.7L10.4 -12.0L7.0 -13.8ZM-6.9 -4.1L-3.5 -5.0L-3.5 -14.9L-7.0 -13.8ZM3.5 -5.0L6.9 -4.1L7.0 -13.8L3.5 -14.9ZM-3.5 -5.0L0.0 -5.3L0.0 -15.3L-3.5 -14.9ZM0.0 -5.3L3.5 -5.0L3.5 -14.9L0.0 -15.3Z"/>
<path d="M-65.8 26.0L-62.5 25.8L-61.8 23.2L-65.0 23.4ZM62.5 25.8L65.8 26.0L65.0 23.4L61.8 23.2ZM-62.5 25.8L-59.3 25.5L-58.6 22.8L-61.8 23.2ZM59.3 25.5L62.5 25.8L61.8 23.2L58.6 22.8ZM-59.3 25.5L-56.0 25.2L-55.4 22.3L-58.6 22.8ZM56.0 25.2L59.3 25.5L58.6 22.8L55.4 22.3ZM-56.0 25.2L-52.8 24.7L-52.2 21.7L-55.4 22.3ZM52.8 24.7L56.0 25.2L55.4 22.3L52.2 21.7ZM-52.8 24.7L-49.6 24.0L-49.1 20.9L-52.2 21.7ZM49.6 24.0L52.8 24.7L52.2 21.7L49.1 20.9ZM-49.6 24.0L-46.4 23.2L-45.9 19.9L-49.1 20.9ZM46.4 23.2L49.6 24.0L49.1 20.9L45.9 19.9ZM-46.4 23.2L-43.1 22.3L-42.8 18.6L-45.9 19.9ZM43.1 22.3L46.4 23.2L45.9 19.9L42.8 18.6ZM-43.1 22.3L-39.9 21.1L-39.6 17.1L-42.8 18.6ZM39.9 21.1L43.1 22.3L42.8 18.6L39.6 17.1ZM-39.9 21.1L-36.7 19.7L-36.5 15.4L-39.6 17.1ZM36.7 19.7L39.9 21.1L39.6 17.1L36.5 15.4ZM-36.7 19.7L-33.5 18.1L-33.3 13.4L-36.5 15.4ZM33.5 18.1L36.7 19.7L36.5 15.4L33.3 13.4ZM-33.5 18.1L-30.3 16.4L-30.1 11.2L-33.3 13.4ZM30.3 16.4L33.5 18.1L33.3 13.4L30.1 11.2ZM-30.3 16.4L-27.0 14.5L-26.9 8.8L-30.1 11.2ZM27.0 14.5L30.3 16.4L30.1 11.2L26.9 8.8ZM-27.0 14.5L-23.8 12.6L-23.7 6.3L-26.9 8.8ZM23.8 12.6L27.0 14.5L26.9 8.8L23.7 6.3ZM-23.8 12.6L-20.5 10.6L-20.4 3.8L-23.7 6.3ZM20.5 10.6L23.8 12.6L23.7 6.3L20.4 3.8ZM-20.5 10.6L-17.1 8.8L-17.1 1.4L-20.4 3.8ZM17.1 8.8L20.5 10.6L20.4 3.8L17.1 1.4ZM-17.1 8.8L-13.8 7.1L-13.8 -0.8L-17.1 1.4ZM13.8 7.1L17.1 8.8L17.1 1.4L13.8 -0.8ZM-13.8 7.1L-10.3 5.6L-10.4 -2.7L-13.8 -0.8ZM10.3 5.6L13.8 7.1L13.8 -0.8L10.4 -2.7ZM-10.3 5.6L-6.9 4.6L-6.9 -4.1L-10.4 -2.7ZM6.9 4.6L10.3 5.6L10.4 -2.7L6.9 -4.1ZM-6.9 4.6L-3.5 3.9L-3.5 -5.0L-6.9 -4.1ZM3.5 3.9L6.9 4.6L6.9 -4.1L3.5 -5.0ZM-3.5 3.9L0.0 3.6L0.0 -5.3L-3.5 -5.0ZM0.0 3.6L3.5 3.9L3.5 -5.0L0.0 -5.3Z"/>
<path d="M-66.5 28.7L-63.2 28.5L-62.5 25.8L-65.8 26.0ZM63.2 28.5L66.5 28.7L65.8 26.0L62.5 25.8ZM-63.2 28.5L-59.9 28.3L-59.3 25.5L-62.5 25.8ZM59.9 28.3L63.2 28.5L62.5 25.8L59.3 25.5ZM-59.9 28.3L-56.6 28.0L-56.0 25.2L-59.3 25.5ZM56.6 28.0L59.9 28.3L59.3 25.5L56.0 25.2ZM-56.6 28.0L-53.4 27.6L-52.8 24.7L-56.0 25.2ZM53.4 27.6L56.6 28.0L56.0 25.2L52.8 24.7ZM-53.4 27.6L-50.1 27.1L-49.6 24.0L-52.8 24.7ZM50.1 27.1L53.4 27.6L52.8 24.7L49.6 24.0ZM-50.1 27.1L-46.8 26.5L-46.4 23.2L-49.6 24.0ZM46.8 26.5L50.1 27.1L49.6 24.0L46.4 23.2ZM-46.8 26.5L-43.6 25.8L-43.1 22.3L-46.4 23.2ZM43.6 25.8L46.8 26.5L46.4 23.2L43.1 22.3ZM-43.6 25.8L-40.3 24.9L-39.9 21.1L-43.1 22.3ZM40.3 24.9L43.6 25.8L43.1 22.3L39.9 21.1ZM-40.3 24.9L-37.0 23.8L-36.7 19.7L-39.9 21.1ZM37.0 23.8L40.3 24.9L39.9 21.1L36.7 19.7ZM-37.0 23.8L-33.8 22.6L-33.5 18.1L-36.7 19.7ZM33.8 22.6L37.0 23.8L36.7 19.7L33.5 18.1ZM-33.8 22.6L-30.5 21.3L-30.3 16.4L-33.5 18.1ZM30.5 21.3L33.8 22.6L33.5 18.1L30.3 16.4ZM-30.5 21.3L-27.2 19.8L-27.0 14.5L-30.3 16.4ZM27.2 19.8L30.5 21.3L30.3 16.4L27.0 14.5ZM-27.2 19.8L-23.9 18.4L-23.8 12.6L-27.0 14.5ZM23.9 18.4L27.2 19.8L27.0 14.5L23.8 12.6ZM-23.9 18.4L-20.5 16.9L-20.5 10.6L-23.8 12.6ZM20.5 16.9L23.9 18.4L23.8 12.6L20.5 10.6ZM-20.5 16.9L-17.2 15.5L-17.1 8.8L-20.5 10.6ZM17.2 15.5L20.5 16.9L20.5 10.6L17.1 8.8ZM-17.2 15.5L-13.8 14.2L-13.8 7.1L-17.1 8.8ZM13.8 14.2L17.2 15.5L17.1 8.8L13.8 7.1ZM-13.8 14.2L-10.4 13.1L-10.3 5.6L-13.8 7.1ZM10.4 13.1L13.8 14.2L13.8 7.1L10.3 5.6ZM-10.4 13.1L-6.9 12.2L-6.9 4.6L-10.3 5.6ZM6.9 12.2L10.4 13.1L10.3 5.6L6.9 4.6ZM-6.9 12.2L-3.5 11.7L-3.5 3.9L-6.9 4.6ZM3.5 11.7L6.9 12.2L6.9 4.6L3.5 3.9ZM-3.5 11.7L0.0 11.6L0.0 3.6L-3.5 3.9ZM0.0 11.6L3.5 11.7L3.5 3.9L0.0 3.6Z"/>
<path d="M-67.3 31.4L-64.0 31.2L-63.2 28.5L-66.5 28.7ZM64.0 31.2L67.3 31.4L66.5 28.7L63.2 28.5ZM-64.0 31.2L-60.6 31.1L-59.9 28.3L-63.2 28.5ZM60.6 31.1L64.0 31.2L63.2 28.5L59.9 28.3ZM-60.6 31.1L-57.3 30.9L-56.6 28.0L-59.9 28.3ZM57.3 30.9L60.6 31.1L59.9 28.3L56.6 28.0ZM-57.3 30.9L-54.0 30.6L-53.4 27.6L-56.6 28.0ZM54.0 30.6L57.3 30.9L56.6 28.0L53.4 27.6ZM-54.0 30.6L-50.6 30.2L-50.1 27.1L-53.4 27.6ZM50.6 30.2L54.0 30.6L53.4 27.6L50.1 27.1ZM-50.6 30.2L-47.3 29.7L-46.8 26.5L-50.1 27.1ZM47.3 29.7L50.6 30.2L50.1 27.1L46.8 26.5ZM-47.3 29.7L-44.0 29.2L-43.6 25.8L-46.8 26.5ZM44.0 29.2L47.3 29.7L46.8 26.5L43.6 25.8ZM-44.0 29.2L-40.7 28.5L-40.3 24.9L-43.6 25.8ZM40.7 28.5L44.0 29.2L43.6 25.8L40.3 24.9ZM-40.7 28.5L-37.4 27.7L-37.0 23.8L-40.3 24.9ZM37.4 27.7L40.7 28.5L40.3 24.9L37.0 23.8ZM-37.4 27.7L-34.0 26.8L-33.8 22.6L-37.0 23.8ZM34.0 26.8L37.4 27.7L37.0 23.8L33.8 22.6ZM-34.0 26.8L-30.7 25.8L-30.5 21.3L-33.8 22.6ZM30.7 25.8L34.0 26.8L33.8 22.6L30.5 21.3ZM-30.7 25.8L-27.4 24.7L-27.2 19.8L-30.5 21.3ZM27.4 24.7L30.7 25.8L30.5 21.3L27.2 19.8ZM-27.4 24.7L-24.0 23.6L-23.9 18.4L-27.2 19.8ZM24.0 23.6L27.4 24.7L27.2 19.8L23.9 18.4ZM-24.0 23.6L-20.6 22.5L-20.5 16.9L-23.9 18.4ZM20.6 22.5L24.0 23.6L23.9 18.4L20.5 16.9ZM-20.6 22.5L-17.2 21.4L-17.2 15.5L-20.5 16.9ZM17.2 21.4L20.6 22.5L20.5 16.9L17.2 15.5ZM-17.2 21.4L-13.8 20.5L-13.8 14.2L-17.2 15.5ZM13.8 20.5L17.2 21.4L17.2 15.5L13.8 14.2ZM-13.8 20.5L-10.4 19.6L-10.4 13.1L-13.8 14.2ZM10.4 19.6L13.8 20.5L13.8 14.2L10.4 13.1ZM-10.4 19.6L-6.9 19.0L-6.9 12.2L-10.4 13.1ZM6.9 19.0L10.4 19.6L10.4 13.1L6.9 12.2ZM-6.9 19.0L-3.5 18.6L-3.5 11.7L-6.9 12.2ZM3.5 18.6L6.9 19.0L6.9 12.2L3.5 11.7ZM-3.5 18.6L0.0 18.5L0.0 11.6L-3.5 11.7ZM0.0 18.5L3.5 18.6L3.5 11.7L0.0 11.6Z"/>
<path d="M-68.1 34.1L-64.7 34.0L-64.0 31.2L-67.3 31.4ZM64.7 34.0L68.1 34.1L67.3 31.4L64.0 31.2ZM-64.7 34.0L-61.3 33.9L-60.6 31.1L-64.0 31.2ZM61.3 33.9L64.7 34.0L64.0 31.2L60.6 31.1ZM-61.3 33.9L-58.0 33.7L-57.3 30.9L-60.6 31.1ZM58.0 33.7L61.3 33.9L60.6 31.1L57.3 30.9ZM-58.0 33.7L-54.6 33.5L-54.0 30.6L-57.3 30.9ZM54.6 33.5L58.0 33.7L57.3 30.9L54.0 30.6ZM-54.6 33.5L-51.2 33.2L-50.6 30.2L-54.0 30.6ZM51.2 33.2L54.6 33.5L54.0 30.6L50.6 30.2ZM-51.2 33.2L-47.8 32.9L-47.3 29.7L-50.6 30.2ZM47.8 32.9L51.2 33.2L50.6 30.2L47.3 29.7ZM-47.8 32.9L-44.5 32.5L-44.0 29.2L-47.3 29.7ZM44.5 32.5L47.8 32.9L47.3 29.7L44.0 29.2ZM-44.5 32.5L-41.1 32.0L-40.7 28.5L-44.0 29.2ZM41.1 32.0L44.5 32.5L44.0 29.2L40.7 28.5ZM-41.1 32.0L-37.7 31.4L-37.4 27.7L-40.7 28.5ZM37.7 31.4L41.1 32.0L40.7 28.5L37.4 27.7ZM-37.7 31.4L-34.3 30.7L-34.0 26.8L-37.4 27.7ZM34.3 30.7L37.7 31.4L37.4 27.7L34.0 26.8ZM-34.3 30.7L-31.0 30.0L-30.7 25.8L-34.0 26.8ZM31.0 30.0L34.3 30.7L34.0 26.8L30.7 25.8ZM-31.0 30.0L-27.6 29.2L-27.4 24.7L-30.7 25.8ZM27.6 29.2L31.0 30.0L30.7 25.8L27.4 24.7ZM-27.6 29.2L-24.2 28.4L-24.0 23.6L-27.4 24.7ZM24.2 28.4L27.6 29.2L27.4 24.7L24.0 23.6ZM-24.2 28.4L-20.8 27.5L-20.6 22.5L-24.0 23.6ZM20.8 27.5L24.2 28.4L24.0 23.6L20.6 22.5ZM-20.8 27.5L-17.3 26.8L-17.2 21.4L-20.6 22.5ZM17.3 26.8L20.8 27.5L20.6 22.5L17.2 21.4ZM-17.3 26.8L-13.9 26.1L-13.8 20.5L-17.2 21.4ZM13.9 26.1L17.3 26.8L17.2 21.4L13.8 20.5ZM-13.9 26.1L-10.4 25.5L-10.4 19.6L-13.8 20.5ZM10.4 25.5L13.9 26.1L13.8 20.5L10.4 19.6ZM-10.4 25.5L-7.0 25.0L-6.9 19.0L-10.4 19.6ZM7.0 25.0L10.4 25.5L10.4 19.6L6.9 19.0ZM-7.0 25.0L-3.5 24.7L-3.5 18.6L-6.9 19.0ZM3.5 24.7L7.0 25.0L6.9 19.0L3.5 18.6ZM-3.5 24.7L0.0 24.6L0.0 18.5L-3.5 18.6ZM0.0 24.6L3.5 24.7L3.5 18.6L0.0 18.5Z"/>
<path d="M-68.9 36.9L-65.5 36.8L-64.7 34.0L-68.1 34.1ZM65.5 36.8L68.9 36.9L68.1 34.1L64.7 34.0ZM-65.5 36.8L-62.1 36.7L-61.3 33.9L-64.7 34.0ZM62.1 36.7L65.5 36.8L64.7 34.0L61.3 33.9ZM-62.1 36.7L-58.6 36.6L-58.0 33.7L-61.3 33.9ZM58.6 36.6L62.1 36.7L61.3 33.9L58.0 33.7ZM-58.6 36.6L-55.2 36.4L-54.6 33.5L-58.0 33.7ZM55.2 36.4L58.6 36.6L58.0 33.7L54.6 33.5ZM-55.2 36.4L-51.8 36.2L-51.2 33.2L-54.6 33.5ZM51.8 36.2L55.2 36.4L54.6 33.5L51.2 33.2ZM-51.8 36.2L-48.4 36.0L-47.8 32.9L-51.2 33.2ZM48.4 36.0L51.8 36.2L51.2 33.2L47.8 32.9ZM-48.4 36.0L-44.9 35.7L-44.5 32.5L-47.8 32.9ZM44.9 35.7L48.4 36.0L47.8 32.9L44.5 32.5ZM-44.9 35.7L-41.5 35.3L-41.1 32.0L-44.5 32.5ZM41.5 35.3L44.9 35.7L44.5 32.5L41.1 32.0ZM-41.5 35.3L-38.1 34.9L-37.7 31.4L-41.1 32.0ZM38.1 34.9L41.5 35.3L41.1 32.0L37.7 31.4ZM-38.1 34.9L-34.7 34.4L-34.3 30.7L-37.7 31.4ZM34.7 34.4L38.1 34.9L37.7 31.4L34.3 30.7ZM-34.7 34.4L-31.3 33.9L-31.0 30.0L-34.3 30.7ZM31.3 33.9L34.7 34.4L34.3 30.7L31.0 30.0ZM-31.3 33.9L-27.8 33.3L-27.6 29.2L-31.0 30.0ZM27.8 33.3L31.3 33.9L31.0 30.0L27.6 29.2ZM-27.8 33.3L-24.4 32.7L-24.2 28.4L-27.6 29.2ZM24.4 32.7L27.8 33.3L27.6 29.2L24.2 28.4ZM-24.4 32.7L-20.9 32.1L-20.8 27.5L-24.2 28.4ZM20.9 32.1L24.4 32.7L24.2 28.4L20.8 27.5ZM-20.9 32.1L-17.5 31.6L-17.3 26.8L-20.8 27.5ZM17.5 31.6L20.9 32.1L20.8 27.5L17.3 26.8ZM-17.5 31.6L-14.0 31.1L-13.9 26.1L-17.3 26.8ZM14.0 31.1L17.5 31.6L17.3 26.8L13.9 26.1ZM-14.0 31.1L-10.5 30.6L-10.4 25.5L-13.9 26.1ZM10.5 30.6L14.0 31.1L13.9 26.1L10.4 25.5ZM-10.5 30.6L-7.0 30.3L-7.0 25.0L-10.4 25.5ZM7.0 30.3L10.5 30.6L10.4 25.5L7.0 25.0ZM-7.0 30.3L-3.5 30.1L-3.5 24.7L-7.0 25.0ZM3.5 30.1L7.0 30.3L7.0 25.0L3.5 24.7ZM-3.5 30.1L0.0 30.0L0.0 24.6L-3.5 24.7ZM0.0 30.0L3.5 30.1L3.5 24.7L0.0 24.6Z"/>
<path d="M-69.8 39.7L-66.3 39.7L-65.5 36.8L-68.9 36.9ZM66.3 39.7L69.8 39.7L68.9 36.9L65.5 36.8ZM-66.3 39.7L-62.8 39.6L-62.1 36.7L-65.5 36.8ZM62.8 39.6L66.3 39.7L65.5 36.8L62.1 36.7ZM-62.8 39.6L-59.3 39.5L-58.6 36.6L-62.1 36.7ZM59.3 39.5L62.8 39.6L62.1 36.7L58.6 36.6ZM-59.3 39.5L-55.9 39.4L-55.2 36.4L-58.6 36.6ZM55.9 39.4L59.3 39.5L58.6 36.6L55.2 36.4ZM-55.9 39.4L-52.4 39.3L-51.8 36.2L-55.2 36.4ZM52.4 39.3L55.9 39.4L55.2 36.4L51.8 36.2ZM-52.4 39.3L-48.9 39.1L-48.4 36.0L-51.8 36.2ZM48.9 39.1L52.4 39.3L51.8 36.2L48.4 36.0ZM-48.9 39.1L-45.5 38.9L-44.9 35.7L-48.4 36.0ZM45.5 38.9L48.9 39.1L48.4 36.0L44.9 35.7ZM-45.5 38.9L-42.0 38.6L-41.5 35.3L-44.9 35.7ZM42.0 38.6L45.5 38.9L44.9 35.7L41.5 35.3ZM-42.0 38.6L-38.5 38.3L-38.1 34.9L-41.5 35.3ZM38.5 38.3L42.0 38.6L41.5 35.3L38.1 34.9ZM-38.5 38.3L-35.0 38.0L-34.7 34.4L-38.1 34.9ZM35.0 38.0L38.5 38.3L38.1 34.9L34.7 34.4ZM-35.0 38.0L-31.6 37.6L-31.3 33.9L-34.7 34.4ZM31.6 37.6L35.0 38.0L34.7 34.4L31.3 33.9ZM-31.6 37.6L-28.1 37.2L-27.8 33.3L-31.3 33.9ZM28.1 37.2L31.6 37.6L31.3 33.9L27.8 33.3ZM-28.1 37.2L-24.6 36.8L-24.4 32.7L-27.8 33.3ZM24.6 36.8L28.1 37.2L27.8 33.3L24.4 32.7ZM-24.6 36.8L-21.1 36.4L-20.9 32.1L-24.4 32.7ZM21.1 36.4L24.6 36.8L24.4 32.7L20.9 32.1ZM-21.1 36.4L-17.6 36.0L-17.5 31.6L-20.9 32.1ZM17.6 36.0L21.1 36.4L20.9 32.1L17.5 31.6ZM-17.6 36.0L-14.1 35.6L-14.0 31.1L-17.5 31.6ZM14.1 35.6L17.6 36.0L17.5 31.6L14.0 31.1ZM-14.1 35.6L-10.6 35.3L-10.5 30.6L-14.0 31.1ZM10.6 35.3L14.1 35.6L14.0 31.1L10.5 30.6ZM-10.6 35.3L-7.1 35.1L-7.0 30.3L-10.5 30.6ZM7.1 35.1L10.6 35.3L10.5 30.6L7.0 30.3ZM-7.1 35.1L-3.5 34.9L-3.5 30.1L-7.0 30.3ZM3.5 34.9L7.1 35.1L7.0 30.3L3.5 30.1ZM-3.5 34.9L0.0 34.9L0.0 30.0L-3.5 30.1ZM0.0 34.9L3.5 34.9L3.5 30.1L0.0 30.0Z"/>
<path d="M-70.7 42.6L-67.1 42.6L-66.3 39.7L-69.8 39.7ZM67.1 42.6L70.7 42.6L69.8 39.7L66.3 39.7ZM-67.1 42.6L-63.6 42.5L-62.8 39.6L-66.3 39.7ZM63.6 42.5L67.1 42.6L66.3 39.7L62.8 39.6ZM-63.6 42.5L-60.1 42.5L-59.3 39.5L-62.8 39.6ZM60.1 42.5L63.6 42.5L62.8 39.6L59.3 39.5ZM-60.1 42.5L-56.6 42.4L-55.9 39.4L-59.3 39.5ZM56.6 42.4L60.1 42.5L59.3 39.5L55.9 39.4ZM-56.6 42.4L-53.0 42.3L-52.4 39.3L-55.9 39.4ZM53.0 42.3L56.6 42.4L55.9 39.4L52.4 39.3ZM-53.0 42.3L-49.5 42.2L-48.9 39.1L-52.4 39.3ZM49.5 42.2L53.0 42.3L52.4 39.3L48.9 39.1ZM-49.5 42.2L-46.0 42.0L-45.5 38.9L-48.9 39.1ZM46.0 42.0L49.5 42.2L48.9 39.1L45.5 38.9ZM-46.0 42.0L-42.5 41.8L-42.0 38.6L-45.5 38.9ZM42.5 41.8L46.0 42.0L45.5 38.9L42.0 38.6ZM-42.5 41.8L-39.0 41.6L-38.5 38.3L-42.0 38.6ZM39.0 41.6L42.5 41.8L42.0 38.6L38.5 38.3ZM-39.0 41.6L-35.4 41.4L-35.0 38.0L-38.5 38.3ZM35.4 41.4L39.0 41.6L38.5 38.3L35.0 38.0ZM-35.4 41.4L-31.9 41.1L-31.6 37.6L-35.0 38.0ZM31.9 41.1L35.4 41.4L35.0 38.0L31.6 37.6ZM-31.9 41.1L-28.4 40.9L-28.1 37.2L-31.6 37.6ZM28.4 40.9L31.9 41.1L31.6 37.6L28.1 37.2ZM-28.4 40.9L-24.9 40.6L-24.6 36.8L-28.1 37.2ZM24.9 40.6L28.4 40.9L28.1 37.2L24.6 36.8ZM-24.9 40.6L-21.3 40.3L-21.1 36.4L-24.6 36.8ZM21.3 40.3L24.9 40.6L24.6 36.8L21.1 36.4ZM-21.3 40.3L-17.8 40.0L-17.6 36.0L-21.1 36.4ZM17.8 40.0L21.3 40.3L21.1 36.4L17.6 36.0ZM-17.8 40.0L-14.2 39.8L-14.1 35.6L-17.6 36.0ZM14.2 39.8L17.8 40.0L17.6 36.0L14.1 35.6ZM-14.2 39.8L-10.7 39.5L-10.6 35.3L-14.1 35.6ZM10.7 39.5L14.2 39.8L14.1 35.6L10.6 35.3ZM-10.7 39.5L-7.1 39.4L-7.1 35.1L-10.6 35.3ZM7.1 39.4L10.7 39.5L10.6 35.3L7.1 35.1ZM-7.1 39.4L-3.6 39.3L-3.5 34.9L-7.1 35.1ZM3.6 39.3L7.1 39.4L7.1 35.1L3.5 34.9ZM-3.6 39.3L0.0 39.3L0.0 34.9L-3.5 34.9ZM0.0 39.3L3.6 39.3L3.5 34.9L0.0 34.9Z"/>
<path d="M-71.5 45.6L-68.0 45.6L-67.1 42.6L-70.7 42.6ZM68.0 45.6L71.5 45.6L70.7 42.6L67.1 42.6ZM-68.0 45.6L-64.4 45.5L-63.6 42.5L-67.1 42.6ZM64.4 45.5L68.0 45.6L67.1 42.6L63.6 42.5ZM-64.4 45.5L-60.8 45.5L-60.1 42.5L-63.6 42.5ZM60.8 45.5L64.4 45.5L63.6 42.5L60.1 42.5ZM-60.8 45.5L-57.3 45.4L-56.6 42.4L-60.1 42.5ZM57.3 45.4L60.8 45.5L60.1 42.5L56.6 42.4ZM-57.3 45.4L-53.7 45.4L-53.0 42.3L-56.6 42.4ZM53.7 45.4L57.3 45.4L56.6 42.4L53.0 42.3ZM-53.7 45.4L-50.1 45.3L-49.5 42.2L-53.0 42.3ZM50.1 45.3L53.7 45.4L53.0 42.3L49.5 42.2ZM-50.1 45.3L-46.5 45.2L-46.0 42.0L-49.5 42.2ZM46.5 45.2L50.1 45.3L49.5 42.2L46.0 42.0ZM-46.5 45.2L-43.0 45.1L-42.5 41.8L-46.0 42.0ZM43.0 45.1L46.5 45.2L46.0 42.0L42.5 41.8ZM-43.0 45.1L-39.4 44.9L-39.0 41.6L-42.5 41.8ZM39.4 44.9L43.0 45.1L42.5 41.8L39.0 41.6ZM-39.4 44.9L-35.8 44.7L-35.4 41.4L-39.0 41.6ZM35.8 44.7L39.4 44.9L39.0 41.6L35.4 41.4ZM-35.8 44.7L-32.3 44.6L-31.9 41.1L-35.4 41.4ZM32.3 44.6L35.8 44.7L35.4 41.4L31.9 41.1ZM-32.3 44.6L-28.7 44.4L-28.4 40.9L-31.9 41.1ZM28.7 44.4L32.3 44.6L31.9 41.1L28.4 40.9ZM-28.7 44.4L-25.1 44.2L-24.9 40.6L-28.4 40.9ZM25.1 44.2L28.7 44.4L28.4 40.9L24.9 40.6ZM-25.1 44.2L-21.5 44.0L-21.3 40.3L-24.9 40.6ZM21.5 44.0L25.1 44.2L24.9 40.6L21.3 40.3ZM-21.5 44.0L-18.0 43.8L-17.8 40.0L-21.3 40.3ZM18.0 43.8L21.5 44.0L21.3 40.3L17.8 40.0ZM-18.0 43.8L-14.4 43.6L-14.2 39.8L-17.8 40.0ZM14.4 43.6L18.0 43.8L17.8 40.0L14.2 39.8ZM-14.4 43.6L-10.8 43.5L-10.7 39.5L-14.2 39.8ZM10.8 43.5L14.4 43.6L14.2 39.8L10.7 39.5ZM-10.8 43.5L-7.2 43.4L-7.1 39.4L-10.7 39.5ZM7.2 43.4L10.8 43.5L10.7 39.5L7.1 39.4ZM-7.2 43.4L-3.6 43.3L-3.6 39.3L-7.1 39.4ZM3.6 43.3L7.2 43.4L7.1 39.4L3.6 39.3ZM-3.6 43.3L0.0 43.3L0.0 39.3L-3.6 39.3ZM0.0 43.3L3.6 43.3L3.6 39.3L0.0 39.3Z"/>
<path d="M-72.5 48.6L-68.8 48.6L-68.0 45.6L-71.5 45.6ZM68.8 48.6L72.5 48.6L71.5 45.6L68.0 45.6ZM-68.8 48.6L-65.2 48.6L-64.4 45.5L-68.0 45.6ZM65.2 48.6L68.8 48.6L68.0 45.6L64.4 45.5ZM-65.2 48.6L-61.6 48.5L-60.8 45.5L-64.4 45.5ZM61.6 48.5L65.2 48.6L64.4 45.5L60.8 45.5ZM-61.6 48.5L-58.0 48.5L-57.3 45.4L-60.8 45.5ZM58.0 48.5L61.6 48.5L60.8 45.5L57.3 45.4ZM-58.0 48.5L-54.4 48.5L-53.7 45.4L-57.3 45.4ZM54.4 48.5L58.0 48.5L57.3 45.4L53.7 45.4ZM-54.4 48.5L-50.7 48.4L-50.1 45.3L-53.7 45.4ZM50.7 48.4L54.4 48.5L53.7 45.4L50.1 45.3ZM-50.7 48.4L-47.1 48.3L-46.5 45.2L-50.1 45.3ZM47.1 48.3L50.7 48.4L50.1 45.3L46.5 45.2ZM-47.1 48.3L-43.5 48.3L-43.0 45.1L-46.5 45.2ZM43.5 48.3L47.1 48.3L46.5 45.2L43.0 45.1ZM-43.5 48.3L-39.9 48.2L-39.4 44.9L-43.0 45.1ZM39.9 48.2L43.5 48.3L43.0 45.1L39.4 44.9ZM-39.9 48.2L-36.3 48.1L-35.8 44.7L-39.4 44.9ZM36.3 48.1L39.9 48.2L39.4 44.9L35.8 44.7ZM-36.3 48.1L-32.7 47.9L-32.3 44.6L-35.8 44.7ZM32.7 47.9L36.3 48.1L35.8 44.7L32.3 44.6ZM-32.7 47.9L-29.0 47.8L-28.7 44.4L-32.3 44.6ZM29.0 47.8L32.7 47.9L32.3 44.6L28.7 44.4ZM-29.0 47.8L-25.4 47.7L-25.1 44.2L-28.7 44.4ZM25.4 47.7L29.0 47.8L28.7 44.4L25.1 44.2ZM-25.4 47.7L-21.8 47.5L-21.5 44.0L-25.1 44.2ZM21.8 47.5L25.4 47.7L25.1 44.2L21.5 44.0ZM-21.8 47.5L-18.2 47.4L-18.0 43.8L-21.5 44.0ZM18.2 47.4L21.8 47.5L21.5 44.0L18.0 43.8ZM-18.2 47.4L-14.5 47.3L-14.4 43.6L-18.0 43.8ZM14.5 47.3L18.2 47.4L18.0 43.8L14.4 43.6ZM-14.5 47.3L-10.9 47.2L-10.8 43.5L-14.4 43.6ZM10.9 47.2L14.5 47.3L14.4 43.6L10.8 43.5ZM-10.9 47.2L-7.3 47.1L-7.2 43.4L-10.8 43.5ZM7.3 47.1L10.9 47.2L10.8 43.5L7.2 43.4ZM-7.3 47.1L-3.6 47.1L-3.6 43.3L-7.2 43.4ZM3.6 47.1L7.3 47.1L7.2 43.4L3.6 43.3ZM-3.6 47.1L0.0 47.1L0.0 43.3L-3.6 43.3ZM0.0 47.1L3.6 47.1L3.6 43.3L0.0 43.3Z"/>
</g></defs>
<rect x="19.2" y="0.5" width="184.9" height="187.2" fill="#fff" stroke="#1a1a1a" stroke-width="1.9"/>
<use href="#m" x="109.55" y="126.66"/>
<rect x="259.6" y="0.5" width="185.0" height="187.2" fill="#fff" stroke="#1a1a1a" stroke-width="1.9"/>
<use href="#m" x="351.10" y="126.66"/>
<rect x="499.2" y="0.5" width="185.1" height="187.2" fill="#fff" stroke="#1a1a1a" stroke-width="1.9"/>
<use href="#m" x="592.70" y="126.66"/>
<path d="M102.1 126.5L114.5 138.9M102.1 138.9L114.5 126.5" stroke="#f00" stroke-width="1.5" fill="none"/>
<circle cx="108.3" cy="132.7" r="4.3" fill="#f00"/>
<path d="M295.4 125.6L307.4 137.6M295.4 137.6L307.4 125.6" stroke="#f00" stroke-width="1.2" fill="none"/>
<path d="M349.8 130.10H316.9V133.10H349.8Z" fill="#f00"/><path d="M308.4 131.60L318.6 127.20L317.4 131.60L318.6 136.00Z" fill="#f00"/>
<circle cx="349.8" cy="131.6" r="4.2" fill="#f00"/>
<path d="M499.5 128.2L511.5 140.2M499.5 140.2L511.5 128.2" stroke="#f00" stroke-width="1.2" fill="none"/>
<path d="M590.7 132.70H517.2V135.70H590.7Z" fill="#f00"/><path d="M508.4 134.20L518.9 129.80L517.7 134.20L518.9 138.60Z" fill="#f00"/>
<circle cx="590.7" cy="134.2" r="4.2" fill="#f00"/>
<text x="0.8" y="25" font-size="21.5" textLength="9.6" lengthAdjust="spacingAndGlyphs" stroke="#000" stroke-width="0.25">a</text>
<text x="243.8" y="25" font-size="21" textLength="10.6" lengthAdjust="spacingAndGlyphs" stroke="#000" stroke-width="0.25">b</text>
<text x="480.0" y="25.0" font-size="19.6" textLength="9.0" lengthAdjust="spacingAndGlyphs" stroke="#000" stroke-width="0.4">c</text>
<text x="-0.8" y="252.2" font-size="21" textLength="11" lengthAdjust="spacingAndGlyphs" stroke="#000" stroke-width="0.25">d</text>
<path d="M52.6 357.7L53.1 356.8L53.5 355.9L54.0 355.0L54.5 354.1L55.0 353.2L55.4 352.3L55.9 351.4L56.4 350.5L56.9 349.6L57.3 348.7L57.8 347.8L58.3 347.0L58.8 346.1L59.2 345.2L59.7 344.3L60.2 343.4L60.7 342.5L61.1 341.6L61.6 340.7L62.1 339.9L62.6 339.0L63.0 338.1L63.5 337.2L64.0 336.3L64.5 335.5L64.9 334.6L65.4 333.7L65.9 332.8L66.3 332.0L66.8 331.1L67.3 330.2L67.8 329.4L68.2 328.5L68.7 327.6L69.2 326.8L69.7 325.9L70.1 325.1L70.6 324.2L71.1 323.4L71.6 322.5L72.0 321.7L72.5 320.9L73.0 320.0L73.5 319.2L73.9 318.3L74.4 317.5L74.9 316.7L75.4 315.9L75.8 315.1L76.3 314.2L76.8 313.4L77.2 312.6L77.7 311.8L78.2 311.0L78.7 310.2L79.1 309.4L79.6 308.6L80.1 307.8L80.6 307.0L81.0 306.3L81.5 305.5L82.0 304.7L82.5 303.9L82.9 303.2L83.4 302.4L83.9 301.6L84.4 300.9L84.8 300.1L85.3 299.4L85.8 298.6L86.3 297.9L86.7 297.2L87.2 296.4L87.7 295.7L88.2 295.0L88.6 294.3L89.1 293.6L89.6 292.9L90.0 292.2L90.5 291.5L91.0 290.8L91.5 290.1L91.9 289.4L92.4 288.7L92.9 288.0L93.4 287.4L93.8 286.7L94.3 286.1L94.8 285.4L95.3 284.8L95.7 284.1L96.2 283.5L96.7 282.8L97.2 282.2L97.6 281.6L98.1 281.0L98.6 280.4L99.1 279.7L99.5 279.1L100.0 278.5L100.5 278.0L100.9 277.4L101.4 276.8L101.9 276.2L102.4 275.6L102.8 275.1L103.3 274.5L103.8 274.0L104.3 273.4L104.7 272.9L105.2 272.4L105.7 271.8L106.2 271.3L106.6 270.8L107.1 270.3L107.6 269.8L108.1 269.3L108.5 268.8L109.0 268.3L109.5 267.8L110.0 267.3L110.4 266.9L110.9 266.4L111.4 265.9L111.8 265.5L112.3 265.0L112.8 264.6L113.3 264.2L113.7 263.7L114.2 263.3L114.7 262.9L115.2 262.5L115.6 262.1L116.1 261.7L116.6 261.3L117.1 260.9L117.5 260.5L118.0 260.1L118.5 259.8L119.0 259.4L119.4 259.1L119.9 258.7L120.4 258.4L120.9 258.0L121.3 257.7L121.8 257.4L122.3 257.1L122.8 256.8L123.2 256.4L123.7 256.1L124.2 255.9L124.6 255.6L125.1 255.3L125.6 255.0L126.1 254.7L126.5 254.5L127.0 254.2L127.5 254.0L128.0 253.7L128.4 253.5L128.9 253.3L129.4 253.0L129.9 252.8L130.3 252.6L130.8 252.4L131.3 252.2L131.8 252.0L132.2 251.8L132.7 251.6L133.2 251.5L133.7 251.3L134.1 251.1L134.6 251.0L135.1 250.8L135.6 250.7L136.0 250.5L136.5 250.4L137.0 250.3L137.4 250.1L137.9 250.0L138.4 249.9L138.9 249.8L139.3 249.7L139.8 249.6L140.3 249.5L140.8 249.4L141.2 249.4L141.7 249.3L142.2 249.2L142.7 249.2L143.1 249.1L143.6 249.1L144.1 249.0L144.6 249.0L145.0 249.0L145.5 248.9L146.0 248.9L146.5 248.9L146.9 248.9L147.4 248.9L147.9 248.9L148.3 248.9L148.8 248.9L149.3 248.9L149.8 249.0L150.2 249.0L150.7 249.0L151.2 249.1L151.7 249.1L152.1 249.2L152.6 249.2L153.1 249.3L153.6 249.3L154.0 249.4L154.5 249.5L155.0 249.6L155.5 249.7L155.9 249.8L156.4 249.8L156.9 249.9L157.4 250.1L157.8 250.2L158.3 250.3L158.8 250.4L159.2 250.5L159.7 250.7L160.2 250.8L160.7 250.9L161.1 251.1L161.6 251.2L162.1 251.4L162.6 251.5L163.0 251.7L163.5 251.8L164.0 252.0L164.5 252.2L164.9 252.4L165.4 252.5L165.9 252.7L166.4 252.9L166.8 253.1L167.3 253.3L167.8 253.5L168.3 253.7L168.7 253.9L169.2 254.1L169.7 254.4L170.2 254.6L170.6 254.8L171.1 255.0L171.6 255.3L172.0 255.5L172.5 255.8L173.0 256.0L173.5 256.2L173.9 256.5L174.4 256.7L174.9 257.0L175.4 257.3L175.8 257.5L176.3 257.8L176.8 258.1L177.3 258.3L177.7 258.6L178.2 258.9L178.7 259.2L179.2 259.5L179.6 259.8L180.1 260.0L180.6 260.3L181.1 260.6L181.5 260.9L182.0 261.2L182.5 261.6L182.9 261.9L183.4 262.2L183.9 262.5L184.4 262.8L184.8 263.1L185.3 263.4L185.8 263.8L186.3 264.1L186.7 264.4L187.2 264.8L187.7 265.1L188.2 265.4L188.6 265.8L189.1 266.1L189.6 266.4L190.1 266.8L190.5 267.1L191.0 267.5L191.5 267.8L192.0 268.2L192.4 268.5L192.9 268.9L193.4 269.3L193.9 269.6L194.3 270.0L194.8 270.3L195.3 270.7L195.7 271.1L196.2 271.4L196.7 271.8L197.2 272.2L197.6 272.6L198.1 272.9L198.6 273.3L199.1 273.7L199.5 274.1L200.0 274.4L200.5 274.8L201.0 275.2L201.4 275.6L201.9 276.0L202.4 276.4L202.9 276.7L203.3 277.1L203.8 277.5L204.3 277.9L204.8 278.3L205.2 278.7L205.7 279.1L206.2 279.5L206.6 279.9L207.1 280.2L207.6 280.6L208.1 281.0L208.5 281.4L209.0 281.8L209.5 282.2L210.0 282.6L210.4 283.0L210.9 283.4L211.4 283.8L211.9 284.2L212.3 284.6L212.8 285.0L213.3 285.4L213.8 285.8L214.2 286.2L214.7 286.6L215.2 287.0L215.7 287.4L216.1 287.8L216.6 288.2L217.1 288.6L217.6 289.0L218.0 289.4L218.5 289.8L219.0 290.2L219.4 290.6L219.9 291.0L220.4 291.4L220.9 291.8L221.3 292.2L221.8 292.6L222.3 293.0L222.8 293.4L223.2 293.8L223.7 294.2L224.2 294.6L224.7 295.0L225.1 295.4L225.6 295.8L226.1 296.2L226.6 296.6L227.0 297.0L227.5 297.4L228.0 297.8L228.5 298.1L228.9 298.5L229.4 298.9L229.9 299.3L230.3 299.7L230.8 300.1L231.3 300.5L231.8 300.9L232.2 301.3L232.7 301.6L233.2 302.0L233.7 302.4L234.1 302.8L234.6 303.2L235.1 303.6L235.6 303.9L236.0 304.3L236.5 304.7L237.0 305.1L237.5 305.4L237.9 305.8L238.4 306.2L238.9 306.6L239.4 306.9L239.8 307.3L240.3 307.7L240.8 308.0L241.3 308.4L241.7 308.8L242.2 309.1L242.7 309.5L243.1 309.9L243.6 310.2L244.1 310.6L244.6 311.0L245.0 311.3L245.5 311.7L246.0 312.0L246.5 312.4L246.9 312.7L247.4 313.1L247.9 313.4L248.4 313.8L248.8 314.1L249.3 314.5L249.8 314.8L250.3 315.2L250.7 315.5L251.2 315.8L251.7 316.2L252.2 316.5L252.6 316.8L253.1 317.2L253.6 317.5L254.0 317.8L254.5 318.2L255.0 318.5L255.5 318.8L255.9 319.1L256.4 319.5L256.9 319.8L257.4 320.1L257.8 320.4L258.3 320.7L258.8 321.1L259.3 321.4L259.7 321.7L260.2 322.0L260.7 322.3L261.2 322.6L261.6 322.9L262.1 323.2L262.6 323.5L263.1 323.8L263.5 324.1L264.0 324.4L264.5 324.7L265.0 325.0L265.4 325.3L265.9 325.6L266.4 325.9L266.8 326.2L267.3 326.5L267.8 326.7L268.3 327.0L268.7 327.3L269.2 327.6L269.7 327.9L270.2 328.1L270.6 328.4L271.1 328.7L271.6 328.9L272.1 329.2L272.5 329.5L273.0 329.7L273.5 330.0L274.0 330.3L274.4 330.5L274.9 330.8L275.4 331.1L275.9 331.3L276.3 331.6L276.8 331.8L277.3 332.1L277.8 332.3L278.2 332.6L278.7 332.8L279.2 333.1L279.6 333.3L280.1 333.5L280.6 333.8L281.1 334.0L281.5 334.2L282.0 334.5L282.5 334.7L283.0 334.9L283.4 335.2L283.9 335.4L284.4 335.6L284.9 335.8L285.3 336.1L285.8 336.3L286.3 336.5L286.8 336.7L287.2 336.9L287.7 337.2L288.2 337.4L288.7 337.6L289.1 337.8L289.6 338.0L290.1 338.2L290.5 338.4L291.0 338.6L291.5 338.8L292.0 339.0L292.4 339.2L292.9 339.4L293.4 339.6L293.9 339.8L294.3 340.0L294.8 340.2L295.3 340.4L295.8 340.6L296.2 340.7L296.7 340.9L297.2 341.1L297.7 341.3L298.1 341.5L298.6 341.6L299.1 341.8L299.6 342.0L300.0 342.2L300.5 342.3L301.0 342.5L301.4 342.7L301.9 342.8L302.4 343.0L302.9 343.2L303.3 343.3L303.8 343.5L304.3 343.7L304.8 343.8L305.2 344.0L305.7 344.1L306.2 344.3L306.7 344.4L307.1 344.6L307.6 344.8L308.1 344.9L308.6 345.0L309.0 345.2L309.5 345.3L310.0 345.5L310.5 345.6L310.9 345.8L311.4 345.9L311.9 346.0L312.4 346.2L312.8 346.3L313.3 346.5L313.8 346.6L314.2 346.7L314.7 346.9L315.2 347.0L315.7 347.1L316.1 347.2L316.6 347.4L317.1 347.5L317.6 347.6L318.0 347.7L318.5 347.9L319.0 348.0L319.5 348.1L319.9 348.2L320.4 348.3L320.9 348.4L321.4 348.6L321.8 348.7L322.3 348.8L322.8 348.9L323.3 349.0L323.7 349.1L324.2 349.2L324.7 349.3L325.2 349.4L325.6 349.5L326.1 349.6L326.6 349.7L327.0 349.8L327.5 349.9L328.0 350.0L328.5 350.1L328.9 350.2L329.4 350.3L329.9 350.4L330.4 350.5L330.8 350.6L331.3 350.7L331.8 350.8L332.3 350.9L332.7 351.0L333.2 351.1L333.7 351.1L334.2 351.2L334.6 351.3L335.1 351.4L335.6 351.5L336.1 351.6L336.5 351.6L337.0 351.7L337.5 351.8L337.9 351.9L338.4 352.0L338.9 352.0L339.4 352.1L339.8 352.2L340.3 352.3L340.8 352.3L341.3 352.4L341.7 352.5L342.2 352.5L342.7 352.6L343.2 352.7L343.6 352.8L344.1 352.8L344.6 352.9L345.1 353.0L345.5 353.0L346.0 353.1L346.5 353.1L347.0 353.2L347.4 353.3L347.9 353.3L348.4 353.4L348.9 353.5L349.3 353.5L349.8 353.6L350.3 353.6L350.7 353.7L351.2 353.7L351.7 353.8L352.2 353.9L352.6 353.9L353.1 354.0L353.6 354.0L354.1 354.1L354.5 354.1L355.0 354.2L355.5 354.2L356.0 354.3L356.4 354.3L356.9 354.4L357.4 354.4L357.9 354.5L358.3 354.5L358.8 354.6L359.3 354.6L359.8 354.6L360.2 354.7L360.7 354.7L361.2 354.8L361.6 354.8L362.1 354.9L362.6 354.9L363.1 354.9L363.5 355.0L364.0 355.0L364.5 355.1L365.0 355.1L365.4 355.1L365.9 355.2L366.4 355.2L366.9 355.3L367.3 355.3L367.8 355.3L368.3 355.4L368.8 355.4L369.2 355.4L369.7 355.5L370.2 355.5L370.7 355.5L371.1 355.6L371.6 355.6L372.1 355.6L372.6 355.7L373.0 355.7L373.5 355.7L374.0 355.8L374.4 355.8L374.9 355.8L375.4 355.8L375.9 355.9L376.3 355.9L376.8 355.9L377.3 356.0L377.8 356.0L378.2 356.0L378.7 356.0L379.2 356.1L379.7 356.1L380.1 356.1L380.6 356.1L381.1 356.2L381.6 356.2L382.0 356.2L382.5 356.2L383.0 356.3L383.5 356.3L383.9 356.3L384.4 356.3L384.9 356.3L385.3 356.4L385.8 356.4L386.3 356.4L386.8 356.4L387.2 356.5L387.7 356.5L388.2 356.5L388.7 356.5L389.1 356.5L389.6 356.6L390.1 356.6L390.6 356.6L391.0 356.6L391.5 356.6L392.0 356.6L392.5 356.7L392.9 356.7L393.4 356.7L393.9 356.7L394.4 356.7L394.8 356.7L395.3 356.8L395.8 356.8L396.2 356.8L396.7 356.8L397.2 356.8L397.7 356.8L398.1 356.8L398.6 356.9L399.1 356.9L399.6 356.9L400.0 356.9L400.5 356.9L401.0 356.9L401.5 356.9L401.9 357.0L402.4 357.0L402.9 357.0L403.4 357.0L403.8 357.0L404.3 357.0L404.8 357.0L405.3 357.0L405.7 357.1L406.2 357.1L406.7 357.1L407.2 357.1L407.6 357.1L408.1 357.1L408.6 357.1L409.0 357.1L409.5 357.1L410.0 357.1L410.5 357.2L410.9 357.2L411.4 357.2L411.9 357.2L412.4 357.2L412.8 357.2L413.3 357.2L413.8 357.2L414.3 357.2L414.7 357.2L415.2 357.2L415.7 357.3L416.2 357.3L416.6 357.3L417.1 357.3L417.6 357.3L418.1 357.3L418.5 357.3L419.0 357.3L419.5 357.3L419.9 357.3L420.4 357.3L420.9 357.3L421.4 357.3L421.8 357.3L422.3 357.4L422.8 357.4L423.3 357.4L423.7 357.4L424.2 357.4L424.7 357.4L425.2 357.4L425.6 357.4L426.1 357.4L426.6 357.4L427.1 357.4L427.5 357.4L428.0 357.4L428.5 357.4L429.0 357.4L429.4 357.4L429.9 357.4L430.4 357.4L430.9 357.5L431.3 357.5L431.8 357.5L432.3 357.5L432.7 357.5L433.2 357.5L433.7 357.5L434.2 357.5L434.6 357.5L435.1 357.5L435.6 357.5L436.1 357.5L436.5 357.5L437.0 357.5L437.5 357.5L438.0 357.5L438.4 357.5L438.9 357.5L439.4 357.5L439.9 357.5L440.3 357.5L440.8 357.5L441.3 357.5L441.8 357.5L442.2 357.5L442.7 357.5L443.2 357.5L443.7 357.6L444.1 357.6L444.6 357.6L445.1 357.6L445.5 357.6L446.0 357.6L446.5 357.6L447.0 357.6L447.4 357.6L447.9 357.6L448.4 357.6L448.9 357.6L449.3 357.6L449.8 357.6L450.3 357.6L450.8 357.6L451.2 357.6L451.7 357.6L452.2 357.6L452.7 357.6L453.1 357.6L453.6 357.6L454.1 357.6L454.6 357.6L455.0 357.6L455.5 357.6L456.0 357.6L456.4 357.6L456.9 357.6L457.4 357.6L457.9 357.6L458.3 357.6L458.8 357.6L459.3 357.6L459.8 357.6L460.2 357.6L460.7 357.6L461.2 357.6L461.7 357.6L462.1 357.6L462.6 357.6L463.1 357.6L463.6 357.6L464.0 357.6L464.5 357.6L465.0 357.6L465.5 357.6L465.9 357.6L466.4 357.6L466.9 357.6L467.4 357.6L467.8 357.6L468.3 357.6L468.8 357.6L469.2 357.6L469.7 357.7L470.2 357.7L470.7 357.7L471.1 357.7L471.6 357.7L472.1 357.7L472.6 357.7L473.0 357.7L473.5 357.7L474.0 357.7L474.5 357.7L474.9 357.7L475.4 357.7L475.9 357.7L476.4 357.7L476.8 357.7L477.3 357.7L477.8 357.7L478.3 357.7L478.7 357.7L479.2 357.7" fill="none" stroke="#111" stroke-width="1.05"/>
<path d="M52.6 357.7L53.1 357.5L53.5 357.4L54.0 357.2L54.5 357.0L55.0 356.8L55.4 356.7L55.9 356.5L56.4 356.3L56.9 356.1L57.3 356.0L57.8 355.8L58.3 355.6L58.8 355.4L59.2 355.3L59.7 355.1L60.2 354.9L60.7 354.7L61.1 354.6L61.6 354.4L62.1 354.2L62.6 354.0L63.0 353.9L63.5 353.7L64.0 353.5L64.5 353.3L64.9 353.1L65.4 353.0L65.9 352.8L66.3 352.6L66.8 352.4L67.3 352.3L67.8 352.1L68.2 351.9L68.7 351.7L69.2 351.5L69.7 351.3L70.1 351.2L70.6 351.0L71.1 350.8L71.6 350.6L72.0 350.4L72.5 350.2L73.0 350.1L73.5 349.9L73.9 349.7L74.4 349.5L74.9 349.3L75.4 349.1L75.8 348.9L76.3 348.7L76.8 348.6L77.2 348.4L77.7 348.2L78.2 348.0L78.7 347.8L79.1 347.6L79.6 347.4L80.1 347.2L80.6 347.0L81.0 346.8L81.5 346.6L82.0 346.4L82.5 346.2L82.9 346.0L83.4 345.8L83.9 345.6L84.4 345.4L84.8 345.2L85.3 345.0L85.8 344.8L86.3 344.6L86.7 344.4L87.2 344.2L87.7 344.0L88.2 343.8L88.6 343.6L89.1 343.4L89.6 343.2L90.0 343.0L90.5 342.7L91.0 342.5L91.5 342.3L91.9 342.1L92.4 341.9L92.9 341.7L93.4 341.4L93.8 341.2L94.3 341.0L94.8 340.8L95.3 340.6L95.7 340.3L96.2 340.1L96.7 339.9L97.2 339.7L97.6 339.4L98.1 339.2L98.6 339.0L99.1 338.8L99.5 338.5L100.0 338.3L100.5 338.1L100.9 337.8L101.4 337.6L101.9 337.4L102.4 337.1L102.8 336.9L103.3 336.6L103.8 336.4L104.3 336.2L104.7 335.9L105.2 335.7L105.7 335.4L106.2 335.2L106.6 334.9L107.1 334.7L107.6 334.4L108.1 334.2L108.5 333.9L109.0 333.7L109.5 333.4L110.0 333.2L110.4 332.9L110.9 332.7L111.4 332.4L111.8 332.2L112.3 331.9L112.8 331.6L113.3 331.4L113.7 331.1L114.2 330.8L114.7 330.6L115.2 330.3L115.6 330.0L116.1 329.8L116.6 329.5L117.1 329.2L117.5 329.0L118.0 328.7L118.5 328.4L119.0 328.1L119.4 327.9L119.9 327.6L120.4 327.3L120.9 327.0L121.3 326.7L121.8 326.5L122.3 326.2L122.8 325.9L123.2 325.6L123.7 325.3L124.2 325.0L124.6 324.7L125.1 324.4L125.6 324.2L126.1 323.9L126.5 323.6L127.0 323.3L127.5 323.0L128.0 322.7L128.4 322.4L128.9 322.1L129.4 321.8L129.9 321.5L130.3 321.2L130.8 320.9L131.3 320.6L131.8 320.3L132.2 320.0L132.7 319.7L133.2 319.4L133.7 319.0L134.1 318.7L134.6 318.4L135.1 318.1L135.6 317.8L136.0 317.5L136.5 317.2L137.0 316.9L137.4 316.5L137.9 316.2L138.4 315.9L138.9 315.6L139.3 315.3L139.8 314.9L140.3 314.6L140.8 314.3L141.2 314.0L141.7 313.6L142.2 313.3L142.7 313.0L143.1 312.7L143.6 312.3L144.1 312.0L144.6 311.7L145.0 311.3L145.5 311.0L146.0 310.7L146.5 310.3L146.9 310.0L147.4 309.7L147.9 309.3L148.3 309.0L148.8 308.7L149.3 308.3L149.8 308.0L150.2 307.6L150.7 307.3L151.2 307.0L151.7 306.6L152.1 306.3L152.6 305.9L153.1 305.6L153.6 305.3L154.0 304.9L154.5 304.6L155.0 304.2L155.5 303.9L155.9 303.5L156.4 303.2L156.9 302.8L157.4 302.5L157.8 302.1L158.3 301.8L158.8 301.5L159.2 301.1L159.7 300.8L160.2 300.4L160.7 300.1L161.1 299.7L161.6 299.4L162.1 299.0L162.6 298.6L163.0 298.3L163.5 297.9L164.0 297.6L164.5 297.2L164.9 296.9L165.4 296.5L165.9 296.2L166.4 295.8L166.8 295.5L167.3 295.1L167.8 294.8L168.3 294.4L168.7 294.1L169.2 293.7L169.7 293.4L170.2 293.0L170.6 292.7L171.1 292.3L171.6 291.9L172.0 291.6L172.5 291.2L173.0 290.9L173.5 290.5L173.9 290.2L174.4 289.8L174.9 289.5L175.4 289.1L175.8 288.8L176.3 288.4L176.8 288.1L177.3 287.7L177.7 287.4L178.2 287.0L178.7 286.7L179.2 286.3L179.6 286.0L180.1 285.6L180.6 285.3L181.1 284.9L181.5 284.6L182.0 284.2L182.5 283.9L182.9 283.5L183.4 283.2L183.9 282.9L184.4 282.5L184.8 282.2L185.3 281.8L185.8 281.5L186.3 281.1L186.7 280.8L187.2 280.5L187.7 280.1L188.2 279.8L188.6 279.4L189.1 279.1L189.6 278.8L190.1 278.4L190.5 278.1L191.0 277.8L191.5 277.4L192.0 277.1L192.4 276.8L192.9 276.4L193.4 276.1L193.9 275.8L194.3 275.5L194.8 275.1L195.3 274.8L195.7 274.5L196.2 274.2L196.7 273.8L197.2 273.5L197.6 273.2L198.1 272.9L198.6 272.6L199.1 272.3L199.5 271.9L200.0 271.6L200.5 271.3L201.0 271.0L201.4 270.7L201.9 270.4L202.4 270.1L202.9 269.8L203.3 269.5L203.8 269.2L204.3 268.9L204.8 268.6L205.2 268.3L205.7 268.0L206.2 267.7L206.6 267.4L207.1 267.1L207.6 266.8L208.1 266.6L208.5 266.3L209.0 266.0L209.5 265.7L210.0 265.4L210.4 265.1L210.9 264.9L211.4 264.6L211.9 264.3L212.3 264.0L212.8 263.8L213.3 263.5L213.8 263.2L214.2 263.0L214.7 262.7L215.2 262.5L215.7 262.2L216.1 262.0L216.6 261.7L217.1 261.4L217.6 261.2L218.0 260.9L218.5 260.7L219.0 260.5L219.4 260.2L219.9 260.0L220.4 259.7L220.9 259.5L221.3 259.3L221.8 259.0L222.3 258.8L222.8 258.6L223.2 258.4L223.7 258.1L224.2 257.9L224.7 257.7L225.1 257.5L225.6 257.3L226.1 257.1L226.6 256.9L227.0 256.7L227.5 256.5L228.0 256.3L228.5 256.1L228.9 255.9L229.4 255.7L229.9 255.5L230.3 255.3L230.8 255.1L231.3 254.9L231.8 254.7L232.2 254.6L232.7 254.4L233.2 254.2L233.7 254.1L234.1 253.9L234.6 253.7L235.1 253.6L235.6 253.4L236.0 253.2L236.5 253.1L237.0 252.9L237.5 252.8L237.9 252.6L238.4 252.5L238.9 252.4L239.4 252.2L239.8 252.1L240.3 251.9L240.8 251.8L241.3 251.7L241.7 251.6L242.2 251.4L242.7 251.3L243.1 251.2L243.6 251.1L244.1 251.0L244.6 250.9L245.0 250.8L245.5 250.7L246.0 250.6L246.5 250.5L246.9 250.4L247.4 250.3L247.9 250.2L248.4 250.1L248.8 250.0L249.3 249.9L249.8 249.9L250.3 249.8L250.7 249.7L251.2 249.7L251.7 249.6L252.2 249.5L252.6 249.5L253.1 249.4L253.6 249.4L254.0 249.3L254.5 249.3L255.0 249.2L255.5 249.2L255.9 249.1L256.4 249.1L256.9 249.1L257.4 249.0L257.8 249.0L258.3 249.0L258.8 249.0L259.3 248.9L259.7 248.9L260.2 248.9L260.7 248.9L261.2 248.9L261.6 248.9L262.1 248.9L262.6 248.9L263.1 248.9L263.5 248.9L264.0 248.9L264.5 248.9L265.0 249.0L265.4 249.0L265.9 249.0L266.4 249.0L266.8 249.1L267.3 249.1L267.8 249.1L268.3 249.2L268.7 249.2L269.2 249.2L269.7 249.3L270.2 249.3L270.6 249.4L271.1 249.4L271.6 249.5L272.1 249.6L272.5 249.6L273.0 249.7L273.5 249.8L274.0 249.8L274.4 249.9L274.9 250.0L275.4 250.1L275.9 250.2L276.3 250.2L276.8 250.3L277.3 250.4L277.8 250.5L278.2 250.6L278.7 250.7L279.2 250.8L279.6 250.9L280.1 251.0L280.6 251.1L281.1 251.3L281.5 251.4L282.0 251.5L282.5 251.6L283.0 251.7L283.4 251.9L283.9 252.0L284.4 252.1L284.9 252.3L285.3 252.4L285.8 252.5L286.3 252.7L286.8 252.8L287.2 253.0L287.7 253.1L288.2 253.3L288.7 253.4L289.1 253.6L289.6 253.8L290.1 253.9L290.5 254.1L291.0 254.3L291.5 254.4L292.0 254.6L292.4 254.8L292.9 255.0L293.4 255.1L293.9 255.3L294.3 255.5L294.8 255.7L295.3 255.9L295.8 256.1L296.2 256.3L296.7 256.5L297.2 256.7L297.7 256.9L298.1 257.1L298.6 257.3L299.1 257.5L299.6 257.7L300.0 257.9L300.5 258.1L301.0 258.4L301.4 258.6L301.9 258.8L302.4 259.0L302.9 259.3L303.3 259.5L303.8 259.7L304.3 260.0L304.8 260.2L305.2 260.4L305.7 260.7L306.2 260.9L306.7 261.1L307.1 261.4L307.6 261.6L308.1 261.9L308.6 262.1L309.0 262.4L309.5 262.6L310.0 262.9L310.5 263.2L310.9 263.4L311.4 263.7L311.9 263.9L312.4 264.2L312.8 264.5L313.3 264.7L313.8 265.0L314.2 265.3L314.7 265.6L315.2 265.8L315.7 266.1L316.1 266.4L316.6 266.7L317.1 266.9L317.6 267.2L318.0 267.5L318.5 267.8L319.0 268.1L319.5 268.4L319.9 268.7L320.4 268.9L320.9 269.2L321.4 269.5L321.8 269.8L322.3 270.1L322.8 270.4L323.3 270.7L323.7 271.0L324.2 271.3L324.7 271.6L325.2 271.9L325.6 272.2L326.1 272.5L326.6 272.9L327.0 273.2L327.5 273.5L328.0 273.8L328.5 274.1L328.9 274.4L329.4 274.7L329.9 275.0L330.4 275.4L330.8 275.7L331.3 276.0L331.8 276.3L332.3 276.6L332.7 276.9L333.2 277.3L333.7 277.6L334.2 277.9L334.6 278.2L335.1 278.6L335.6 278.9L336.1 279.2L336.5 279.5L337.0 279.9L337.5 280.2L337.9 280.5L338.4 280.9L338.9 281.2L339.4 281.5L339.8 281.8L340.3 282.2L340.8 282.5L341.3 282.8L341.7 283.2L342.2 283.5L342.7 283.8L343.2 284.2L343.6 284.5L344.1 284.8L344.6 285.2L345.1 285.5L345.5 285.9L346.0 286.2L346.5 286.5L347.0 286.9L347.4 287.2L347.9 287.5L348.4 287.9L348.9 288.2L349.3 288.6L349.8 288.9L350.3 289.2L350.7 289.6L351.2 289.9L351.7 290.2L352.2 290.6L352.6 290.9L353.1 291.3L353.6 291.6L354.1 291.9L354.5 292.3L355.0 292.6L355.5 293.0L356.0 293.3L356.4 293.6L356.9 294.0L357.4 294.3L357.9 294.6L358.3 295.0L358.8 295.3L359.3 295.7L359.8 296.0L360.2 296.3L360.7 296.7L361.2 297.0L361.6 297.3L362.1 297.7L362.6 298.0L363.1 298.3L363.5 298.7L364.0 299.0L364.5 299.4L365.0 299.7L365.4 300.0L365.9 300.4L366.4 300.7L366.9 301.0L367.3 301.3L367.8 301.7L368.3 302.0L368.8 302.3L369.2 302.7L369.7 303.0L370.2 303.3L370.7 303.7L371.1 304.0L371.6 304.3L372.1 304.6L372.6 305.0L373.0 305.3L373.5 305.6L374.0 305.9L374.4 306.3L374.9 306.6L375.4 306.9L375.9 307.2L376.3 307.5L376.8 307.9L377.3 308.2L377.8 308.5L378.2 308.8L378.7 309.1L379.2 309.4L379.7 309.8L380.1 310.1L380.6 310.4L381.1 310.7L381.6 311.0L382.0 311.3L382.5 311.6L383.0 311.9L383.5 312.3L383.9 312.6L384.4 312.9L384.9 313.2L385.3 313.5L385.8 313.8L386.3 314.1L386.8 314.4L387.2 314.7L387.7 315.0L388.2 315.3L388.7 315.6L389.1 315.9L389.6 316.2L390.1 316.5L390.6 316.8L391.0 317.0L391.5 317.3L392.0 317.6L392.5 317.9L392.9 318.2L393.4 318.5L393.9 318.8L394.4 319.1L394.8 319.3L395.3 319.6L395.8 319.9L396.2 320.2L396.7 320.5L397.2 320.8L397.7 321.0L398.1 321.3L398.6 321.6L399.1 321.9L399.6 322.1L400.0 322.4L400.5 322.7L401.0 322.9L401.5 323.2L401.9 323.5L402.4 323.7L402.9 324.0L403.4 324.3L403.8 324.5L404.3 324.8L404.8 325.0L405.3 325.3L405.7 325.6L406.2 325.8L406.7 326.1L407.2 326.3L407.6 326.6L408.1 326.8L408.6 327.1L409.0 327.3L409.5 327.6L410.0 327.8L410.5 328.1L410.9 328.3L411.4 328.5L411.9 328.8L412.4 329.0L412.8 329.3L413.3 329.5L413.8 329.7L414.3 330.0L414.7 330.2L415.2 330.4L415.7 330.7L416.2 330.9L416.6 331.1L417.1 331.4L417.6 331.6L418.1 331.8L418.5 332.0L419.0 332.3L419.5 332.5L419.9 332.7L420.4 332.9L420.9 333.1L421.4 333.3L421.8 333.6L422.3 333.8L422.8 334.0L423.3 334.2L423.7 334.4L424.2 334.6L424.7 334.8L425.2 335.0L425.6 335.2L426.1 335.4L426.6 335.6L427.1 335.8L427.5 336.0L428.0 336.2L428.5 336.4L429.0 336.6L429.4 336.8L429.9 337.0L430.4 337.2L430.9 337.4L431.3 337.6L431.8 337.8L432.3 338.0L432.7 338.1L433.2 338.3L433.7 338.5L434.2 338.7L434.6 338.9L435.1 339.1L435.6 339.2L436.1 339.4L436.5 339.6L437.0 339.8L437.5 339.9L438.0 340.1L438.4 340.3L438.9 340.4L439.4 340.6L439.9 340.8L440.3 340.9L440.8 341.1L441.3 341.3L441.8 341.4L442.2 341.6L442.7 341.8L443.2 341.9L443.7 342.1L444.1 342.2L444.6 342.4L445.1 342.5L445.5 342.7L446.0 342.8L446.5 343.0L447.0 343.1L447.4 343.3L447.9 343.4L448.4 343.6L448.9 343.7L449.3 343.9L449.8 344.0L450.3 344.2L450.8 344.3L451.2 344.4L451.7 344.6L452.2 344.7L452.7 344.8L453.1 345.0L453.6 345.1L454.1 345.2L454.6 345.4L455.0 345.5L455.5 345.6L456.0 345.8L456.4 345.9L456.9 346.0L457.4 346.1L457.9 346.3L458.3 346.4L458.8 346.5L459.3 346.6L459.8 346.8L460.2 346.9L460.7 347.0L461.2 347.1L461.7 347.2L462.1 347.3L462.6 347.5L463.1 347.6L463.6 347.7L464.0 347.8L464.5 347.9L465.0 348.0L465.5 348.1L465.9 348.2L466.4 348.3L466.9 348.4L467.4 348.5L467.8 348.6L468.3 348.7L468.8 348.8L469.2 348.9L469.7 349.0L470.2 349.1L470.7 349.2L471.1 349.3L471.6 349.4L472.1 349.5L472.6 349.6L473.0 349.7L473.5 349.8L474.0 349.9L474.5 350.0L474.9 350.1L475.4 350.2L475.9 350.3L476.4 350.3L476.8 350.4L477.3 350.5L477.8 350.6L478.3 350.7L478.7 350.8L479.2 350.9L479.7 350.9L480.1 351.0L480.6 351.1L481.1 351.2L481.6 351.3L482.0 351.3L482.5 351.4L483.0 351.5L483.5 351.6L483.9 351.6L484.4 351.7L484.9 351.8L485.4 351.9L485.8 351.9L486.3 352.0L486.8 352.1L487.3 352.1L487.7 352.2L488.2 352.3L488.7 352.3L489.2 352.4L489.6 352.5L490.1 352.5L490.6 352.6L491.1 352.7L491.5 352.7L492.0 352.8L492.5 352.8L492.9 352.9L493.4 353.0L493.9 353.0L494.4 353.1L494.8 353.1L495.3 353.2L495.8 353.3L496.3 353.3L496.7 353.4L497.2 353.4L497.7 353.5L498.2 353.5L498.6 353.6L499.1 353.6L499.6 353.7L500.1 353.8L500.5 353.8L501.0 353.9L501.5 353.9L502.0 354.0L502.4 354.0L502.9 354.1L503.4 354.1L503.8 354.1L504.3 354.2L504.8 354.2L505.3 354.3L505.7 354.3L506.2 354.4L506.7 354.4L507.2 354.5L507.6 354.5L508.1 354.6L508.6 354.6L509.1 354.6L509.5 354.7L510.0 354.7L510.5 354.8L511.0 354.8L511.4 354.8L511.9 354.9L512.4 354.9L512.9 355.0L513.3 355.0L513.8 355.0L514.3 355.1L514.8 355.1L515.2 355.1L515.7 355.2L516.2 355.2L516.6 355.2L517.1 355.3L517.6 355.3L518.1 355.3L518.5 355.4L519.0 355.4L519.5 355.4L520.0 355.5L520.4 355.5L520.9 355.5L521.4 355.6L521.9 355.6L522.3 355.6L522.8 355.7L523.3 355.7L523.8 355.7L524.2 355.7L524.7 355.8L525.2 355.8L525.7 355.8L526.1 355.9L526.6 355.9L527.1 355.9L527.5 355.9L528.0 356.0L528.5 356.0L529.0 356.0L529.4 356.0L529.9 356.1L530.4 356.1L530.9 356.1L531.3 356.1L531.8 356.1L532.3 356.2L532.8 356.2L533.2 356.2L533.7 356.2L534.2 356.3L534.7 356.3L535.1 356.3L535.6 356.3L536.1 356.3L536.6 356.4L537.0 356.4L537.5 356.4L538.0 356.4L538.4 356.4L538.9 356.5L539.4 356.5L539.9 356.5L540.3 356.5L540.8 356.5L541.3 356.6L541.8 356.6L542.2 356.6L542.7 356.6L543.2 356.6L543.7 356.6L544.1 356.7L544.6 356.7L545.1 356.7L545.6 356.7L546.0 356.7L546.5 356.7L547.0 356.7L547.5 356.8L547.9 356.8L548.4 356.8L548.9 356.8L549.4 356.8L549.8 356.8L550.3 356.8L550.8 356.9L551.2 356.9L551.7 356.9L552.2 356.9L552.7 356.9L553.1 356.9L553.6 356.9L554.1 356.9L554.6 357.0L555.0 357.0L555.5 357.0L556.0 357.0L556.5 357.0L556.9 357.0L557.4 357.0L557.9 357.0L558.4 357.0L558.8 357.1L559.3 357.1L559.8 357.1L560.3 357.1L560.7 357.1L561.2 357.1L561.7 357.1L562.1 357.1L562.6 357.1L563.1 357.1L563.6 357.2L564.0 357.2L564.5 357.2L565.0 357.2L565.5 357.2L565.9 357.2L566.4 357.2L566.9 357.2L567.4 357.2L567.8 357.2L568.3 357.2L568.8 357.2L569.3 357.3L569.7 357.3L570.2 357.3L570.7 357.3L571.2 357.3L571.6 357.3L572.1 357.3L572.6 357.3L573.1 357.3L573.5 357.3L574.0 357.3L574.5 357.3L574.9 357.3L575.4 357.3L575.9 357.3L576.4 357.4L576.8 357.4L577.3 357.4L577.8 357.4L578.3 357.4L578.7 357.4L579.2 357.4L579.7 357.4L580.2 357.4L580.6 357.4L581.1 357.4L581.6 357.4L582.1 357.4L582.5 357.4L583.0 357.4L583.5 357.4L584.0 357.4L584.4 357.4L584.9 357.4L585.4 357.5L585.9 357.5L586.3 357.5L586.8 357.5L587.3 357.5L587.7 357.5L588.2 357.5L588.7 357.5L589.2 357.5L589.6 357.5L590.1 357.5L590.6 357.5L591.1 357.5L591.5 357.5L592.0 357.5L592.5 357.5L593.0 357.5L593.4 357.5L593.9 357.5L594.4 357.5L594.9 357.5L595.3 357.5L595.8 357.5L596.3 357.5L596.8 357.5L597.2 357.5L597.7 357.5L598.2 357.5L598.6 357.6L599.1 357.6L599.6 357.6L600.1 357.6L600.5 357.6L601.0 357.6L601.5 357.6L602.0 357.6L602.4 357.6L602.9 357.6L603.4 357.6L603.9 357.6L604.3 357.6L604.8 357.6L605.3 357.6L605.8 357.6L606.2 357.6L606.7 357.6L607.2 357.6L607.7 357.6L608.1 357.6L608.6 357.6L609.1 357.6L609.5 357.6L610.0 357.6L610.5 357.6L611.0 357.6L611.4 357.6L611.9 357.6L612.4 357.6L612.9 357.6L613.3 357.6L613.8 357.6L614.3 357.6L614.8 357.6L615.2 357.6L615.7 357.6L616.2 357.6L616.7 357.6L617.1 357.6L617.6 357.6L618.1 357.6L618.6 357.6L619.0 357.6L619.5 357.6L620.0 357.6L620.5 357.6L620.9 357.6L621.4 357.6L621.9 357.6L622.3 357.6L622.8 357.6L623.3 357.6L623.8 357.6L624.2 357.6L624.7 357.6L625.2 357.6L625.7 357.6L626.1 357.7L626.6 357.7L627.1 357.7L627.6 357.7L628.0 357.7L628.5 357.7L629.0 357.7L629.5 357.7L629.9 357.7L630.4 357.7L630.9 357.7L631.4 357.7L631.8 357.7L632.3 357.7L632.8 357.7L633.2 357.7L633.7 357.7L634.2 357.7L634.7 357.7L635.1 357.7L635.6 357.7L636.1 357.7L636.6 357.7L637.0 357.7L637.5 357.7L638.0 357.7L638.5 357.7L638.9 357.7L639.4 357.7L639.9 357.7L640.4 357.7L640.8 357.7L641.3 357.7L641.8 357.7L642.3 357.7L642.7 357.7L643.2 357.7L643.7 357.7L644.2 357.7L644.6 357.7L645.1 357.7L645.6 357.7L646.0 357.7L646.5 357.7L647.0 357.7L647.5 357.7L647.9 357.7L648.4 357.7L648.9 357.7L649.4 357.7L649.8 357.7L650.3 357.7L650.8 357.7L651.3 357.7L651.7 357.7L652.2 357.7L652.7 357.7L653.2 357.7L653.6 357.7L654.1 357.7L654.6 357.7L655.1 357.7L655.5 357.7L656.0 357.7L656.5 357.7L657.0 357.7L657.4 357.7L657.9 357.7L658.4 357.7L658.8 357.7L659.3 357.7L659.8 357.7L660.3 357.7L660.7 357.7L661.2 357.7L661.7 357.7L662.2 357.7L662.6 357.7L663.1 357.7L663.6 357.7L664.1 357.7L664.5 357.7L665.0 357.7L665.5 357.7L666.0 357.7L666.4 357.7L666.9 357.7L667.4 357.7L667.9 357.7L668.3 357.7L668.8 357.7" fill="none" stroke="#111" stroke-width="1.05" stroke-dasharray="5 3.4"/>
<path d="M173.5 357.6L173.9 357.6L174.4 357.6L174.9 357.6L175.4 357.6L175.8 357.6L176.3 357.6L176.8 357.6L177.3 357.6L177.7 357.6L178.2 357.6L178.7 357.6L179.2 357.6L179.6 357.6L180.1 357.6L180.6 357.6L181.1 357.6L181.5 357.6L182.0 357.6L182.5 357.6L182.9 357.6L183.4 357.6L183.9 357.6L184.4 357.6L184.8 357.6L185.3 357.6L185.8 357.6L186.3 357.6L186.7 357.6L187.2 357.6L187.7 357.6L188.2 357.6L188.6 357.6L189.1 357.6L189.6 357.6L190.1 357.6L190.5 357.6L191.0 357.6L191.5 357.6L192.0 357.6L192.4 357.6L192.9 357.6L193.4 357.6L193.9 357.6L194.3 357.6L194.8 357.6L195.3 357.6L195.7 357.6L196.2 357.6L196.7 357.6L197.2 357.6L197.6 357.6L198.1 357.5L198.6 357.5L199.1 357.5L199.5 357.5L200.0 357.5L200.5 357.5L201.0 357.5L201.4 357.5L201.9 357.5L202.4 357.5L202.9 357.5L203.3 357.5L203.8 357.5L204.3 357.5L204.8 357.5L205.2 357.5L205.7 357.5L206.2 357.5L206.6 357.5L207.1 357.5L207.6 357.5L208.1 357.5L208.5 357.5L209.0 357.5L209.5 357.5L210.0 357.5L210.4 357.5L210.9 357.5L211.4 357.4L211.9 357.4L212.3 357.4L212.8 357.4L213.3 357.4L213.8 357.4L214.2 357.4L214.7 357.4L215.2 357.4L215.7 357.4L216.1 357.4L216.6 357.4L217.1 357.4L217.6 357.4L218.0 357.4L218.5 357.4L219.0 357.4L219.4 357.4L219.9 357.4L220.4 357.3L220.9 357.3L221.3 357.3L221.8 357.3L222.3 357.3L222.8 357.3L223.2 357.3L223.7 357.3L224.2 357.3L224.7 357.3L225.1 357.3L225.6 357.3L226.1 357.3L226.6 357.3L227.0 357.3L227.5 357.2L228.0 357.2L228.5 357.2L228.9 357.2L229.4 357.2L229.9 357.2L230.3 357.2L230.8 357.2L231.3 357.2L231.8 357.2L232.2 357.2L232.7 357.1L233.2 357.1L233.7 357.1L234.1 357.1L234.6 357.1L235.1 357.1L235.6 357.1L236.0 357.1L236.5 357.1L237.0 357.1L237.5 357.0L237.9 357.0L238.4 357.0L238.9 357.0L239.4 357.0L239.8 357.0L240.3 357.0L240.8 357.0L241.3 357.0L241.7 356.9L242.2 356.9L242.7 356.9L243.1 356.9L243.6 356.9L244.1 356.9L244.6 356.9L245.0 356.9L245.5 356.8L246.0 356.8L246.5 356.8L246.9 356.8L247.4 356.8L247.9 356.8L248.4 356.8L248.8 356.7L249.3 356.7L249.8 356.7L250.3 356.7L250.7 356.7L251.2 356.7L251.7 356.6L252.2 356.6L252.6 356.6L253.1 356.6L253.6 356.6L254.0 356.6L254.5 356.5L255.0 356.5L255.5 356.5L255.9 356.5L256.4 356.5L256.9 356.4L257.4 356.4L257.8 356.4L258.3 356.4L258.8 356.4L259.3 356.3L259.7 356.3L260.2 356.3L260.7 356.3L261.2 356.3L261.6 356.2L262.1 356.2L262.6 356.2L263.1 356.2L263.5 356.2L264.0 356.1L264.5 356.1L265.0 356.1L265.4 356.1L265.9 356.0L266.4 356.0L266.8 356.0L267.3 356.0L267.8 355.9L268.3 355.9L268.7 355.9L269.2 355.9L269.7 355.8L270.2 355.8L270.6 355.8L271.1 355.7L271.6 355.7L272.1 355.7L272.5 355.7L273.0 355.6L273.5 355.6L274.0 355.6L274.4 355.5L274.9 355.5L275.4 355.5L275.9 355.4L276.3 355.4L276.8 355.4L277.3 355.3L277.8 355.3L278.2 355.3L278.7 355.2L279.2 355.2L279.6 355.2L280.1 355.1L280.6 355.1L281.1 355.1L281.5 355.0L282.0 355.0L282.5 354.9L283.0 354.9L283.4 354.9L283.9 354.8L284.4 354.8L284.9 354.7L285.3 354.7L285.8 354.7L286.3 354.6L286.8 354.6L287.2 354.5L287.7 354.5L288.2 354.5L288.7 354.4L289.1 354.4L289.6 354.3L290.1 354.3L290.5 354.2L291.0 354.2L291.5 354.1L292.0 354.1L292.4 354.0L292.9 354.0L293.4 353.9L293.9 353.9L294.3 353.8L294.8 353.8L295.3 353.7L295.8 353.7L296.2 353.6L296.7 353.6L297.2 353.5L297.7 353.5L298.1 353.4L298.6 353.4L299.1 353.3L299.6 353.2L300.0 353.2L300.5 353.1L301.0 353.1L301.4 353.0L301.9 352.9L302.4 352.9L302.9 352.8L303.3 352.8L303.8 352.7L304.3 352.6L304.8 352.6L305.2 352.5L305.7 352.4L306.2 352.4L306.7 352.3L307.1 352.2L307.6 352.2L308.1 352.1L308.6 352.0L309.0 352.0L309.5 351.9L310.0 351.8L310.5 351.7L310.9 351.7L311.4 351.6L311.9 351.5L312.4 351.4L312.8 351.4L313.3 351.3L313.8 351.2L314.2 351.1L314.7 351.0L315.2 351.0L315.7 350.9L316.1 350.8L316.6 350.7L317.1 350.6L317.6 350.6L318.0 350.5L318.5 350.4L319.0 350.3L319.5 350.2L319.9 350.1L320.4 350.0L320.9 349.9L321.4 349.8L321.8 349.8L322.3 349.7L322.8 349.6L323.3 349.5L323.7 349.4L324.2 349.3L324.7 349.2L325.2 349.1L325.6 349.0L326.1 348.9L326.6 348.8L327.0 348.7L327.5 348.6L328.0 348.5L328.5 348.4L328.9 348.3L329.4 348.2L329.9 348.0L330.4 347.9L330.8 347.8L331.3 347.7L331.8 347.6L332.3 347.5L332.7 347.4L333.2 347.3L333.7 347.1L334.2 347.0L334.6 346.9L335.1 346.8L335.6 346.7L336.1 346.6L336.5 346.4L337.0 346.3L337.5 346.2L337.9 346.1L338.4 345.9L338.9 345.8L339.4 345.7L339.8 345.6L340.3 345.4L340.8 345.3L341.3 345.2L341.7 345.0L342.2 344.9L342.7 344.8L343.2 344.6L343.6 344.5L344.1 344.3L344.6 344.2L345.1 344.1L345.5 343.9L346.0 343.8L346.5 343.6L347.0 343.5L347.4 343.3L347.9 343.2L348.4 343.0L348.9 342.9L349.3 342.7L349.8 342.6L350.3 342.4L350.7 342.3L351.2 342.1L351.7 342.0L352.2 341.8L352.6 341.7L353.1 341.5L353.6 341.3L354.1 341.2L354.5 341.0L355.0 340.8L355.5 340.7L356.0 340.5L356.4 340.3L356.9 340.2L357.4 340.0L357.9 339.8L358.3 339.7L358.8 339.5L359.3 339.3L359.8 339.1L360.2 338.9L360.7 338.8L361.2 338.6L361.6 338.4L362.1 338.2L362.6 338.0L363.1 337.9L363.5 337.7L364.0 337.5L364.5 337.3L365.0 337.1L365.4 336.9L365.9 336.7L366.4 336.5L366.9 336.3L367.3 336.1L367.8 335.9L368.3 335.7L368.8 335.5L369.2 335.3L369.7 335.1L370.2 334.9L370.7 334.7L371.1 334.5L371.6 334.3L372.1 334.1L372.6 333.9L373.0 333.7L373.5 333.5L374.0 333.2L374.4 333.0L374.9 332.8L375.4 332.6L375.9 332.4L376.3 332.2L376.8 331.9L377.3 331.7L377.8 331.5L378.2 331.3L378.7 331.0L379.2 330.8L379.7 330.6L380.1 330.3L380.6 330.1L381.1 329.9L381.6 329.7L382.0 329.4L382.5 329.2L383.0 328.9L383.5 328.7L383.9 328.5L384.4 328.2L384.9 328.0L385.3 327.7L385.8 327.5L386.3 327.2L386.8 327.0L387.2 326.7L387.7 326.5L388.2 326.2L388.7 326.0L389.1 325.7L389.6 325.5L390.1 325.2L390.6 325.0L391.0 324.7L391.5 324.5L392.0 324.2L392.5 323.9L392.9 323.7L393.4 323.4L393.9 323.1L394.4 322.9L394.8 322.6L395.3 322.3L395.8 322.1L396.2 321.8L396.7 321.5L397.2 321.3L397.7 321.0L398.1 320.7L398.6 320.4L399.1 320.2L399.6 319.9L400.0 319.6L400.5 319.3L401.0 319.0L401.5 318.8L401.9 318.5L402.4 318.2L402.9 317.9L403.4 317.6L403.8 317.3L404.3 317.0L404.8 316.7L405.3 316.5L405.7 316.2L406.2 315.9L406.7 315.6L407.2 315.3L407.6 315.0L408.1 314.7L408.6 314.4L409.0 314.1L409.5 313.8L410.0 313.5L410.5 313.2L410.9 312.9L411.4 312.6L411.9 312.3L412.4 312.0L412.8 311.7L413.3 311.4L413.8 311.1L414.3 310.8L414.7 310.4L415.2 310.1L415.7 309.8L416.2 309.5L416.6 309.2L417.1 308.9L417.6 308.6L418.1 308.3L418.5 307.9L419.0 307.6L419.5 307.3L419.9 307.0L420.4 306.7L420.9 306.4L421.4 306.0L421.8 305.7L422.3 305.4L422.8 305.1L423.3 304.8L423.7 304.4L424.2 304.1L424.7 303.8L425.2 303.5L425.6 303.1L426.1 302.8L426.6 302.5L427.1 302.2L427.5 301.8L428.0 301.5L428.5 301.2L429.0 300.9L429.4 300.5L429.9 300.2L430.4 299.9L430.9 299.5L431.3 299.2L431.8 298.9L432.3 298.6L432.7 298.2L433.2 297.9L433.7 297.6L434.2 297.2L434.6 296.9L435.1 296.6L435.6 296.2L436.1 295.9L436.5 295.6L437.0 295.2L437.5 294.9L438.0 294.6L438.4 294.2L438.9 293.9L439.4 293.6L439.9 293.2L440.3 292.9L440.8 292.6L441.3 292.2L441.8 291.9L442.2 291.6L442.7 291.2L443.2 290.9L443.7 290.6L444.1 290.2L444.6 289.9L445.1 289.6L445.5 289.2L446.0 288.9L446.5 288.6L447.0 288.2L447.4 287.9L447.9 287.6L448.4 287.2L448.9 286.9L449.3 286.6L449.8 286.2L450.3 285.9L450.8 285.6L451.2 285.2L451.7 284.9L452.2 284.6L452.7 284.2L453.1 283.9L453.6 283.6L454.1 283.3L454.6 282.9L455.0 282.6L455.5 282.3L456.0 281.9L456.4 281.6L456.9 281.3L457.4 281.0L457.9 280.6L458.3 280.3L458.8 280.0L459.3 279.7L459.8 279.4L460.2 279.0L460.7 278.7L461.2 278.4L461.7 278.1L462.1 277.8L462.6 277.4L463.1 277.1L463.6 276.8L464.0 276.5L464.5 276.2L465.0 275.9L465.5 275.6L465.9 275.2L466.4 274.9L466.9 274.6L467.4 274.3L467.8 274.0L468.3 273.7L468.8 273.4L469.2 273.1L469.7 272.8L470.2 272.5L470.7 272.2L471.1 271.9L471.6 271.6L472.1 271.3L472.6 271.0L473.0 270.7L473.5 270.4L474.0 270.1L474.5 269.8L474.9 269.5L475.4 269.3L475.9 269.0L476.4 268.7L476.8 268.4L477.3 268.1L477.8 267.8L478.3 267.6L478.7 267.3L479.2 267.0L479.7 266.7L480.1 266.4L480.6 266.2L481.1 265.9L481.6 265.6L482.0 265.4L482.5 265.1L483.0 264.8L483.5 264.6L483.9 264.3L484.4 264.0L484.9 263.8L485.4 263.5L485.8 263.3L486.3 263.0L486.8 262.8L487.3 262.5L487.7 262.3L488.2 262.0L488.7 261.8L489.2 261.5L489.6 261.3L490.1 261.1L490.6 260.8L491.1 260.6L491.5 260.4L492.0 260.1L492.5 259.9L492.9 259.7L493.4 259.4L493.9 259.2L494.4 259.0L494.8 258.8L495.3 258.6L495.8 258.3L496.3 258.1L496.7 257.9L497.2 257.7L497.7 257.5L498.2 257.3L498.6 257.1L499.1 256.9L499.6 256.7L500.1 256.5L500.5 256.3L501.0 256.1L501.5 255.9L502.0 255.7L502.4 255.6L502.9 255.4L503.4 255.2L503.8 255.0L504.3 254.8L504.8 254.7L505.3 254.5L505.7 254.3L506.2 254.2L506.7 254.0L507.2 253.8L507.6 253.7L508.1 253.5L508.6 253.4L509.1 253.2L509.5 253.1L510.0 252.9L510.5 252.8L511.0 252.6L511.4 252.5L511.9 252.4L512.4 252.2L512.9 252.1L513.3 252.0L513.8 251.8L514.3 251.7L514.8 251.6L515.2 251.5L515.7 251.4L516.2 251.3L516.6 251.1L517.1 251.0L517.6 250.9L518.1 250.8L518.5 250.7L519.0 250.6L519.5 250.5L520.0 250.4L520.4 250.3L520.9 250.3L521.4 250.2L521.9 250.1L522.3 250.0L522.8 249.9L523.3 249.9L523.8 249.8L524.2 249.7L524.7 249.7L525.2 249.6L525.7 249.5L526.1 249.5L526.6 249.4L527.1 249.4L527.5 249.3L528.0 249.3L528.5 249.2L529.0 249.2L529.4 249.1L529.9 249.1L530.4 249.1L530.9 249.1L531.3 249.0L531.8 249.0L532.3 249.0L532.8 249.0L533.2 248.9L533.7 248.9L534.2 248.9L534.7 248.9L535.1 248.9L535.6 248.9L536.1 248.9L536.6 248.9L537.0 248.9L537.5 248.9L538.0 248.9L538.4 248.9L538.9 249.0L539.4 249.0L539.9 249.0L540.3 249.0L540.8 249.1L541.3 249.1L541.8 249.1L542.2 249.2L542.7 249.2L543.2 249.2L543.7 249.3L544.1 249.3L544.6 249.4L545.1 249.4L545.6 249.5L546.0 249.5L546.5 249.6L547.0 249.7L547.5 249.7L547.9 249.8L548.4 249.9L548.9 249.9L549.4 250.0L549.8 250.1L550.3 250.2L550.8 250.3L551.2 250.4L551.7 250.5L552.2 250.5L552.7 250.6L553.1 250.7L553.6 250.8L554.1 250.9L554.6 251.0L555.0 251.2L555.5 251.3L556.0 251.4L556.5 251.5L556.9 251.6L557.4 251.7L557.9 251.9L558.4 252.0L558.8 252.1L559.3 252.3L559.8 252.4L560.3 252.5L560.7 252.7L561.2 252.8L561.7 252.9L562.1 253.1L562.6 253.2L563.1 253.4L563.6 253.5L564.0 253.7L564.5 253.9L565.0 254.0L565.5 254.2L565.9 254.4L566.4 254.5L566.9 254.7L567.4 254.9L567.8 255.0L568.3 255.2L568.8 255.4L569.3 255.6L569.7 255.8L570.2 256.0L570.7 256.1L571.2 256.3L571.6 256.5L572.1 256.7L572.6 256.9L573.1 257.1L573.5 257.3L574.0 257.5L574.5 257.7L574.9 257.9L575.4 258.2L575.9 258.4L576.4 258.6L576.8 258.8L577.3 259.0L577.8 259.2L578.3 259.5L578.7 259.7L579.2 259.9L579.7 260.1L580.2 260.4L580.6 260.6L581.1 260.8L581.6 261.1L582.1 261.3L582.5 261.6L583.0 261.8L583.5 262.0L584.0 262.3L584.4 262.5L584.9 262.8L585.4 263.0L585.9 263.3L586.3 263.5L586.8 263.8L587.3 264.1L587.7 264.3L588.2 264.6L588.7 264.8L589.2 265.1L589.6 265.4L590.1 265.6L590.6 265.9L591.1 266.2L591.5 266.4L592.0 266.7L592.5 267.0L593.0 267.3L593.4 267.5L593.9 267.8L594.4 268.1L594.9 268.4L595.3 268.7L595.8 269.0L596.3 269.2L596.8 269.5L597.2 269.8L597.7 270.1L598.2 270.4L598.6 270.7L599.1 271.0L599.6 271.3L600.1 271.6L600.5 271.9L601.0 272.2L601.5 272.5L602.0 272.8L602.4 273.1L602.9 273.4L603.4 273.7L603.9 274.0L604.3 274.3L604.8 274.6L605.3 274.9L605.8 275.2L606.2 275.5L606.7 275.8L607.2 276.2L607.7 276.5L608.1 276.8L608.6 277.1L609.1 277.4L609.5 277.7L610.0 278.0L610.5 278.4L611.0 278.7L611.4 279.0L611.9 279.3L612.4 279.6L612.9 280.0L613.3 280.3L613.8 280.6L614.3 280.9L614.8 281.2L615.2 281.6L615.7 281.9L616.2 282.2L616.7 282.5L617.1 282.9L617.6 283.2L618.1 283.5L618.6 283.8L619.0 284.2L619.5 284.5L620.0 284.8L620.5 285.2L620.9 285.5L621.4 285.8L621.9 286.1L622.3 286.5L622.8 286.8L623.3 287.1L623.8 287.5L624.2 287.8L624.7 288.1L625.2 288.5L625.7 288.8L626.1 289.1L626.6 289.5L627.1 289.8L627.6 290.1L628.0 290.5L628.5 290.8L629.0 291.1L629.5 291.5L629.9 291.8L630.4 292.1L630.9 292.5L631.4 292.8L631.8 293.1L632.3 293.4L632.8 293.8L633.2 294.1L633.7 294.4L634.2 294.8L634.7 295.1L635.1 295.4L635.6 295.8L636.1 296.1L636.6 296.4L637.0 296.8L637.5 297.1L638.0 297.4L638.5 297.8L638.9 298.1L639.4 298.4L639.9 298.7L640.4 299.1L640.8 299.4L641.3 299.7L641.8 300.1L642.3 300.4L642.7 300.7L643.2 301.0L643.7 301.4L644.2 301.7L644.6 302.0L645.1 302.3L645.6 302.7L646.0 303.0L646.5 303.3L647.0 303.6L647.5 303.9L647.9 304.3L648.4 304.6L648.9 304.9L649.4 305.2L649.8 305.5L650.3 305.9L650.8 306.2L651.3 306.5L651.7 306.8L652.2 307.1L652.7 307.4L653.2 307.8L653.6 308.1L654.1 308.4L654.6 308.7L655.1 309.0L655.5 309.3L656.0 309.6L656.5 309.9L657.0 310.2L657.4 310.6L657.9 310.9L658.4 311.2L658.8 311.5L659.3 311.8L659.8 312.1L660.3 312.4L660.7 312.7L661.2 313.0L661.7 313.3L662.2 313.6L662.6 313.9L663.1 314.2L663.6 314.5L664.1 314.8L664.5 315.1L665.0 315.4L665.5 315.6L666.0 315.9L666.4 316.2L666.9 316.5L667.4 316.8L667.9 317.1L668.3 317.4L668.8 317.7" fill="none" stroke="#111" stroke-width="1.05" stroke-dasharray="1.3 2.8"/>
<path d="M52.6 357.7L52.7 355.2L52.8 352.7L52.9 350.2L53.0 347.7L53.1 345.2L53.2 342.7L53.3 340.2L53.4 337.8L53.5 335.3L53.5 332.9L53.6 330.4L53.7 328.0L53.8 325.6L53.9 323.2L54.0 320.9L54.1 318.5L54.2 316.2L54.3 313.9L54.4 311.7L54.5 309.4L54.6 307.2L54.7 305.1L54.8 302.9L54.9 300.8L55.0 298.7L55.1 296.6L55.2 294.6L55.3 292.6L55.3 290.7L55.4 288.8L55.5 286.9L55.6 285.1L55.7 283.3L55.8 281.5L55.9 279.8L56.0 278.1L56.1 276.5L56.2 274.9L56.3 273.4L56.4 271.9L56.5 270.4L56.6 269.0L56.7 267.7L56.8 266.3L56.9 265.1L57.0 263.9L57.1 262.7L57.2 261.6L57.2 260.5L57.3 259.5L57.4 258.5L57.5 257.6L57.6 256.7L57.7 255.8L57.8 255.0L57.9 254.3L58.0 253.6L58.1 253.0L58.2 252.4L58.3 251.8L58.4 251.3L58.5 250.9L58.6 250.5L58.7 250.1L58.8 249.8L58.9 249.6L59.0 249.3L59.0 249.2L59.1 249.0L59.2 248.9L59.3 248.9L59.4 248.9L59.5 248.9L59.6 249.0L59.7 249.2L59.8 249.3L59.9 249.5L60.0 249.8L60.1 250.0L60.2 250.4L60.3 250.7L60.4 251.1L60.5 251.5L60.6 252.0L60.7 252.5L60.8 253.0L60.8 253.6L60.9 254.2L61.0 254.8L61.1 255.4L61.2 256.1L61.3 256.8L61.4 257.6L61.5 258.3L61.6 259.1L61.7 259.9L61.8 260.7L61.9 261.6L62.0 262.5L62.1 263.4L62.2 264.3L62.3 265.2L62.4 266.1L62.5 267.1L62.6 268.1L62.6 269.1L62.7 270.1L62.8 271.1L62.9 272.1L63.0 273.2L63.1 274.2L63.2 275.3L63.3 276.4L63.4 277.5L63.5 278.6L63.6 279.6L63.7 280.7L63.8 281.9L63.9 283.0L64.0 284.1L64.1 285.2L64.2 286.3L64.3 287.4L64.4 288.5L64.5 289.7L64.5 290.8L64.6 291.9L64.7 293.0L64.8 294.1L64.9 295.2L65.0 296.3L65.1 297.4L65.2 298.5L65.3 299.6L65.4 300.7L65.5 301.8L65.6 302.9L65.7 303.9L65.8 305.0L65.9 306.0L66.0 307.1L66.1 308.1L66.2 309.1L66.3 310.2L66.3 311.2L66.4 312.2L66.5 313.1L66.6 314.1L66.7 315.1L66.8 316.0L66.9 317.0L67.0 317.9L67.1 318.8L67.2 319.7L67.3 320.6L67.4 321.5L67.5 322.3L67.6 323.2L67.7 324.0L67.8 324.9L67.9 325.7L68.0 326.5L68.1 327.3L68.1 328.1L68.2 328.8L68.3 329.6L68.4 330.3L68.5 331.0L68.6 331.7L68.7 332.4L68.8 333.1L68.9 333.8L69.0 334.5L69.1 335.1L69.2 335.7L69.3 336.4L69.4 337.0L69.5 337.6L69.6 338.1L69.7 338.7L69.8 339.3L69.9 339.8L69.9 340.3L70.0 340.9L70.1 341.4L70.2 341.9L70.3 342.4L70.4 342.8L70.5 343.3L70.6 343.7L70.7 344.2L70.8 344.6L70.9 345.0L71.0 345.4L71.1 345.8L71.2 346.2L71.3 346.6L71.4 347.0L71.5 347.3L71.6 347.7L71.7 348.0L71.7 348.3L71.8 348.7L71.9 349.0L72.0 349.3L72.1 349.6L72.2 349.8L72.3 350.1L72.4 350.4L72.5 350.6L72.6 350.9L72.7 351.1L72.8 351.4L72.9 351.6L73.0 351.8L73.1 352.0L73.2 352.3L73.3 352.5L73.4 352.7L73.5 352.8L73.6 353.0L73.6 353.2L73.7 353.4L73.8 353.5L73.9 353.7L74.0 353.9L74.1 354.0L74.2 354.2L74.3 354.3L74.4 354.4L74.5 354.6L74.6 354.7L74.7 354.8L74.8 354.9L74.9 355.0L75.0 355.1L75.1 355.3L75.2 355.4L75.3 355.5L75.4 355.5L75.4 355.6L75.5 355.7L75.6 355.8L75.7 355.9L75.8 356.0L75.9 356.0L76.0 356.1L76.1 356.2L76.2 356.2L76.3 356.3L76.4 356.4L76.5 356.4L76.6 356.5L76.7 356.5L76.8 356.6L76.9 356.6L77.0 356.7L77.1 356.7L77.2 356.8L77.2 356.8L77.3 356.9L77.4 356.9L77.5 356.9L77.6 357.0L77.7 357.0L77.8 357.0L77.9 357.1L78.0 357.1L78.1 357.1L78.2 357.2L78.3 357.2L78.4 357.2L78.5 357.2L78.6 357.3L78.7 357.3L78.8 357.3L78.9 357.3L79.0 357.3L79.0 357.4L79.1 357.4L79.2 357.4L79.3 357.4L79.4 357.4L79.5 357.4L79.6 357.4L79.7 357.5L79.8 357.5L79.9 357.5" fill="none" stroke="#f00" stroke-width="0.95"/>
<path d="M52.6 357.7L52.8 356.4L53.1 355.1L53.3 353.9L53.5 352.6L53.8 351.3L54.0 350.0L54.3 348.8L54.5 347.5L54.7 346.2L55.0 345.0L55.2 343.7L55.4 342.4L55.7 341.2L55.9 339.9L56.2 338.6L56.4 337.4L56.6 336.1L56.9 334.9L57.1 333.6L57.3 332.4L57.6 331.2L57.8 329.9L58.1 328.7L58.3 327.5L58.5 326.3L58.8 325.0L59.0 323.8L59.2 322.6L59.5 321.4L59.7 320.2L59.9 319.0L60.2 317.9L60.4 316.7L60.7 315.5L60.9 314.4L61.1 313.2L61.4 312.0L61.6 310.9L61.8 309.8L62.1 308.6L62.3 307.5L62.6 306.4L62.8 305.3L63.0 304.2L63.3 303.1L63.5 302.0L63.7 300.9L64.0 299.9L64.2 298.8L64.5 297.7L64.7 296.7L64.9 295.7L65.2 294.6L65.4 293.6L65.6 292.6L65.9 291.6L66.1 290.6L66.3 289.7L66.6 288.7L66.8 287.7L67.1 286.8L67.3 285.8L67.5 284.9L67.8 284.0L68.0 283.1L68.2 282.2L68.5 281.3L68.7 280.4L69.0 279.6L69.2 278.7L69.4 277.9L69.7 277.0L69.9 276.2L70.1 275.4L70.4 274.6L70.6 273.8L70.8 273.1L71.1 272.3L71.3 271.5L71.6 270.8L71.8 270.1L72.0 269.4L72.3 268.7L72.5 268.0L72.7 267.3L73.0 266.6L73.2 266.0L73.5 265.3L73.7 264.7L73.9 264.1L74.2 263.5L74.4 262.9L74.6 262.3L74.9 261.7L75.1 261.2L75.4 260.6L75.6 260.1L75.8 259.6L76.1 259.1L76.3 258.6L76.5 258.1L76.8 257.6L77.0 257.2L77.2 256.7L77.5 256.3L77.7 255.9L78.0 255.4L78.2 255.1L78.4 254.7L78.7 254.3L78.9 253.9L79.1 253.6L79.4 253.3L79.6 252.9L79.9 252.6L80.1 252.3L80.3 252.1L80.6 251.8L80.8 251.5L81.0 251.3L81.3 251.1L81.5 250.8L81.8 250.6L82.0 250.4L82.2 250.3L82.5 250.1L82.7 249.9L82.9 249.8L83.2 249.6L83.4 249.5L83.6 249.4L83.9 249.3L84.1 249.2L84.4 249.1L84.6 249.1L84.8 249.0L85.1 249.0L85.3 248.9L85.5 248.9L85.8 248.9L86.0 248.9L86.3 248.9L86.5 248.9L86.7 249.0L87.0 249.0L87.2 249.1L87.4 249.1L87.7 249.2L87.9 249.3L88.2 249.4L88.4 249.5L88.6 249.6L88.9 249.7L89.1 249.9L89.3 250.0L89.6 250.2L89.8 250.4L90.0 250.5L90.3 250.7L90.5 250.9L90.8 251.1L91.0 251.3L91.2 251.6L91.5 251.8L91.7 252.0L91.9 252.3L92.2 252.5L92.4 252.8L92.7 253.1L92.9 253.3L93.1 253.6L93.4 253.9L93.6 254.2L93.8 254.6L94.1 254.9L94.3 255.2L94.5 255.5L94.8 255.9L95.0 256.2L95.3 256.6L95.5 257.0L95.7 257.3L96.0 257.7L96.2 258.1L96.4 258.5L96.7 258.9L96.9 259.3L97.2 259.7L97.4 260.1L97.6 260.5L97.9 261.0L98.1 261.4L98.3 261.8L98.6 262.3L98.8 262.7L99.1 263.2L99.3 263.6L99.5 264.1L99.8 264.6L100.0 265.1L100.2 265.5L100.5 266.0L100.7 266.5L100.9 267.0L101.2 267.5L101.4 268.0L101.7 268.5L101.9 269.0L102.1 269.5L102.4 270.0L102.6 270.6L102.8 271.1L103.1 271.6L103.3 272.1L103.6 272.7L103.8 273.2L104.0 273.7L104.3 274.3L104.5 274.8L104.7 275.3L105.0 275.9L105.2 276.4L105.5 277.0L105.7 277.5L105.9 278.1L106.2 278.7L106.4 279.2L106.6 279.8L106.9 280.3L107.1 280.9L107.3 281.5L107.6 282.0L107.8 282.6L108.1 283.2L108.3 283.7L108.5 284.3L108.8 284.9L109.0 285.4L109.2 286.0L109.5 286.6L109.7 287.1L110.0 287.7L110.2 288.3L110.4 288.8L110.7 289.4L110.9 290.0L111.1 290.6L111.4 291.1L111.6 291.7L111.8 292.3L112.1 292.8L112.3 293.4L112.6 294.0L112.8 294.5L113.0 295.1L113.3 295.7L113.5 296.2L113.7 296.8L114.0 297.3L114.2 297.9L114.5 298.5L114.7 299.0L114.9 299.6L115.2 300.1L115.4 300.7L115.6 301.2L115.9 301.8L116.1 302.3L116.4 302.9L116.6 303.4L116.8 304.0L117.1 304.5L117.3 305.0L117.5 305.6L117.8 306.1L118.0 306.6L118.2 307.2L118.5 307.7L118.7 308.2L119.0 308.7L119.2 309.3L119.4 309.8L119.7 310.3L119.9 310.8L120.1 311.3L120.4 311.8L120.6 312.3L120.9 312.8L121.1 313.3L121.3 313.8L121.6 314.3L121.8 314.8L122.0 315.3L122.3 315.8L122.5 316.2L122.8 316.7L123.0 317.2L123.2 317.7L123.5 318.1L123.7 318.6L123.9 319.1L124.2 319.5L124.4 320.0L124.6 320.4L124.9 320.9L125.1 321.3L125.4 321.8L125.6 322.2L125.8 322.7L126.1 323.1L126.3 323.5L126.5 324.0L126.8 324.4L127.0 324.8L127.3 325.2L127.5 325.6L127.7 326.0L128.0 326.4L128.2 326.9L128.4 327.3L128.7 327.7L128.9 328.0L129.2 328.4L129.4 328.8L129.6 329.2L129.9 329.6L130.1 330.0L130.3 330.3L130.6 330.7L130.8 331.1L131.0 331.4L131.3 331.8L131.5 332.2L131.8 332.5L132.0 332.9L132.2 333.2L132.5 333.5L132.7 333.9L132.9 334.2L133.2 334.6L133.4 334.9L133.7 335.2L133.9 335.5L134.1 335.9L134.4 336.2L134.6 336.5L134.8 336.8L135.1 337.1L135.3 337.4L135.6 337.7L135.8 338.0L136.0 338.3L136.3 338.6L136.5 338.9L136.7 339.1L137.0 339.4L137.2 339.7L137.4 340.0L137.7 340.3L137.9 340.5L138.2 340.8L138.4 341.0L138.6 341.3L138.9 341.6L139.1 341.8L139.3 342.1L139.6 342.3L139.8 342.5L140.1 342.8L140.3 343.0L140.5 343.3L140.8 343.5L141.0 343.7L141.2 343.9L141.5 344.2L141.7 344.4L141.9 344.6L142.2 344.8L142.4 345.0L142.7 345.2L142.9 345.4L143.1 345.6L143.4 345.9L143.6 346.0L143.8 346.2L144.1 346.4L144.3 346.6L144.6 346.8L144.8 347.0L145.0 347.2L145.3 347.4L145.5 347.5L145.7 347.7L146.0 347.9L146.2 348.1L146.5 348.2L146.7 348.4L146.9 348.6L147.2 348.7L147.4 348.9L147.6 349.0L147.9 349.2L148.1 349.3L148.3 349.5L148.6 349.6L148.8 349.8L149.1 349.9L149.3 350.1L149.5 350.2L149.8 350.3L150.0 350.5L150.2 350.6L150.5 350.7L150.7 350.9L151.0 351.0L151.2 351.1L151.4 351.2L151.7 351.3L151.9 351.5L152.1 351.6L152.4 351.7L152.6 351.8L152.9 351.9L153.1 352.0L153.3 352.1L153.6 352.2L153.8 352.4L154.0 352.5L154.3 352.6L154.5 352.7L154.7 352.8L155.0 352.8L155.2 352.9L155.5 353.0L155.7 353.1L155.9 353.2L156.2 353.3L156.4 353.4L156.6 353.5L156.9 353.6L157.1 353.6L157.4 353.7L157.6 353.8L157.8 353.9L158.1 354.0L158.3 354.0L158.5 354.1L158.8 354.2L159.0 354.2L159.2 354.3L159.5 354.4L159.7 354.5L160.0 354.5L160.2 354.6L160.4 354.7L160.7 354.7L160.9 354.8L161.1 354.8L161.4 354.9L161.6 355.0L161.9 355.0L162.1 355.1L162.3 355.1L162.6 355.2L162.8 355.2L163.0 355.3L163.3 355.3L163.5 355.4L163.8 355.4L164.0 355.5L164.2 355.5L164.5 355.6L164.7 355.6L164.9 355.7L165.2 355.7L165.4 355.8L165.6 355.8L165.9 355.8L166.1 355.9L166.4 355.9L166.6 356.0L166.8 356.0L167.1 356.0L167.3 356.1L167.5 356.1L167.8 356.1L168.0 356.2L168.3 356.2L168.5 356.2L168.7 356.3L169.0 356.3L169.2 356.3L169.4 356.4L169.7 356.4L169.9 356.4L170.2 356.5L170.4 356.5L170.6 356.5L170.9 356.5L171.1 356.6L171.3 356.6L171.6 356.6L171.8 356.7L172.0 356.7L172.3 356.7L172.5 356.7L172.8 356.7L173.0 356.8L173.2 356.8L173.5 356.8L173.7 356.8L173.9 356.9L174.2 356.9L174.4 356.9L174.7 356.9L174.9 356.9L175.1 356.9L175.4 357.0L175.6 357.0L175.8 357.0L176.1 357.0L176.3 357.0L176.6 357.1L176.8 357.1L177.0 357.1L177.3 357.1L177.5 357.1L177.7 357.1L178.0 357.1L178.2 357.2L178.4 357.2L178.7 357.2L178.9 357.2L179.2 357.2L179.4 357.2L179.6 357.2L179.9 357.2L180.1 357.3L180.3 357.3L180.6 357.3L180.8 357.3L181.1 357.3L181.3 357.3L181.5 357.3L181.8 357.3L182.0 357.3L182.2 357.3L182.5 357.4L182.7 357.4L182.9 357.4L183.2 357.4L183.4 357.4L183.7 357.4L183.9 357.4L184.1 357.4L184.4 357.4L184.6 357.4L184.8 357.4L185.1 357.4L185.3 357.4L185.6 357.5L185.8 357.5L186.0 357.5L186.3 357.5L186.5 357.5L186.7 357.5" fill="none" stroke="#f00" stroke-width="0.95" stroke-dasharray="5 3.4"/>
<path d="M217.9 357.4L218.2 357.4L218.5 357.3L218.8 357.3L219.1 357.2L219.4 357.2L219.8 357.1L220.1 357.1L220.4 357.0L220.7 357.0L221.0 356.9L221.3 356.8L221.7 356.7L222.0 356.6L222.3 356.5L222.6 356.4L222.9 356.3L223.2 356.2L223.6 356.0L223.9 355.9L224.2 355.7L224.5 355.6L224.8 355.4L225.1 355.2L225.5 355.0L225.8 354.8L226.1 354.6L226.4 354.3L226.7 354.1L227.0 353.8L227.3 353.6L227.7 353.3L228.0 353.0L228.3 352.6L228.6 352.3L228.9 351.9L229.2 351.6L229.6 351.2L229.9 350.8L230.2 350.3L230.5 349.9L230.8 349.4L231.1 348.9L231.5 348.4L231.8 347.9L232.1 347.4L232.4 346.8L232.7 346.2L233.0 345.6L233.4 345.0L233.7 344.3L234.0 343.7L234.3 343.0L234.6 342.3L234.9 341.5L235.2 340.8L235.6 340.0L235.9 339.2L236.2 338.4L236.5 337.6L236.8 336.7L237.1 335.8L237.5 335.0L237.8 334.0L238.1 333.1L238.4 332.2L238.7 331.2L239.0 330.2L239.4 329.2L239.7 328.2L240.0 327.1L240.3 326.1L240.6 325.0L240.9 323.9L241.3 322.8L241.6 321.7L241.9 320.6L242.2 319.4L242.5 318.3L242.8 317.1L243.1 315.9L243.5 314.7L243.8 313.6L244.1 312.4L244.4 311.1L244.7 309.9L245.0 308.7L245.4 307.5L245.7 306.3L246.0 305.0L246.3 303.8L246.6 302.5L246.9 301.3L247.3 300.1L247.6 298.8L247.9 297.6L248.2 296.4L248.5 295.1L248.8 293.9L249.2 292.7L249.5 291.5L249.8 290.3L250.1 289.1L250.4 287.9L250.7 286.7L251.0 285.5L251.4 284.3L251.7 283.2L252.0 282.0L252.3 280.9L252.6 279.8L252.9 278.7L253.3 277.6L253.6 276.5L253.9 275.5L254.2 274.4L254.5 273.4L254.8 272.4L255.2 271.4L255.5 270.4L255.8 269.4L256.1 268.5L256.4 267.6L256.7 266.7L257.1 265.8L257.4 264.9L257.7 264.1L258.0 263.3L258.3 262.5L258.6 261.7L258.9 261.0L259.3 260.2L259.6 259.5L259.9 258.8L260.2 258.2L260.5 257.5L260.8 256.9L261.2 256.3L261.5 255.7L261.8 255.2L262.1 254.7L262.4 254.2L262.7 253.7L263.1 253.2L263.4 252.8L263.7 252.4L264.0 252.0L264.3 251.7L264.6 251.3L265.0 251.0L265.3 250.7L265.6 250.4L265.9 250.2L266.2 250.0L266.5 249.8L266.8 249.6L267.2 249.4L267.5 249.3L267.8 249.2L268.1 249.1L268.4 249.0L268.7 248.9L269.1 248.9L269.4 248.9L269.7 248.9L270.0 248.9L270.3 249.0L270.6 249.0L271.0 249.1L271.3 249.2L271.6 249.4L271.9 249.5L272.2 249.7L272.5 249.8L272.9 250.0L273.2 250.2L273.5 250.5L273.8 250.7L274.1 251.0L274.4 251.2L274.7 251.5L275.1 251.8L275.4 252.1L275.7 252.5L276.0 252.8L276.3 253.2L276.6 253.5L277.0 253.9L277.3 254.3L277.6 254.7L277.9 255.1L278.2 255.6L278.5 256.0L278.9 256.5L279.2 256.9L279.5 257.4L279.8 257.9L280.1 258.4L280.4 258.9L280.8 259.4L281.1 259.9L281.4 260.4L281.7 261.0L282.0 261.5L282.3 262.0L282.6 262.6L283.0 263.2L283.3 263.7L283.6 264.3L283.9 264.9L284.2 265.5L284.5 266.1L284.9 266.7L285.2 267.3L285.5 267.9L285.8 268.5L286.1 269.1L286.4 269.7L286.8 270.3L287.1 270.9L287.4 271.6L287.7 272.2L288.0 272.8L288.3 273.5L288.7 274.1L289.0 274.7L289.3 275.4L289.6 276.0L289.9 276.6L290.2 277.3L290.5 277.9L290.9 278.6L291.2 279.2L291.5 279.9L291.8 280.5L292.1 281.2L292.4 281.8L292.8 282.5L293.1 283.1L293.4 283.7L293.7 284.4L294.0 285.0L294.3 285.7L294.7 286.3L295.0 286.9L295.3 287.6L295.6 288.2L295.9 288.9L296.2 289.5L296.6 290.1L296.9 290.7L297.2 291.4L297.5 292.0L297.8 292.6L298.1 293.2L298.4 293.9L298.8 294.5L299.1 295.1L299.4 295.7L299.7 296.3L300.0 296.9L300.3 297.5L300.7 298.1L301.0 298.7L301.3 299.3L301.6 299.9L301.9 300.5L302.2 301.0L302.6 301.6L302.9 302.2L303.2 302.8L303.5 303.3L303.8 303.9L304.1 304.5L304.5 305.0L304.8 305.6L305.1 306.1L305.4 306.7L305.7 307.2L306.0 307.7L306.3 308.3L306.7 308.8L307.0 309.3L307.3 309.9L307.6 310.4L307.9 310.9L308.2 311.4L308.6 311.9L308.9 312.4L309.2 312.9L309.5 313.4L309.8 313.9L310.1 314.4L310.5 314.9L310.8 315.3L311.1 315.8L311.4 316.3L311.7 316.8L312.0 317.2L312.4 317.7L312.7 318.1L313.0 318.6L313.3 319.0L313.6 319.5L313.9 319.9L314.2 320.3L314.6 320.8L314.9 321.2L315.2 321.6L315.5 322.0L315.8 322.5L316.1 322.9L316.5 323.3L316.8 323.7L317.1 324.1L317.4 324.5L317.7 324.9L318.0 325.2L318.4 325.6L318.7 326.0L319.0 326.4L319.3 326.8L319.6 327.1L319.9 327.5L320.3 327.8L320.6 328.2L320.9 328.6L321.2 328.9L321.5 329.3L321.8 329.6L322.1 329.9L322.5 330.3L322.8 330.6L323.1 330.9L323.4 331.3L323.7 331.6L324.0 331.9L324.4 332.2L324.7 332.5L325.0 332.8L325.3 333.1L325.6 333.4L325.9 333.7L326.3 334.0L326.6 334.3L326.9 334.6L327.2 334.9L327.5 335.2L327.8 335.4L328.2 335.7L328.5 336.0L328.8 336.3L329.1 336.5L329.4 336.8L329.7 337.1L330.0 337.3L330.4 337.6L330.7 337.8L331.0 338.1L331.3 338.3L331.6 338.6L331.9 338.8L332.3 339.0L332.6 339.3L332.9 339.5L333.2 339.7L333.5 340.0L333.8 340.2L334.2 340.4L334.5 340.6L334.8 340.8L335.1 341.0L335.4 341.3L335.7 341.5L336.1 341.7L336.4 341.9L336.7 342.1L337.0 342.3L337.3 342.5L337.6 342.7L337.9 342.9L338.3 343.0L338.6 343.2L338.9 343.4L339.2 343.6L339.5 343.8L339.8 344.0L340.2 344.1L340.5 344.3L340.8 344.5L341.1 344.7L341.4 344.8L341.7 345.0L342.1 345.1L342.4 345.3L342.7 345.5L343.0 345.6L343.3 345.8L343.6 345.9L344.0 346.1L344.3 346.2L344.6 346.4L344.9 346.5L345.2 346.7L345.5 346.8L345.8 347.0L346.2 347.1L346.5 347.2L346.8 347.4L347.1 347.5L347.4 347.6L347.7 347.8L348.1 347.9L348.4 348.0L348.7 348.2L349.0 348.3L349.3 348.4L349.6 348.5L350.0 348.6L350.3 348.8L350.6 348.9L350.9 349.0L351.2 349.1L351.5 349.2L351.9 349.3L352.2 349.4L352.5 349.5L352.8 349.7L353.1 349.8L353.4 349.9L353.7 350.0L354.1 350.1L354.4 350.2L354.7 350.3L355.0 350.4L355.3 350.5L355.6 350.6L356.0 350.6L356.3 350.7L356.6 350.8L356.9 350.9L357.2 351.0L357.5 351.1L357.9 351.2L358.2 351.3L358.5 351.4L358.8 351.4L359.1 351.5L359.4 351.6L359.8 351.7L360.1 351.8L360.4 351.8L360.7 351.9L361.0 352.0L361.3 352.1L361.6 352.1L362.0 352.2L362.3 352.3L362.6 352.4L362.9 352.4L363.2 352.5L363.5 352.6L363.9 352.6L364.2 352.7L364.5 352.8L364.8 352.8L365.1 352.9L365.4 353.0L365.8 353.0L366.1 353.1L366.4 353.1L366.7 353.2L367.0 353.3L367.3 353.3L367.7 353.4L368.0 353.4L368.3 353.5L368.6 353.6L368.9 353.6L369.2 353.7L369.5 353.7L369.9 353.8L370.2 353.8L370.5 353.9L370.8 353.9L371.1 354.0L371.4 354.0L371.8 354.1L372.1 354.1L372.4 354.2L372.7 354.2L373.0 354.3L373.3 354.3L373.7 354.4L374.0 354.4L374.3 354.4L374.6 354.5L374.9 354.5L375.2 354.6L375.6 354.6L375.9 354.7L376.2 354.7L376.5 354.7L376.8 354.8L377.1 354.8L377.4 354.9L377.8 354.9L378.1 354.9L378.4 355.0L378.7 355.0L379.0 355.0L379.3 355.1L379.7 355.1L380.0 355.1L380.3 355.2L380.6 355.2L380.9 355.2L381.2 355.3L381.6 355.3L381.9 355.3L382.2 355.4L382.5 355.4L382.8 355.4L383.1 355.5L383.5 355.5L383.8 355.5L384.1 355.6L384.4 355.6L384.7 355.6L385.0 355.6L385.3 355.7L385.7 355.7L386.0 355.7L386.3 355.7L386.6 355.8L386.9 355.8L387.2 355.8L387.6 355.8L387.9 355.9L388.2 355.9L388.5 355.9L388.8 355.9L389.1 356.0L389.5 356.0L389.8 356.0L390.1 356.0L390.4 356.1L390.7 356.1L391.0 356.1L391.4 356.1L391.7 356.1L392.0 356.2L392.3 356.2L392.6 356.2L392.9 356.2L393.2 356.2L393.6 356.3L393.9 356.3L394.2 356.3L394.5 356.3L394.8 356.3L395.1 356.4L395.5 356.4L395.8 356.4L396.1 356.4L396.4 356.4L396.7 356.4L397.0 356.5L397.4 356.5L397.7 356.5L398.0 356.5L398.3 356.5L398.6 356.5L398.9 356.6L399.3 356.6L399.6 356.6L399.9 356.6L400.2 356.6L400.5 356.6L400.8 356.6L401.1 356.7L401.5 356.7L401.8 356.7L402.1 356.7L402.4 356.7L402.7 356.7L403.0 356.7L403.4 356.8L403.7 356.8L404.0 356.8L404.3 356.8L404.6 356.8L404.9 356.8L405.3 356.8L405.6 356.8L405.9 356.9L406.2 356.9L406.5 356.9L406.8 356.9L407.2 356.9L407.5 356.9L407.8 356.9L408.1 356.9L408.4 356.9L408.7 356.9L409.0 357.0L409.4 357.0L409.7 357.0L410.0 357.0L410.3 357.0L410.6 357.0L410.9 357.0L411.3 357.0L411.6 357.0L411.9 357.0L412.2 357.1L412.5 357.1L412.8 357.1L413.2 357.1L413.5 357.1L413.8 357.1L414.1 357.1L414.4 357.1L414.7 357.1L415.1 357.1L415.4 357.1L415.7 357.1L416.0 357.2L416.3 357.2L416.6 357.2L416.9 357.2L417.3 357.2L417.6 357.2L417.9 357.2L418.2 357.2L418.5 357.2L418.8 357.2L419.2 357.2L419.5 357.2L419.8 357.2L420.1 357.2L420.4 357.2L420.7 357.3L421.1 357.3L421.4 357.3L421.7 357.3L422.0 357.3L422.3 357.3L422.6 357.3L423.0 357.3L423.3 357.3L423.6 357.3L423.9 357.3L424.2 357.3L424.5 357.3L424.8 357.3L425.2 357.3L425.5 357.3L425.8 357.3L426.1 357.3L426.4 357.3L426.7 357.4L427.1 357.4L427.4 357.4L427.7 357.4L428.0 357.4L428.3 357.4" fill="none" stroke="#f00" stroke-width="0.95" stroke-dasharray="1.3 2.8"/>
<path d="M52.6 358.4V238.3M48.6 244.8L52.6 238.1L56.6 244.8" fill="none" stroke="#111" stroke-width="1.1"/>
<path d="M52 358H668.6M662.6 354.1L669 358L662.6 361.9" fill="none" stroke="#222" stroke-width="1.5"/>
<text x="56.2" y="241.2" font-size="12" fill="#f00">Weibull</text>
<text x="124" y="231.7" font-size="12">Rayleigh</text>
<text x="254.5" y="231.8" font-size="12">Rice</text>
<text x="238.6" y="241.3" font-size="12" fill="#f00">Gumbel like</text>
<text x="496" y="231.8" font-size="12">Normal like</text>
<text x="49.3" y="370.4" font-size="12">0</text>
<text x="229.2" y="368.9" font-size="12.3">σ<tspan font-size="8.5" dy="2.2">p</tspan><tspan dy="-2.2">=2</tspan></text>
<text x="513.7" y="368.7" font-size="12.3">σ<tspan font-size="8.5" dy="2.2">p</tspan><tspan dy="-2.2">=5</tspan></text>
<text x="129.6" y="404.2" font-size="20.5" textLength="10.2" lengthAdjust="spacingAndGlyphs" stroke="#000" stroke-width="0.3">a</text>
<text x="130.2" y="432.5" font-size="20.5" textLength="10.8" lengthAdjust="spacingAndGlyphs" stroke="#000" stroke-width="0.3">b</text>
<text x="130.0" y="459.3" font-size="20.5" textLength="9.2" lengthAdjust="spacingAndGlyphs" stroke="#000" stroke-width="0.3">c</text>
<path d="M154.8 396.75H178.2V399.65H154.8Z" fill="#000"/><path d="M186.3 398.20L177.7 393.80L177.7 398.20L177.7 402.60Z" fill="#000"/>
<path d="M152.9 427.35H176.9V430.25H152.9Z" fill="#000"/><path d="M185.0 428.80L176.4 424.40L176.4 428.80L176.4 433.20Z" fill="#000"/>
<path d="M151.7 455.25H175.9V458.15H151.7Z" fill="#000"/><path d="M184.0 456.70L175.4 452.30L175.4 456.70L175.4 461.10Z" fill="#000"/>
<text x="187.6" y="404.2" font-size="20.3" textLength="77" lengthAdjust="spacingAndGlyphs" stroke="#000" stroke-width="0.3">Rayleigh</text>
<text x="188.6" y="432.4" font-size="20.3" textLength="37.6" lengthAdjust="spacingAndGlyphs" stroke="#000" stroke-width="0.3">Rice</text>
<text x="186.6" y="459.0" font-size="20.3" textLength="104" lengthAdjust="spacingAndGlyphs" stroke="#000" stroke-width="0.3">Normal like</text>
<path d="M305 398.3H355.6" stroke="#000" stroke-width="1.25"/>
<path d="M305.9 428H353.8" stroke="#111" stroke-width="1.5" stroke-dasharray="6.3 4.2"/>
<path d="M308 459.1H353.8" stroke="#111" stroke-width="1.5" stroke-dasharray="4 1.25"/>
<text x="359" y="389.6" font-size="12" font-style="italic">r</text>
<path d="M362.3 396.75H395.8V399.85H362.3Z" fill="#000"/><path d="M403.9 398.30L395.3 393.85L395.3 398.30L395.3 402.75Z" fill="#000"/>
<path d="M362.3 428.15H395.8V431.25H362.3Z" fill="#000"/><path d="M403.9 429.70L395.3 425.25L395.3 429.70L395.3 434.15Z" fill="#000"/>
<path d="M364.7 457.95H398.5V461.05H364.7Z" fill="#000"/><path d="M406.6 459.50L398.0 455.05L398.0 459.50L398.0 463.95Z" fill="#000"/>
<text x="429.8" y="403.9" font-size="20.3" textLength="70.2" lengthAdjust="spacingAndGlyphs" stroke="#000" stroke-width="0.3">Weibull</text>
<text x="429.8" y="432.5" font-size="20.3" textLength="70.2" lengthAdjust="spacingAndGlyphs" stroke="#000" stroke-width="0.3">Weibull</text>
<text x="429.6" y="459.3" font-size="20.3" textLength="108.4" lengthAdjust="spacingAndGlyphs" stroke="#000" stroke-width="0.3">Gumbel like</text>
<path d="M543.5 398.1H606" stroke="#f00" stroke-width="1.5"/>
<path d="M546.1 428.8H604.5" stroke="#f00" stroke-width="1.4" stroke-dasharray="6.4 4.3"/>
<path d="M544.9 459.6H606.3" stroke="#f00" stroke-width="1.4" stroke-dasharray="4.05 1.2"/>
</svg>
</body></html>
